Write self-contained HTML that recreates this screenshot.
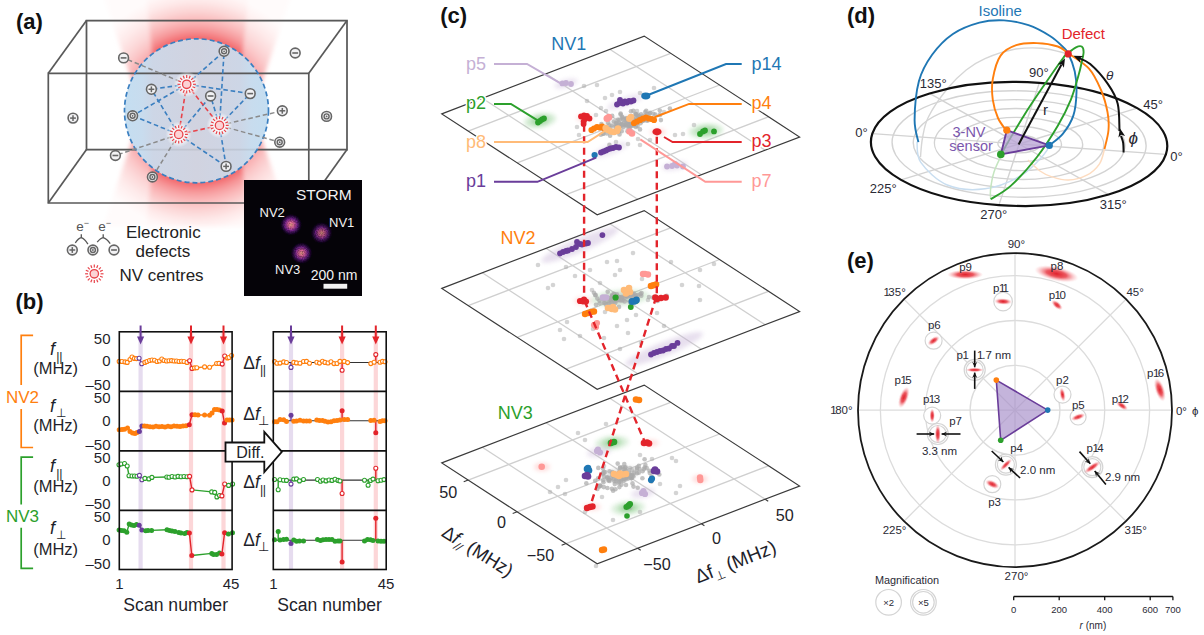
<!DOCTYPE html>
<html><head><meta charset="utf-8"><title>Figure</title>
<style>html,body{margin:0;padding:0;background:#fff;width:1204px;height:635px;overflow:hidden} svg{display:block}</style>
</head><body>
<svg width="1204" height="635" viewBox="0 0 1204 635" font-family="'Liberation Sans', Arial, sans-serif">
<defs>
<filter id="grain" x="-20%" y="-20%" width="140%" height="140%">
  <feTurbulence type="fractalNoise" baseFrequency="0.85" numOctaves="1" seed="3" result="n"/>
  <feColorMatrix in="n" type="matrix" values="0 0 0 1 0  0 0 0 1 0  0 0 0 1 0  0 0 0 1 0" result="na"/>
  <feComposite in="SourceGraphic" in2="na" operator="arithmetic" k1="1.0" k2="0.5" k3="0" k4="0"/>
</filter>
<filter id="blur6" x="-50%" y="-50%" width="200%" height="200%"><feGaussianBlur stdDeviation="6"/></filter>
<filter id="blur2" x="-50%" y="-50%" width="200%" height="200%"><feGaussianBlur stdDeviation="2"/></filter>
<radialGradient id="glowrad" gradientUnits="userSpaceOnUse" cx="196.5" cy="110.8" r="120">
  <stop offset="0.58" stop-color="#f05e63"/><stop offset="0.6" stop-color="#f2686c"/><stop offset="0.633" stop-color="#f47e81"/><stop offset="0.683" stop-color="#f79c9e"/>
  <stop offset="0.75" stop-color="#fab9ba"/><stop offset="0.833" stop-color="#fcd5d5"/><stop offset="0.917" stop-color="#feeaea"/><stop offset="1" stop-color="#fff8f8"/>
</radialGradient>
<linearGradient id="beamh" gradientUnits="userSpaceOnUse" x1="100" y1="0" x2="290" y2="0">
  <stop offset="0.079" stop-color="#000"/><stop offset="0.147" stop-color="#1a1a1a"/><stop offset="0.21" stop-color="#3a3a3a"/>
  <stop offset="0.242" stop-color="#d0d0d0"/><stop offset="0.263" stop-color="#fff"/><stop offset="0.753" stop-color="#fff"/>
  <stop offset="0.779" stop-color="#d0d0d0"/><stop offset="0.81" stop-color="#3a3a3a"/><stop offset="0.868" stop-color="#1a1a1a"/><stop offset="0.937" stop-color="#000"/>
</linearGradient>
<mask id="beammask" maskUnits="userSpaceOnUse" x="90" y="-20" width="210" height="260"><rect x="100" y="-10" width="190" height="240" fill="url(#beamh)"/></mask>
<radialGradient id="sphgrad" cx="0.5" cy="0.5" r="0.5">
  <stop offset="0" stop-color="#d2d5e2"/><stop offset="0.55" stop-color="#d0d6e4"/><stop offset="1" stop-color="#c7def0"/>
</radialGradient>
<linearGradient id="sphlin" gradientUnits="userSpaceOnUse" x1="124.5" y1="0" x2="268.5" y2="0">
  <stop offset="0" stop-color="#c4def1"/><stop offset="0.12" stop-color="#c8dcee"/><stop offset="0.2" stop-color="#cdd6e6"/>
  <stop offset="0.5" stop-color="#d1d3e0"/><stop offset="0.8" stop-color="#cdd6e6"/><stop offset="0.88" stop-color="#c8dcee"/><stop offset="1" stop-color="#c4def1"/>
</linearGradient>
<radialGradient id="nvglow" cx="0.5" cy="0.5" r="0.5">
  <stop offset="0" stop-color="#ffffff" stop-opacity="1"/><stop offset="0.6" stop-color="#ffffff" stop-opacity="0.8"/><stop offset="1" stop-color="#ffffff" stop-opacity="0"/>
</radialGradient>
<radialGradient id="stormblob" cx="0.5" cy="0.5" r="0.5">
  <stop offset="0" stop-color="#f8a890"/><stop offset="0.25" stop-color="#e0689a"/><stop offset="0.55" stop-color="#7a2590"/><stop offset="0.8" stop-color="#3a0f5a" stop-opacity="0.6"/><stop offset="1" stop-color="#1a0530" stop-opacity="0"/>
</radialGradient>

<filter id="blur06" x="-50%" y="-50%" width="200%" height="200%"><feGaussianBlur stdDeviation="0.7"/></filter>
<radialGradient id="redblob" cx="0.5" cy="0.5" r="0.5">
  <stop offset="0" stop-color="#e0202a"/><stop offset="0.45" stop-color="#e83a44" stop-opacity="0.85"/><stop offset="1" stop-color="#f7a0a5" stop-opacity="0"/>
</radialGradient>
</defs>
<rect width="1204" height="635" fill="#ffffff"/>
<g id="pa"><g filter="url(#blur2)">
<polygon points="146,-5 249,-5 236,110.8 158,110.8" stroke="none" stroke-width="1" fill="url(#glowrad)" opacity="1"/>
<polygon points="146,226.6 249,226.6 236,110.8 158,110.8" stroke="none" stroke-width="1" fill="url(#glowrad)" opacity="1"/>
<polygon points="103,-5 146,-5 158,110.8 142,110.8" stroke="none" stroke-width="1" fill="url(#glowrad)" opacity="0.55"/>
<polygon points="103,226.6 146,226.6 158,110.8 142,110.8" stroke="none" stroke-width="1" fill="url(#glowrad)" opacity="0.55"/>
<polygon points="292,-5 249,-5 236,110.8 252,110.8" stroke="none" stroke-width="1" fill="url(#glowrad)" opacity="0.55"/>
<polygon points="292,226.6 249,226.6 236,110.8 252,110.8" stroke="none" stroke-width="1" fill="url(#glowrad)" opacity="0.55"/>
</g>
<polygon points="86.5,20.6 347,20.6 347,149.6 86.5,149.6" stroke="#595959" stroke-width="1.7" fill="none" />
<circle cx="196.5" cy="110.8" r="72" fill="url(#sphlin)" stroke="none" stroke-width="1" />
<g opacity="0.12"><polygon points="86.5,20.6 347,20.6 347,149.6 86.5,149.6" stroke="#595959" stroke-width="1.7" fill="none" /></g>
<polygon points="48.3,73.3 308.8,73.3 308.8,203 48.3,203" stroke="#595959" stroke-width="1.7" fill="none" />
<line x1="48.3" y1="73.3" x2="86.5" y2="20.6" stroke="#595959" stroke-width="1.7" />
<line x1="308.8" y1="73.3" x2="347" y2="20.6" stroke="#595959" stroke-width="1.7" />
<line x1="48.3" y1="203" x2="86.5" y2="149.6" stroke="#595959" stroke-width="1.7" />
<line x1="308.8" y1="203" x2="347" y2="149.6" stroke="#595959" stroke-width="1.7" />
<circle cx="196.5" cy="110.8" r="72" fill="none" stroke="#3b7fc0" stroke-width="1.7" stroke-dasharray="5 3"/>
<line x1="186.7" y1="84.3" x2="151.4" y2="89.3" stroke="#3b7fc0" stroke-width="1.6" stroke-dasharray="4.6 2.8"/>
<line x1="186.7" y1="84.3" x2="132.6" y2="115.8" stroke="#3b7fc0" stroke-width="1.6" stroke-dasharray="4.6 2.8"/>
<line x1="186.7" y1="84.3" x2="224.1" y2="51.3" stroke="#3b7fc0" stroke-width="1.6" stroke-dasharray="4.6 2.8"/>
<line x1="186.7" y1="84.3" x2="250.2" y2="93.6" stroke="#3b7fc0" stroke-width="1.6" stroke-dasharray="4.6 2.8"/>
<line x1="219.5" y1="125.4" x2="250.2" y2="93.6" stroke="#3b7fc0" stroke-width="1.6" stroke-dasharray="4.6 2.8"/>
<line x1="219.5" y1="125.4" x2="224.1" y2="51.3" stroke="#3b7fc0" stroke-width="1.6" stroke-dasharray="4.6 2.8"/>
<line x1="178.7" y1="134.4" x2="132.6" y2="115.8" stroke="#3b7fc0" stroke-width="1.6" stroke-dasharray="4.6 2.8"/>
<line x1="178.7" y1="134.4" x2="151.4" y2="89.3" stroke="#3b7fc0" stroke-width="1.6" stroke-dasharray="4.6 2.8"/>
<line x1="178.7" y1="134.4" x2="226.1" y2="166.4" stroke="#3b7fc0" stroke-width="1.6" stroke-dasharray="4.6 2.8"/>
<line x1="219.5" y1="125.4" x2="226.1" y2="166.4" stroke="#3b7fc0" stroke-width="1.6" stroke-dasharray="4.6 2.8"/>
<line x1="178.7" y1="134.4" x2="210.6" y2="96" stroke="#3b7fc0" stroke-width="1.6" stroke-dasharray="4.6 2.8"/>
<line x1="219.5" y1="125.4" x2="210.6" y2="96" stroke="#3b7fc0" stroke-width="1.6" stroke-dasharray="4.6 2.8"/>
<line x1="186.7" y1="84.3" x2="123.6" y2="57.9" stroke="#8a8a8a" stroke-width="1.5" stroke-dasharray="4.6 2.8"/>
<line x1="219.5" y1="125.4" x2="282.3" y2="110.8" stroke="#8a8a8a" stroke-width="1.5" stroke-dasharray="4.6 2.8"/>
<line x1="219.5" y1="125.4" x2="279.7" y2="142.2" stroke="#8a8a8a" stroke-width="1.5" stroke-dasharray="4.6 2.8"/>
<line x1="178.7" y1="134.4" x2="115.4" y2="155.5" stroke="#8a8a8a" stroke-width="1.5" stroke-dasharray="4.6 2.8"/>
<line x1="178.7" y1="134.4" x2="152.4" y2="177" stroke="#8a8a8a" stroke-width="1.5" stroke-dasharray="4.6 2.8"/>
<line x1="186.7" y1="84.3" x2="178.7" y2="134.4" stroke="#e8434a" stroke-width="1.6" stroke-dasharray="4.6 2.8"/>
<line x1="186.7" y1="84.3" x2="219.5" y2="125.4" stroke="#e8434a" stroke-width="1.6" stroke-dasharray="4.6 2.8"/>
<line x1="178.7" y1="134.4" x2="219.5" y2="125.4" stroke="#e8434a" stroke-width="1.6" stroke-dasharray="4.6 2.8"/>
<circle cx="123.6" cy="57.9" r="4.9" fill="#f2f2f4" stroke="#666666" stroke-width="1.6" />
<line x1="120.7" y1="57.9" x2="126.5" y2="57.9" stroke="#666666" stroke-width="1.6" />
<circle cx="224.1" cy="51.3" r="4.9" fill="#f2f2f4" stroke="#666666" stroke-width="1.6" />
<circle cx="224.1" cy="51.3" r="2.5" fill="none" stroke="#666666" stroke-width="1.4" />
<circle cx="224.1" cy="51.3" r="0.9" fill="#666666" stroke="none" stroke-width="1" />
<circle cx="295.2" cy="53" r="4.9" fill="#f2f2f4" stroke="#666666" stroke-width="1.6" />
<line x1="292.3" y1="53" x2="298.1" y2="53" stroke="#666666" stroke-width="1.6" />
<circle cx="151.4" cy="89.3" r="4.9" fill="#f2f2f4" stroke="#666666" stroke-width="1.6" />
<line x1="148.5" y1="89.3" x2="154.3" y2="89.3" stroke="#666666" stroke-width="1.5" />
<line x1="151.4" y1="86.4" x2="151.4" y2="92.2" stroke="#666666" stroke-width="1.5" />
<circle cx="210.6" cy="96" r="4.9" fill="#f2f2f4" stroke="#666666" stroke-width="1.6" />
<line x1="207.7" y1="96" x2="213.5" y2="96" stroke="#666666" stroke-width="1.6" />
<circle cx="250.2" cy="93.6" r="4.9" fill="#f2f2f4" stroke="#666666" stroke-width="1.6" />
<line x1="247.3" y1="93.6" x2="253.1" y2="93.6" stroke="#666666" stroke-width="1.6" />
<circle cx="132.6" cy="115.8" r="4.9" fill="#f2f2f4" stroke="#666666" stroke-width="1.6" />
<circle cx="132.6" cy="115.8" r="2.5" fill="none" stroke="#666666" stroke-width="1.4" />
<circle cx="132.6" cy="115.8" r="0.9" fill="#666666" stroke="none" stroke-width="1" />
<circle cx="73" cy="118.1" r="4.9" fill="#f2f2f4" stroke="#666666" stroke-width="1.6" />
<line x1="70.1" y1="118.1" x2="75.9" y2="118.1" stroke="#666666" stroke-width="1.5" />
<line x1="73" y1="115.2" x2="73" y2="121" stroke="#666666" stroke-width="1.5" />
<circle cx="282.3" cy="110.8" r="4.9" fill="#f2f2f4" stroke="#666666" stroke-width="1.6" />
<line x1="279.4" y1="110.8" x2="285.2" y2="110.8" stroke="#666666" stroke-width="1.5" />
<line x1="282.3" y1="107.9" x2="282.3" y2="113.7" stroke="#666666" stroke-width="1.5" />
<circle cx="326.6" cy="116.4" r="4.9" fill="#f2f2f4" stroke="#666666" stroke-width="1.6" />
<circle cx="326.6" cy="116.4" r="2.5" fill="none" stroke="#666666" stroke-width="1.4" />
<circle cx="326.6" cy="116.4" r="0.9" fill="#666666" stroke="none" stroke-width="1" />
<circle cx="279.7" cy="142.2" r="4.9" fill="#f2f2f4" stroke="#666666" stroke-width="1.6" />
<circle cx="279.7" cy="142.2" r="2.5" fill="none" stroke="#666666" stroke-width="1.4" />
<circle cx="279.7" cy="142.2" r="0.9" fill="#666666" stroke="none" stroke-width="1" />
<circle cx="115.4" cy="155.5" r="4.9" fill="#f2f2f4" stroke="#666666" stroke-width="1.6" />
<line x1="112.5" y1="155.5" x2="118.3" y2="155.5" stroke="#666666" stroke-width="1.6" />
<circle cx="226.1" cy="166.4" r="4.9" fill="#f2f2f4" stroke="#666666" stroke-width="1.6" />
<line x1="223.2" y1="166.4" x2="229" y2="166.4" stroke="#666666" stroke-width="1.5" />
<line x1="226.1" y1="163.5" x2="226.1" y2="169.3" stroke="#666666" stroke-width="1.5" />
<circle cx="152.4" cy="177" r="4.9" fill="#f2f2f4" stroke="#666666" stroke-width="1.6" />
<circle cx="152.4" cy="177" r="2.5" fill="none" stroke="#666666" stroke-width="1.4" />
<circle cx="152.4" cy="177" r="0.9" fill="#666666" stroke="none" stroke-width="1" />
<circle cx="186.7" cy="84.3" r="13" fill="url(#nvglow)" stroke="none" stroke-width="1" />
<circle cx="186.7" cy="84.3" r="4.2" fill="#fcd3d5" stroke="#e8434a" stroke-width="1.3" />
<line x1="193" y1="84.3" x2="195.9" y2="84.3" stroke="#e8434a" stroke-width="1.2" />
<line x1="192.5" y1="86.7" x2="195.2" y2="87.8" stroke="#e8434a" stroke-width="1.2" />
<line x1="191.2" y1="88.8" x2="193.2" y2="90.8" stroke="#e8434a" stroke-width="1.2" />
<line x1="189.1" y1="90.1" x2="190.2" y2="92.8" stroke="#e8434a" stroke-width="1.2" />
<line x1="186.7" y1="90.6" x2="186.7" y2="93.5" stroke="#e8434a" stroke-width="1.2" />
<line x1="184.3" y1="90.1" x2="183.2" y2="92.8" stroke="#e8434a" stroke-width="1.2" />
<line x1="182.2" y1="88.8" x2="180.2" y2="90.8" stroke="#e8434a" stroke-width="1.2" />
<line x1="180.9" y1="86.7" x2="178.2" y2="87.8" stroke="#e8434a" stroke-width="1.2" />
<line x1="180.4" y1="84.3" x2="177.5" y2="84.3" stroke="#e8434a" stroke-width="1.2" />
<line x1="180.9" y1="81.9" x2="178.2" y2="80.8" stroke="#e8434a" stroke-width="1.2" />
<line x1="182.2" y1="79.8" x2="180.2" y2="77.8" stroke="#e8434a" stroke-width="1.2" />
<line x1="184.3" y1="78.5" x2="183.2" y2="75.8" stroke="#e8434a" stroke-width="1.2" />
<line x1="186.7" y1="78" x2="186.7" y2="75.1" stroke="#e8434a" stroke-width="1.2" />
<line x1="189.1" y1="78.5" x2="190.2" y2="75.8" stroke="#e8434a" stroke-width="1.2" />
<line x1="191.2" y1="79.8" x2="193.2" y2="77.8" stroke="#e8434a" stroke-width="1.2" />
<line x1="192.5" y1="81.9" x2="195.2" y2="80.8" stroke="#e8434a" stroke-width="1.2" />
<circle cx="178.7" cy="134.4" r="13" fill="url(#nvglow)" stroke="none" stroke-width="1" />
<circle cx="178.7" cy="134.4" r="4.2" fill="#fcd3d5" stroke="#e8434a" stroke-width="1.3" />
<line x1="185" y1="134.4" x2="187.9" y2="134.4" stroke="#e8434a" stroke-width="1.2" />
<line x1="184.5" y1="136.8" x2="187.2" y2="137.9" stroke="#e8434a" stroke-width="1.2" />
<line x1="183.2" y1="138.9" x2="185.2" y2="140.9" stroke="#e8434a" stroke-width="1.2" />
<line x1="181.1" y1="140.2" x2="182.2" y2="142.9" stroke="#e8434a" stroke-width="1.2" />
<line x1="178.7" y1="140.7" x2="178.7" y2="143.6" stroke="#e8434a" stroke-width="1.2" />
<line x1="176.3" y1="140.2" x2="175.2" y2="142.9" stroke="#e8434a" stroke-width="1.2" />
<line x1="174.2" y1="138.9" x2="172.2" y2="140.9" stroke="#e8434a" stroke-width="1.2" />
<line x1="172.9" y1="136.8" x2="170.2" y2="137.9" stroke="#e8434a" stroke-width="1.2" />
<line x1="172.4" y1="134.4" x2="169.5" y2="134.4" stroke="#e8434a" stroke-width="1.2" />
<line x1="172.9" y1="132" x2="170.2" y2="130.9" stroke="#e8434a" stroke-width="1.2" />
<line x1="174.2" y1="129.9" x2="172.2" y2="127.9" stroke="#e8434a" stroke-width="1.2" />
<line x1="176.3" y1="128.6" x2="175.2" y2="125.9" stroke="#e8434a" stroke-width="1.2" />
<line x1="178.7" y1="128.1" x2="178.7" y2="125.2" stroke="#e8434a" stroke-width="1.2" />
<line x1="181.1" y1="128.6" x2="182.2" y2="125.9" stroke="#e8434a" stroke-width="1.2" />
<line x1="183.2" y1="129.9" x2="185.2" y2="127.9" stroke="#e8434a" stroke-width="1.2" />
<line x1="184.5" y1="132" x2="187.2" y2="130.9" stroke="#e8434a" stroke-width="1.2" />
<circle cx="219.5" cy="125.4" r="13" fill="url(#nvglow)" stroke="none" stroke-width="1" />
<circle cx="219.5" cy="125.4" r="4.2" fill="#fcd3d5" stroke="#e8434a" stroke-width="1.3" />
<line x1="225.8" y1="125.4" x2="228.7" y2="125.4" stroke="#e8434a" stroke-width="1.2" />
<line x1="225.3" y1="127.8" x2="228" y2="128.9" stroke="#e8434a" stroke-width="1.2" />
<line x1="224" y1="129.9" x2="226" y2="131.9" stroke="#e8434a" stroke-width="1.2" />
<line x1="221.9" y1="131.2" x2="223" y2="133.9" stroke="#e8434a" stroke-width="1.2" />
<line x1="219.5" y1="131.7" x2="219.5" y2="134.6" stroke="#e8434a" stroke-width="1.2" />
<line x1="217.1" y1="131.2" x2="216" y2="133.9" stroke="#e8434a" stroke-width="1.2" />
<line x1="215" y1="129.9" x2="213" y2="131.9" stroke="#e8434a" stroke-width="1.2" />
<line x1="213.7" y1="127.8" x2="211" y2="128.9" stroke="#e8434a" stroke-width="1.2" />
<line x1="213.2" y1="125.4" x2="210.3" y2="125.4" stroke="#e8434a" stroke-width="1.2" />
<line x1="213.7" y1="123" x2="211" y2="121.9" stroke="#e8434a" stroke-width="1.2" />
<line x1="215" y1="120.9" x2="213" y2="118.9" stroke="#e8434a" stroke-width="1.2" />
<line x1="217.1" y1="119.6" x2="216" y2="116.9" stroke="#e8434a" stroke-width="1.2" />
<line x1="219.5" y1="119.1" x2="219.5" y2="116.2" stroke="#e8434a" stroke-width="1.2" />
<line x1="221.9" y1="119.6" x2="223" y2="116.9" stroke="#e8434a" stroke-width="1.2" />
<line x1="224" y1="120.9" x2="226" y2="118.9" stroke="#e8434a" stroke-width="1.2" />
<line x1="225.3" y1="123" x2="228" y2="121.9" stroke="#e8434a" stroke-width="1.2" />
<circle cx="72.3" cy="250" r="4.9" fill="#f2f2f4" stroke="#666666" stroke-width="1.6" />
<line x1="69.4" y1="250" x2="75.2" y2="250" stroke="#666666" stroke-width="1.5" />
<line x1="72.3" y1="247.1" x2="72.3" y2="252.9" stroke="#666666" stroke-width="1.5" />
<circle cx="92.9" cy="250" r="4.9" fill="#f2f2f4" stroke="#666666" stroke-width="1.6" />
<circle cx="92.9" cy="250" r="2.5" fill="none" stroke="#666666" stroke-width="1.4" />
<circle cx="92.9" cy="250" r="0.9" fill="#666666" stroke="none" stroke-width="1" />
<circle cx="114" cy="250" r="4.9" fill="#f2f2f4" stroke="#666666" stroke-width="1.6" />
<line x1="111.1" y1="250" x2="116.9" y2="250" stroke="#666666" stroke-width="1.6" />
<text x="76.3" y="231.2" font-size="13.5" fill="#555" text-anchor="start" font-weight="normal" >e<tspan dy="-5" font-size="9">−</tspan></text>
<text x="98.3" y="231.2" font-size="13.5" fill="#555" text-anchor="start" font-weight="normal" >e<tspan dy="-5" font-size="9">−</tspan></text>
<path d="M75.3,242.9 Q78.5,238 81.3,237.6 Q84.5,238.5 87.9,244.2 M81.3,237.6 L81.3,234.3" fill="none" stroke="#555" stroke-width="1.3"/>
<path d="M97.2,242.2 Q100.4,238 103.2,237.6 Q106.5,238.5 110.2,243.6 M103.2,237.6 L103.2,234.3" fill="none" stroke="#555" stroke-width="1.3"/>
<text x="126" y="237.8" font-size="17" fill="#222" text-anchor="start" font-weight="normal" >Electronic</text>
<text x="135.5" y="256.5" font-size="17" fill="#222" text-anchor="start" font-weight="normal" >defects</text>
<circle cx="94.3" cy="273.8" r="13" fill="url(#nvglow)" stroke="none" stroke-width="1" />
<circle cx="94.3" cy="273.8" r="4.2" fill="#fcd3d5" stroke="#e8434a" stroke-width="1.3" />
<line x1="100.6" y1="273.8" x2="103.5" y2="273.8" stroke="#e8434a" stroke-width="1.2" />
<line x1="100.1" y1="276.2" x2="102.8" y2="277.3" stroke="#e8434a" stroke-width="1.2" />
<line x1="98.8" y1="278.3" x2="100.8" y2="280.3" stroke="#e8434a" stroke-width="1.2" />
<line x1="96.7" y1="279.6" x2="97.8" y2="282.3" stroke="#e8434a" stroke-width="1.2" />
<line x1="94.3" y1="280.1" x2="94.3" y2="283" stroke="#e8434a" stroke-width="1.2" />
<line x1="91.9" y1="279.6" x2="90.8" y2="282.3" stroke="#e8434a" stroke-width="1.2" />
<line x1="89.8" y1="278.3" x2="87.8" y2="280.3" stroke="#e8434a" stroke-width="1.2" />
<line x1="88.5" y1="276.2" x2="85.8" y2="277.3" stroke="#e8434a" stroke-width="1.2" />
<line x1="88" y1="273.8" x2="85.1" y2="273.8" stroke="#e8434a" stroke-width="1.2" />
<line x1="88.5" y1="271.4" x2="85.8" y2="270.3" stroke="#e8434a" stroke-width="1.2" />
<line x1="89.8" y1="269.3" x2="87.8" y2="267.3" stroke="#e8434a" stroke-width="1.2" />
<line x1="91.9" y1="268" x2="90.8" y2="265.3" stroke="#e8434a" stroke-width="1.2" />
<line x1="94.3" y1="267.5" x2="94.3" y2="264.6" stroke="#e8434a" stroke-width="1.2" />
<line x1="96.7" y1="268" x2="97.8" y2="265.3" stroke="#e8434a" stroke-width="1.2" />
<line x1="98.8" y1="269.3" x2="100.8" y2="267.3" stroke="#e8434a" stroke-width="1.2" />
<line x1="100.1" y1="271.4" x2="102.8" y2="270.3" stroke="#e8434a" stroke-width="1.2" />
<text x="119.5" y="281" font-size="17" fill="#222" text-anchor="start" font-weight="normal" >NV centres</text>
<rect x="244" y="180" width="118" height="116" fill="#050308"/>
<g filter="url(#grain)">
<circle cx="291.1" cy="224.7" r="11" fill="url(#stormblob)" stroke="none" stroke-width="1" opacity="1"/>
<circle cx="321.6" cy="233" r="11" fill="url(#stormblob)" stroke="none" stroke-width="1" opacity="0.8"/>
<circle cx="301.5" cy="253.1" r="11" fill="url(#stormblob)" stroke="none" stroke-width="1" opacity="0.92"/>
</g>
<text x="296" y="199.7" font-size="15.5" fill="#f2f2f2" text-anchor="start" font-weight="normal" >STORM</text>
<text x="259.5" y="216.5" font-size="13" fill="#f2f2f2" text-anchor="start" font-weight="normal" >NV2</text>
<text x="329" y="226.6" font-size="13" fill="#f2f2f2" text-anchor="start" font-weight="normal" >NV1</text>
<text x="275" y="274" font-size="13" fill="#f2f2f2" text-anchor="start" font-weight="normal" >NV3</text>
<text x="310.7" y="279.5" font-size="14" fill="#f2f2f2" text-anchor="start" font-weight="normal" >200 nm</text>
<rect x="323.5" y="283.8" width="23.7" height="4.9" fill="#f2f2f2"/></g>
<g id="pb"><rect x="138.5" y="331.8" width="4.2" height="237.7" fill="#e6dcef"/>
<rect x="188.9" y="331.8" width="4.2" height="237.7" fill="#fcd6d8"/>
<rect x="221.4" y="331.8" width="4.2" height="237.7" fill="#fcd6d8"/>
<rect x="288.9" y="331.8" width="4.2" height="237.7" fill="#e6dcef"/>
<rect x="340" y="331.8" width="4.2" height="237.7" fill="#fcd6d8"/>
<rect x="373.7" y="331.8" width="4.2" height="237.7" fill="#fcd6d8"/>
<line x1="119.2" y1="361.4" x2="122" y2="361.5" stroke="#ff7f0e" stroke-width="1.4" stroke-linecap="round"/>
<line x1="122" y1="361.5" x2="125" y2="361.9" stroke="#ff7f0e" stroke-width="1.4" stroke-linecap="round"/>
<line x1="125" y1="361.9" x2="127.2" y2="362.4" stroke="#ff7f0e" stroke-width="1.4" stroke-linecap="round"/>
<line x1="127.2" y1="362.4" x2="130" y2="359.5" stroke="#ff7f0e" stroke-width="1.4" stroke-linecap="round"/>
<line x1="130" y1="359.5" x2="132" y2="357" stroke="#ff7f0e" stroke-width="1.4" stroke-linecap="round"/>
<line x1="132" y1="357" x2="134.4" y2="358.4" stroke="#ff7f0e" stroke-width="1.4" stroke-linecap="round"/>
<line x1="134.4" y1="358.4" x2="136.5" y2="358.6" stroke="#ff7f0e" stroke-width="1.4" stroke-linecap="round"/>
<line x1="136.5" y1="358.6" x2="139.1" y2="358.2" stroke="#ff7f0e" stroke-width="1.4" stroke-linecap="round"/>
<line x1="139.1" y1="358.2" x2="141.7" y2="363.7" stroke="#6a3d9a" stroke-width="1.4" stroke-linecap="round"/>
<line x1="141.7" y1="363.7" x2="144.9" y2="362.4" stroke="#ff7f0e" stroke-width="1.4" stroke-linecap="round"/>
<line x1="144.9" y1="362.4" x2="147" y2="361.5" stroke="#ff7f0e" stroke-width="1.4" stroke-linecap="round"/>
<line x1="147" y1="361.5" x2="149.5" y2="360.5" stroke="#ff7f0e" stroke-width="1.4" stroke-linecap="round"/>
<line x1="149.5" y1="360.5" x2="152" y2="360" stroke="#ff7f0e" stroke-width="1.4" stroke-linecap="round"/>
<line x1="152" y1="360" x2="154.5" y2="360.3" stroke="#ff7f0e" stroke-width="1.4" stroke-linecap="round"/>
<line x1="154.5" y1="360.3" x2="157" y2="361.5" stroke="#ff7f0e" stroke-width="1.4" stroke-linecap="round"/>
<line x1="157" y1="361.5" x2="159.5" y2="361" stroke="#ff7f0e" stroke-width="1.4" stroke-linecap="round"/>
<line x1="159.5" y1="361" x2="161.8" y2="359" stroke="#ff7f0e" stroke-width="1.4" stroke-linecap="round"/>
<line x1="161.8" y1="359" x2="164" y2="360.5" stroke="#ff7f0e" stroke-width="1.4" stroke-linecap="round"/>
<line x1="164" y1="360.5" x2="166.5" y2="361" stroke="#ff7f0e" stroke-width="1.4" stroke-linecap="round"/>
<line x1="166.5" y1="361" x2="169" y2="360.8" stroke="#ff7f0e" stroke-width="1.4" stroke-linecap="round"/>
<line x1="169" y1="360.8" x2="171.5" y2="360.6" stroke="#ff7f0e" stroke-width="1.4" stroke-linecap="round"/>
<line x1="171.5" y1="360.6" x2="174" y2="361" stroke="#ff7f0e" stroke-width="1.4" stroke-linecap="round"/>
<line x1="174" y1="361" x2="176.5" y2="361" stroke="#ff7f0e" stroke-width="1.4" stroke-linecap="round"/>
<line x1="176.5" y1="361" x2="179" y2="361.5" stroke="#ff7f0e" stroke-width="1.4" stroke-linecap="round"/>
<line x1="179" y1="361.5" x2="181.5" y2="361.3" stroke="#ff7f0e" stroke-width="1.4" stroke-linecap="round"/>
<line x1="181.5" y1="361.3" x2="184" y2="361.5" stroke="#ff7f0e" stroke-width="1.4" stroke-linecap="round"/>
<line x1="184" y1="361.5" x2="187" y2="362.4" stroke="#ff7f0e" stroke-width="1.4" stroke-linecap="round"/>
<line x1="187" y1="362.4" x2="189.6" y2="360.7" stroke="#ff7f0e" stroke-width="1.4" stroke-linecap="round"/>
<line x1="189.6" y1="360.7" x2="192" y2="368.4" stroke="#e3242b" stroke-width="1.4" stroke-linecap="round"/>
<line x1="192" y1="368.4" x2="194.5" y2="367.9" stroke="#ff7f0e" stroke-width="1.4" stroke-linecap="round"/>
<line x1="194.5" y1="367.9" x2="196.8" y2="367.7" stroke="#ff7f0e" stroke-width="1.4" stroke-linecap="round"/>
<line x1="196.8" y1="367.7" x2="204.6" y2="366.9" stroke="#ff7f0e" stroke-width="1.4" stroke-linecap="round"/>
<line x1="204.6" y1="366.9" x2="209.6" y2="367.3" stroke="#ff7f0e" stroke-width="1.4" stroke-linecap="round"/>
<line x1="209.6" y1="367.3" x2="216.6" y2="363.5" stroke="#ff7f0e" stroke-width="1.4" stroke-linecap="round"/>
<line x1="216.6" y1="363.5" x2="219" y2="363.4" stroke="#ff7f0e" stroke-width="1.4" stroke-linecap="round"/>
<line x1="219" y1="363.4" x2="222.2" y2="364.1" stroke="#ff7f0e" stroke-width="1.4" stroke-linecap="round"/>
<line x1="222.2" y1="364.1" x2="224.7" y2="356" stroke="#e3242b" stroke-width="1.4" stroke-linecap="round"/>
<line x1="224.7" y1="356" x2="227.5" y2="358" stroke="#ff7f0e" stroke-width="1.4" stroke-linecap="round"/>
<line x1="227.5" y1="358" x2="229" y2="357.5" stroke="#ff7f0e" stroke-width="1.4" stroke-linecap="round"/>
<line x1="229" y1="357.5" x2="231.6" y2="355.5" stroke="#ff7f0e" stroke-width="1.4" stroke-linecap="round"/>
<circle cx="119.2" cy="361.4" r="2" fill="white" stroke="#ff7f0e" stroke-width="1.1" />
<circle cx="122" cy="361.5" r="2" fill="white" stroke="#ff7f0e" stroke-width="1.1" />
<circle cx="125" cy="361.9" r="2" fill="white" stroke="#ff7f0e" stroke-width="1.1" />
<circle cx="127.2" cy="362.4" r="2" fill="white" stroke="#ff7f0e" stroke-width="1.1" />
<circle cx="130" cy="359.5" r="2" fill="white" stroke="#ff7f0e" stroke-width="1.1" />
<circle cx="132" cy="357" r="2" fill="white" stroke="#ff7f0e" stroke-width="1.1" />
<circle cx="134.4" cy="358.4" r="2" fill="white" stroke="#ff7f0e" stroke-width="1.1" />
<circle cx="136.5" cy="358.6" r="2" fill="white" stroke="#ff7f0e" stroke-width="1.1" />
<circle cx="139.1" cy="358.2" r="2" fill="white" stroke="#6a3d9a" stroke-width="1.1" />
<circle cx="141.7" cy="363.7" r="2" fill="white" stroke="#6a3d9a" stroke-width="1.1" />
<circle cx="144.9" cy="362.4" r="2" fill="white" stroke="#ff7f0e" stroke-width="1.1" />
<circle cx="147" cy="361.5" r="2" fill="white" stroke="#ff7f0e" stroke-width="1.1" />
<circle cx="149.5" cy="360.5" r="2" fill="white" stroke="#ff7f0e" stroke-width="1.1" />
<circle cx="152" cy="360" r="2" fill="white" stroke="#ff7f0e" stroke-width="1.1" />
<circle cx="154.5" cy="360.3" r="2" fill="white" stroke="#ff7f0e" stroke-width="1.1" />
<circle cx="157" cy="361.5" r="2" fill="white" stroke="#ff7f0e" stroke-width="1.1" />
<circle cx="159.5" cy="361" r="2" fill="white" stroke="#ff7f0e" stroke-width="1.1" />
<circle cx="161.8" cy="359" r="2" fill="white" stroke="#ff7f0e" stroke-width="1.1" />
<circle cx="164" cy="360.5" r="2" fill="white" stroke="#ff7f0e" stroke-width="1.1" />
<circle cx="166.5" cy="361" r="2" fill="white" stroke="#ff7f0e" stroke-width="1.1" />
<circle cx="169" cy="360.8" r="2" fill="white" stroke="#ff7f0e" stroke-width="1.1" />
<circle cx="171.5" cy="360.6" r="2" fill="white" stroke="#ff7f0e" stroke-width="1.1" />
<circle cx="174" cy="361" r="2" fill="white" stroke="#ff7f0e" stroke-width="1.1" />
<circle cx="176.5" cy="361" r="2" fill="white" stroke="#ff7f0e" stroke-width="1.1" />
<circle cx="179" cy="361.5" r="2" fill="white" stroke="#ff7f0e" stroke-width="1.1" />
<circle cx="181.5" cy="361.3" r="2" fill="white" stroke="#ff7f0e" stroke-width="1.1" />
<circle cx="184" cy="361.5" r="2" fill="white" stroke="#ff7f0e" stroke-width="1.1" />
<circle cx="187" cy="362.4" r="2" fill="white" stroke="#ff7f0e" stroke-width="1.1" />
<circle cx="189.6" cy="360.7" r="2" fill="white" stroke="#e3242b" stroke-width="1.1" />
<circle cx="192" cy="368.4" r="2" fill="white" stroke="#e3242b" stroke-width="1.1" />
<circle cx="194.5" cy="367.9" r="2" fill="white" stroke="#ff7f0e" stroke-width="1.1" />
<circle cx="196.8" cy="367.7" r="2" fill="white" stroke="#ff7f0e" stroke-width="1.1" />
<circle cx="204.6" cy="366.9" r="2" fill="white" stroke="#ff7f0e" stroke-width="1.1" />
<circle cx="209.6" cy="367.3" r="2" fill="white" stroke="#ff7f0e" stroke-width="1.1" />
<circle cx="216.6" cy="363.5" r="2" fill="white" stroke="#ff7f0e" stroke-width="1.1" />
<circle cx="219" cy="363.4" r="2" fill="white" stroke="#ff7f0e" stroke-width="1.1" />
<circle cx="222.2" cy="364.1" r="2" fill="white" stroke="#e3242b" stroke-width="1.1" />
<circle cx="224.7" cy="356" r="2" fill="white" stroke="#e3242b" stroke-width="1.1" />
<circle cx="227.5" cy="358" r="2" fill="white" stroke="#ff7f0e" stroke-width="1.1" />
<circle cx="229" cy="357.5" r="2" fill="white" stroke="#ff7f0e" stroke-width="1.1" />
<circle cx="231.6" cy="355.5" r="2" fill="white" stroke="#ff7f0e" stroke-width="1.1" />
<line x1="119.2" y1="429.7" x2="122" y2="429.5" stroke="#ff7f0e" stroke-width="1.4" stroke-linecap="round"/>
<line x1="122" y1="429.5" x2="124.5" y2="429.2" stroke="#ff7f0e" stroke-width="1.4" stroke-linecap="round"/>
<line x1="124.5" y1="429.2" x2="127.5" y2="428" stroke="#ff7f0e" stroke-width="1.4" stroke-linecap="round"/>
<line x1="127.5" y1="428" x2="130" y2="431.5" stroke="#ff7f0e" stroke-width="1.4" stroke-linecap="round"/>
<line x1="130" y1="431.5" x2="132.5" y2="433" stroke="#ff7f0e" stroke-width="1.4" stroke-linecap="round"/>
<line x1="132.5" y1="433" x2="135" y2="433.4" stroke="#ff7f0e" stroke-width="1.4" stroke-linecap="round"/>
<line x1="135" y1="433.4" x2="137" y2="432.5" stroke="#ff7f0e" stroke-width="1.4" stroke-linecap="round"/>
<line x1="137" y1="432.5" x2="139.4" y2="431.4" stroke="#ff7f0e" stroke-width="1.4" stroke-linecap="round"/>
<line x1="139.4" y1="431.4" x2="141.9" y2="425.9" stroke="#6a3d9a" stroke-width="1.4" stroke-linecap="round"/>
<line x1="141.9" y1="425.9" x2="144.5" y2="426" stroke="#ff7f0e" stroke-width="1.4" stroke-linecap="round"/>
<line x1="144.5" y1="426" x2="147" y2="426.2" stroke="#ff7f0e" stroke-width="1.4" stroke-linecap="round"/>
<line x1="147" y1="426.2" x2="150" y2="426.8" stroke="#ff7f0e" stroke-width="1.4" stroke-linecap="round"/>
<line x1="150" y1="426.8" x2="153" y2="427" stroke="#ff7f0e" stroke-width="1.4" stroke-linecap="round"/>
<line x1="153" y1="427" x2="156" y2="426.3" stroke="#ff7f0e" stroke-width="1.4" stroke-linecap="round"/>
<line x1="156" y1="426.3" x2="159" y2="426.8" stroke="#ff7f0e" stroke-width="1.4" stroke-linecap="round"/>
<line x1="159" y1="426.8" x2="162" y2="426.5" stroke="#ff7f0e" stroke-width="1.4" stroke-linecap="round"/>
<line x1="162" y1="426.5" x2="165" y2="427" stroke="#ff7f0e" stroke-width="1.4" stroke-linecap="round"/>
<line x1="165" y1="427" x2="168" y2="426.3" stroke="#ff7f0e" stroke-width="1.4" stroke-linecap="round"/>
<line x1="168" y1="426.3" x2="171" y2="426.8" stroke="#ff7f0e" stroke-width="1.4" stroke-linecap="round"/>
<line x1="171" y1="426.8" x2="174" y2="426" stroke="#ff7f0e" stroke-width="1.4" stroke-linecap="round"/>
<line x1="174" y1="426" x2="177" y2="426.3" stroke="#ff7f0e" stroke-width="1.4" stroke-linecap="round"/>
<line x1="177" y1="426.3" x2="180" y2="426.5" stroke="#ff7f0e" stroke-width="1.4" stroke-linecap="round"/>
<line x1="180" y1="426.5" x2="183" y2="426" stroke="#ff7f0e" stroke-width="1.4" stroke-linecap="round"/>
<line x1="183" y1="426" x2="186" y2="425.8" stroke="#ff7f0e" stroke-width="1.4" stroke-linecap="round"/>
<line x1="186" y1="425.8" x2="189.3" y2="424.7" stroke="#ff7f0e" stroke-width="1.4" stroke-linecap="round"/>
<line x1="189.3" y1="424.7" x2="192" y2="414.7" stroke="#e3242b" stroke-width="1.4" stroke-linecap="round"/>
<line x1="192" y1="414.7" x2="195" y2="414.8" stroke="#ff7f0e" stroke-width="1.4" stroke-linecap="round"/>
<line x1="195" y1="414.8" x2="198" y2="415" stroke="#ff7f0e" stroke-width="1.4" stroke-linecap="round"/>
<line x1="198" y1="415" x2="204.6" y2="415" stroke="#ff7f0e" stroke-width="1.4" stroke-linecap="round"/>
<line x1="204.6" y1="415" x2="209.6" y2="415.3" stroke="#ff7f0e" stroke-width="1.4" stroke-linecap="round"/>
<line x1="209.6" y1="415.3" x2="212" y2="413" stroke="#ff7f0e" stroke-width="1.4" stroke-linecap="round"/>
<line x1="212" y1="413" x2="214.5" y2="409.5" stroke="#ff7f0e" stroke-width="1.4" stroke-linecap="round"/>
<line x1="214.5" y1="409.5" x2="217" y2="409.5" stroke="#ff7f0e" stroke-width="1.4" stroke-linecap="round"/>
<line x1="217" y1="409.5" x2="219.5" y2="410" stroke="#ff7f0e" stroke-width="1.4" stroke-linecap="round"/>
<line x1="219.5" y1="410" x2="222.2" y2="411" stroke="#ff7f0e" stroke-width="1.4" stroke-linecap="round"/>
<line x1="222.2" y1="411" x2="224.5" y2="422.9" stroke="#e3242b" stroke-width="1.4" stroke-linecap="round"/>
<line x1="224.5" y1="422.9" x2="227" y2="420" stroke="#ff7f0e" stroke-width="1.4" stroke-linecap="round"/>
<line x1="227" y1="420" x2="229.5" y2="420" stroke="#ff7f0e" stroke-width="1.4" stroke-linecap="round"/>
<line x1="229.5" y1="420" x2="232" y2="420" stroke="#ff7f0e" stroke-width="1.4" stroke-linecap="round"/>
<circle cx="119.2" cy="429.7" r="2.5" fill="#ff7f0e" stroke="none" stroke-width="1" />
<circle cx="122" cy="429.5" r="2.5" fill="#ff7f0e" stroke="none" stroke-width="1" />
<circle cx="124.5" cy="429.2" r="2.5" fill="#ff7f0e" stroke="none" stroke-width="1" />
<circle cx="127.5" cy="428" r="2.5" fill="#ff7f0e" stroke="none" stroke-width="1" />
<circle cx="130" cy="431.5" r="2.5" fill="#ff7f0e" stroke="none" stroke-width="1" />
<circle cx="132.5" cy="433" r="2.5" fill="#ff7f0e" stroke="none" stroke-width="1" />
<circle cx="135" cy="433.4" r="2.5" fill="#ff7f0e" stroke="none" stroke-width="1" />
<circle cx="137" cy="432.5" r="2.5" fill="#ff7f0e" stroke="none" stroke-width="1" />
<circle cx="139.4" cy="431.4" r="2.5" fill="#6a3d9a" stroke="none" stroke-width="1" />
<circle cx="141.9" cy="425.9" r="2.5" fill="#6a3d9a" stroke="none" stroke-width="1" />
<circle cx="144.5" cy="426" r="2.5" fill="#ff7f0e" stroke="none" stroke-width="1" />
<circle cx="147" cy="426.2" r="2.5" fill="#ff7f0e" stroke="none" stroke-width="1" />
<circle cx="150" cy="426.8" r="2.5" fill="#ff7f0e" stroke="none" stroke-width="1" />
<circle cx="153" cy="427" r="2.5" fill="#ff7f0e" stroke="none" stroke-width="1" />
<circle cx="156" cy="426.3" r="2.5" fill="#ff7f0e" stroke="none" stroke-width="1" />
<circle cx="159" cy="426.8" r="2.5" fill="#ff7f0e" stroke="none" stroke-width="1" />
<circle cx="162" cy="426.5" r="2.5" fill="#ff7f0e" stroke="none" stroke-width="1" />
<circle cx="165" cy="427" r="2.5" fill="#ff7f0e" stroke="none" stroke-width="1" />
<circle cx="168" cy="426.3" r="2.5" fill="#ff7f0e" stroke="none" stroke-width="1" />
<circle cx="171" cy="426.8" r="2.5" fill="#ff7f0e" stroke="none" stroke-width="1" />
<circle cx="174" cy="426" r="2.5" fill="#ff7f0e" stroke="none" stroke-width="1" />
<circle cx="177" cy="426.3" r="2.5" fill="#ff7f0e" stroke="none" stroke-width="1" />
<circle cx="180" cy="426.5" r="2.5" fill="#ff7f0e" stroke="none" stroke-width="1" />
<circle cx="183" cy="426" r="2.5" fill="#ff7f0e" stroke="none" stroke-width="1" />
<circle cx="186" cy="425.8" r="2.5" fill="#ff7f0e" stroke="none" stroke-width="1" />
<circle cx="189.3" cy="424.7" r="2.5" fill="#e3242b" stroke="none" stroke-width="1" />
<circle cx="192" cy="414.7" r="2.5" fill="#e3242b" stroke="none" stroke-width="1" />
<circle cx="195" cy="414.8" r="2.5" fill="#ff7f0e" stroke="none" stroke-width="1" />
<circle cx="198" cy="415" r="2.5" fill="#ff7f0e" stroke="none" stroke-width="1" />
<circle cx="204.6" cy="415" r="2.5" fill="#ff7f0e" stroke="none" stroke-width="1" />
<circle cx="209.6" cy="415.3" r="2.5" fill="#ff7f0e" stroke="none" stroke-width="1" />
<circle cx="212" cy="413" r="2.5" fill="#ff7f0e" stroke="none" stroke-width="1" />
<circle cx="214.5" cy="409.5" r="2.5" fill="#ff7f0e" stroke="none" stroke-width="1" />
<circle cx="217" cy="409.5" r="2.5" fill="#ff7f0e" stroke="none" stroke-width="1" />
<circle cx="219.5" cy="410" r="2.5" fill="#ff7f0e" stroke="none" stroke-width="1" />
<circle cx="222.2" cy="411" r="2.5" fill="#e3242b" stroke="none" stroke-width="1" />
<circle cx="224.5" cy="422.9" r="2.5" fill="#e3242b" stroke="none" stroke-width="1" />
<circle cx="227" cy="420" r="2.5" fill="#ff7f0e" stroke="none" stroke-width="1" />
<circle cx="229.5" cy="420" r="2.5" fill="#ff7f0e" stroke="none" stroke-width="1" />
<circle cx="232" cy="420" r="2.5" fill="#ff7f0e" stroke="none" stroke-width="1" />
<line x1="119" y1="464.8" x2="121" y2="464" stroke="#2ca02c" stroke-width="1.4" stroke-linecap="round"/>
<line x1="121" y1="464" x2="124.5" y2="463.5" stroke="#2ca02c" stroke-width="1.4" stroke-linecap="round"/>
<line x1="124.5" y1="463.5" x2="127.2" y2="466" stroke="#2ca02c" stroke-width="1.4" stroke-linecap="round"/>
<line x1="127.2" y1="466" x2="129" y2="475.7" stroke="#2ca02c" stroke-width="1.4" stroke-linecap="round"/>
<line x1="129" y1="475.7" x2="132" y2="476" stroke="#2ca02c" stroke-width="1.4" stroke-linecap="round"/>
<line x1="132" y1="476" x2="134.5" y2="476" stroke="#2ca02c" stroke-width="1.4" stroke-linecap="round"/>
<line x1="134.5" y1="476" x2="137" y2="476.3" stroke="#2ca02c" stroke-width="1.4" stroke-linecap="round"/>
<line x1="137" y1="476.3" x2="139.4" y2="475.4" stroke="#2ca02c" stroke-width="1.4" stroke-linecap="round"/>
<line x1="139.4" y1="475.4" x2="141.9" y2="479.7" stroke="#6a3d9a" stroke-width="1.4" stroke-linecap="round"/>
<line x1="141.9" y1="479.7" x2="144.9" y2="478.4" stroke="#2ca02c" stroke-width="1.4" stroke-linecap="round"/>
<line x1="144.9" y1="478.4" x2="148.9" y2="478.9" stroke="#2ca02c" stroke-width="1.4" stroke-linecap="round"/>
<line x1="148.9" y1="478.9" x2="151.9" y2="477.4" stroke="#2ca02c" stroke-width="1.4" stroke-linecap="round"/>
<line x1="151.9" y1="477.4" x2="166.8" y2="477" stroke="#2ca02c" stroke-width="1.4" stroke-linecap="round"/>
<line x1="166.8" y1="477" x2="169" y2="477.2" stroke="#2ca02c" stroke-width="1.4" stroke-linecap="round"/>
<line x1="169" y1="477.2" x2="172" y2="476.5" stroke="#2ca02c" stroke-width="1.4" stroke-linecap="round"/>
<line x1="172" y1="476.5" x2="175" y2="477" stroke="#2ca02c" stroke-width="1.4" stroke-linecap="round"/>
<line x1="175" y1="477" x2="178" y2="476.4" stroke="#2ca02c" stroke-width="1.4" stroke-linecap="round"/>
<line x1="178" y1="476.4" x2="181" y2="476.8" stroke="#2ca02c" stroke-width="1.4" stroke-linecap="round"/>
<line x1="181" y1="476.8" x2="184" y2="476.5" stroke="#2ca02c" stroke-width="1.4" stroke-linecap="round"/>
<line x1="184" y1="476.5" x2="187" y2="476.8" stroke="#2ca02c" stroke-width="1.4" stroke-linecap="round"/>
<line x1="187" y1="476.8" x2="189.6" y2="476.4" stroke="#2ca02c" stroke-width="1.4" stroke-linecap="round"/>
<line x1="189.6" y1="476.4" x2="192" y2="489.9" stroke="#e3242b" stroke-width="1.4" stroke-linecap="round"/>
<line x1="192" y1="489.9" x2="211.7" y2="491.9" stroke="#2ca02c" stroke-width="1.4" stroke-linecap="round"/>
<line x1="211.7" y1="491.9" x2="214.7" y2="492.4" stroke="#2ca02c" stroke-width="1.4" stroke-linecap="round"/>
<line x1="214.7" y1="492.4" x2="216.9" y2="496.9" stroke="#2ca02c" stroke-width="1.4" stroke-linecap="round"/>
<line x1="216.9" y1="496.9" x2="219.5" y2="495.5" stroke="#2ca02c" stroke-width="1.4" stroke-linecap="round"/>
<line x1="219.5" y1="495.5" x2="221.9" y2="495.9" stroke="#2ca02c" stroke-width="1.4" stroke-linecap="round"/>
<line x1="221.9" y1="495.9" x2="224.7" y2="484" stroke="#e3242b" stroke-width="1.4" stroke-linecap="round"/>
<line x1="224.7" y1="484" x2="228.6" y2="485.4" stroke="#2ca02c" stroke-width="1.4" stroke-linecap="round"/>
<line x1="228.6" y1="485.4" x2="232.6" y2="484" stroke="#2ca02c" stroke-width="1.4" stroke-linecap="round"/>
<circle cx="119" cy="464.8" r="2" fill="white" stroke="#2ca02c" stroke-width="1.1" />
<circle cx="121" cy="464" r="2" fill="white" stroke="#2ca02c" stroke-width="1.1" />
<circle cx="124.5" cy="463.5" r="2" fill="white" stroke="#2ca02c" stroke-width="1.1" />
<circle cx="127.2" cy="466" r="2" fill="white" stroke="#2ca02c" stroke-width="1.1" />
<circle cx="129" cy="475.7" r="2" fill="white" stroke="#2ca02c" stroke-width="1.1" />
<circle cx="132" cy="476" r="2" fill="white" stroke="#2ca02c" stroke-width="1.1" />
<circle cx="134.5" cy="476" r="2" fill="white" stroke="#2ca02c" stroke-width="1.1" />
<circle cx="137" cy="476.3" r="2" fill="white" stroke="#2ca02c" stroke-width="1.1" />
<circle cx="139.4" cy="475.4" r="2" fill="white" stroke="#6a3d9a" stroke-width="1.1" />
<circle cx="141.9" cy="479.7" r="2" fill="white" stroke="#6a3d9a" stroke-width="1.1" />
<circle cx="144.9" cy="478.4" r="2" fill="white" stroke="#2ca02c" stroke-width="1.1" />
<circle cx="148.9" cy="478.9" r="2" fill="white" stroke="#2ca02c" stroke-width="1.1" />
<circle cx="151.9" cy="477.4" r="2" fill="white" stroke="#2ca02c" stroke-width="1.1" />
<circle cx="166.8" cy="477" r="2" fill="white" stroke="#2ca02c" stroke-width="1.1" />
<circle cx="169" cy="477.2" r="2" fill="white" stroke="#2ca02c" stroke-width="1.1" />
<circle cx="172" cy="476.5" r="2" fill="white" stroke="#2ca02c" stroke-width="1.1" />
<circle cx="175" cy="477" r="2" fill="white" stroke="#2ca02c" stroke-width="1.1" />
<circle cx="178" cy="476.4" r="2" fill="white" stroke="#2ca02c" stroke-width="1.1" />
<circle cx="181" cy="476.8" r="2" fill="white" stroke="#2ca02c" stroke-width="1.1" />
<circle cx="184" cy="476.5" r="2" fill="white" stroke="#2ca02c" stroke-width="1.1" />
<circle cx="187" cy="476.8" r="2" fill="white" stroke="#2ca02c" stroke-width="1.1" />
<circle cx="189.6" cy="476.4" r="2" fill="white" stroke="#e3242b" stroke-width="1.1" />
<circle cx="192" cy="489.9" r="2" fill="white" stroke="#e3242b" stroke-width="1.1" />
<circle cx="211.7" cy="491.9" r="2" fill="white" stroke="#2ca02c" stroke-width="1.1" />
<circle cx="214.7" cy="492.4" r="2" fill="white" stroke="#2ca02c" stroke-width="1.1" />
<circle cx="216.9" cy="496.9" r="2" fill="white" stroke="#2ca02c" stroke-width="1.1" />
<circle cx="219.5" cy="495.5" r="2" fill="white" stroke="#2ca02c" stroke-width="1.1" />
<circle cx="221.9" cy="495.9" r="2" fill="white" stroke="#e3242b" stroke-width="1.1" />
<circle cx="224.7" cy="484" r="2" fill="white" stroke="#e3242b" stroke-width="1.1" />
<circle cx="228.6" cy="485.4" r="2" fill="white" stroke="#2ca02c" stroke-width="1.1" />
<circle cx="232.6" cy="484" r="2" fill="white" stroke="#2ca02c" stroke-width="1.1" />
<line x1="119.1" y1="530" x2="121.5" y2="530.5" stroke="#2ca02c" stroke-width="1.4" stroke-linecap="round"/>
<line x1="121.5" y1="530.5" x2="124" y2="530.8" stroke="#2ca02c" stroke-width="1.4" stroke-linecap="round"/>
<line x1="124" y1="530.8" x2="126.8" y2="532.2" stroke="#2ca02c" stroke-width="1.4" stroke-linecap="round"/>
<line x1="126.8" y1="532.2" x2="129.2" y2="523.9" stroke="#2ca02c" stroke-width="1.4" stroke-linecap="round"/>
<line x1="129.2" y1="523.9" x2="131.5" y2="525" stroke="#2ca02c" stroke-width="1.4" stroke-linecap="round"/>
<line x1="131.5" y1="525" x2="134" y2="525.5" stroke="#2ca02c" stroke-width="1.4" stroke-linecap="round"/>
<line x1="134" y1="525.5" x2="136.5" y2="524.5" stroke="#2ca02c" stroke-width="1.4" stroke-linecap="round"/>
<line x1="136.5" y1="524.5" x2="139.2" y2="525.3" stroke="#2ca02c" stroke-width="1.4" stroke-linecap="round"/>
<line x1="139.2" y1="525.3" x2="141.9" y2="530" stroke="#6a3d9a" stroke-width="1.4" stroke-linecap="round"/>
<line x1="141.9" y1="530" x2="145.7" y2="530.8" stroke="#2ca02c" stroke-width="1.4" stroke-linecap="round"/>
<line x1="145.7" y1="530.8" x2="148" y2="530.5" stroke="#2ca02c" stroke-width="1.4" stroke-linecap="round"/>
<line x1="148" y1="530.5" x2="151.6" y2="530.4" stroke="#2ca02c" stroke-width="1.4" stroke-linecap="round"/>
<line x1="151.6" y1="530.4" x2="167" y2="529.8" stroke="#2ca02c" stroke-width="1.4" stroke-linecap="round"/>
<line x1="167" y1="529.8" x2="169.5" y2="530.5" stroke="#2ca02c" stroke-width="1.4" stroke-linecap="round"/>
<line x1="169.5" y1="530.5" x2="172" y2="530.9" stroke="#2ca02c" stroke-width="1.4" stroke-linecap="round"/>
<line x1="172" y1="530.9" x2="175" y2="531.5" stroke="#2ca02c" stroke-width="1.4" stroke-linecap="round"/>
<line x1="175" y1="531.5" x2="178.8" y2="532.4" stroke="#2ca02c" stroke-width="1.4" stroke-linecap="round"/>
<line x1="178.8" y1="532.4" x2="181" y2="533" stroke="#2ca02c" stroke-width="1.4" stroke-linecap="round"/>
<line x1="181" y1="533" x2="184.7" y2="533.4" stroke="#2ca02c" stroke-width="1.4" stroke-linecap="round"/>
<line x1="184.7" y1="533.4" x2="187" y2="532.5" stroke="#2ca02c" stroke-width="1.4" stroke-linecap="round"/>
<line x1="187" y1="532.5" x2="189.4" y2="533.1" stroke="#2ca02c" stroke-width="1.4" stroke-linecap="round"/>
<line x1="189.4" y1="533.1" x2="191.8" y2="555.5" stroke="#e3242b" stroke-width="1.4" stroke-linecap="round"/>
<line x1="191.8" y1="555.5" x2="211.8" y2="553.4" stroke="#2ca02c" stroke-width="1.4" stroke-linecap="round"/>
<line x1="211.8" y1="553.4" x2="213.5" y2="554.5" stroke="#2ca02c" stroke-width="1.4" stroke-linecap="round"/>
<line x1="213.5" y1="554.5" x2="216.5" y2="554.6" stroke="#2ca02c" stroke-width="1.4" stroke-linecap="round"/>
<line x1="216.5" y1="554.6" x2="219.5" y2="553" stroke="#2ca02c" stroke-width="1.4" stroke-linecap="round"/>
<line x1="219.5" y1="553" x2="221.9" y2="554" stroke="#2ca02c" stroke-width="1.4" stroke-linecap="round"/>
<line x1="221.9" y1="554" x2="224.6" y2="532.8" stroke="#e3242b" stroke-width="1.4" stroke-linecap="round"/>
<line x1="224.6" y1="532.8" x2="228.4" y2="534" stroke="#2ca02c" stroke-width="1.4" stroke-linecap="round"/>
<line x1="228.4" y1="534" x2="232.5" y2="532.8" stroke="#2ca02c" stroke-width="1.4" stroke-linecap="round"/>
<circle cx="119.1" cy="530" r="2.5" fill="#2ca02c" stroke="none" stroke-width="1" />
<circle cx="121.5" cy="530.5" r="2.5" fill="#2ca02c" stroke="none" stroke-width="1" />
<circle cx="124" cy="530.8" r="2.5" fill="#2ca02c" stroke="none" stroke-width="1" />
<circle cx="126.8" cy="532.2" r="2.5" fill="#2ca02c" stroke="none" stroke-width="1" />
<circle cx="129.2" cy="523.9" r="2.5" fill="#2ca02c" stroke="none" stroke-width="1" />
<circle cx="131.5" cy="525" r="2.5" fill="#2ca02c" stroke="none" stroke-width="1" />
<circle cx="134" cy="525.5" r="2.5" fill="#2ca02c" stroke="none" stroke-width="1" />
<circle cx="136.5" cy="524.5" r="2.5" fill="#2ca02c" stroke="none" stroke-width="1" />
<circle cx="139.2" cy="525.3" r="2.5" fill="#6a3d9a" stroke="none" stroke-width="1" />
<circle cx="141.9" cy="530" r="2.5" fill="#6a3d9a" stroke="none" stroke-width="1" />
<circle cx="145.7" cy="530.8" r="2.5" fill="#2ca02c" stroke="none" stroke-width="1" />
<circle cx="148" cy="530.5" r="2.5" fill="#2ca02c" stroke="none" stroke-width="1" />
<circle cx="151.6" cy="530.4" r="2.5" fill="#2ca02c" stroke="none" stroke-width="1" />
<circle cx="167" cy="529.8" r="2.5" fill="#2ca02c" stroke="none" stroke-width="1" />
<circle cx="169.5" cy="530.5" r="2.5" fill="#2ca02c" stroke="none" stroke-width="1" />
<circle cx="172" cy="530.9" r="2.5" fill="#2ca02c" stroke="none" stroke-width="1" />
<circle cx="175" cy="531.5" r="2.5" fill="#2ca02c" stroke="none" stroke-width="1" />
<circle cx="178.8" cy="532.4" r="2.5" fill="#2ca02c" stroke="none" stroke-width="1" />
<circle cx="181" cy="533" r="2.5" fill="#2ca02c" stroke="none" stroke-width="1" />
<circle cx="184.7" cy="533.4" r="2.5" fill="#2ca02c" stroke="none" stroke-width="1" />
<circle cx="187" cy="532.5" r="2.5" fill="#2ca02c" stroke="none" stroke-width="1" />
<circle cx="189.4" cy="533.1" r="2.5" fill="#e3242b" stroke="none" stroke-width="1" />
<circle cx="191.8" cy="555.5" r="2.5" fill="#e3242b" stroke="none" stroke-width="1" />
<circle cx="211.8" cy="553.4" r="2.5" fill="#2ca02c" stroke="none" stroke-width="1" />
<circle cx="213.5" cy="554.5" r="2.5" fill="#2ca02c" stroke="none" stroke-width="1" />
<circle cx="216.5" cy="554.6" r="2.5" fill="#2ca02c" stroke="none" stroke-width="1" />
<circle cx="219.5" cy="553" r="2.5" fill="#2ca02c" stroke="none" stroke-width="1" />
<circle cx="221.9" cy="554" r="2.5" fill="#e3242b" stroke="none" stroke-width="1" />
<circle cx="224.6" cy="532.8" r="2.5" fill="#e3242b" stroke="none" stroke-width="1" />
<circle cx="228.4" cy="534" r="2.5" fill="#2ca02c" stroke="none" stroke-width="1" />
<circle cx="232.5" cy="532.8" r="2.5" fill="#2ca02c" stroke="none" stroke-width="1" />
<line x1="273.3" y1="362.5" x2="386.2" y2="362.5" stroke="#333" stroke-width="1.1" />
<line x1="273.3" y1="420.7" x2="386.2" y2="420.7" stroke="#333" stroke-width="1.1" />
<line x1="273.3" y1="480.1" x2="386.2" y2="480.1" stroke="#333" stroke-width="1.1" />
<line x1="273.3" y1="540.3" x2="386.2" y2="540.3" stroke="#333" stroke-width="1.1" />
<line x1="291" y1="362.5" x2="291" y2="367.4" stroke="#6a3d9a" stroke-width="1.4" />
<line x1="342.1" y1="362.5" x2="342.1" y2="370.2" stroke="#e3242b" stroke-width="1.4" />
<line x1="375.8" y1="362.5" x2="375.8" y2="354.6" stroke="#e3242b" stroke-width="1.4" />
<circle cx="274.5" cy="361.6" r="2" fill="white" stroke="#ff7f0e" stroke-width="1.1" />
<circle cx="277" cy="363.3" r="2" fill="white" stroke="#ff7f0e" stroke-width="1.1" />
<circle cx="280" cy="363.1" r="2" fill="white" stroke="#ff7f0e" stroke-width="1.1" />
<circle cx="283.7" cy="361.9" r="2" fill="white" stroke="#ff7f0e" stroke-width="1.1" />
<circle cx="286.5" cy="362.5" r="2" fill="white" stroke="#ff7f0e" stroke-width="1.1" />
<circle cx="291" cy="367.4" r="2" fill="white" stroke="#6a3d9a" stroke-width="1.1" />
<circle cx="293.8" cy="362.4" r="2" fill="white" stroke="#ff7f0e" stroke-width="1.1" />
<circle cx="296.5" cy="362.9" r="2" fill="white" stroke="#ff7f0e" stroke-width="1.1" />
<circle cx="300" cy="363.2" r="2" fill="white" stroke="#ff7f0e" stroke-width="1.1" />
<circle cx="303.5" cy="361.5" r="2" fill="white" stroke="#ff7f0e" stroke-width="1.1" />
<circle cx="306.5" cy="361.4" r="2" fill="white" stroke="#ff7f0e" stroke-width="1.1" />
<circle cx="309.5" cy="363.3" r="2" fill="white" stroke="#ff7f0e" stroke-width="1.1" />
<circle cx="316.8" cy="362.3" r="2" fill="white" stroke="#ff7f0e" stroke-width="1.1" />
<circle cx="319.5" cy="363.1" r="2" fill="white" stroke="#ff7f0e" stroke-width="1.1" />
<circle cx="322.5" cy="361.3" r="2" fill="white" stroke="#ff7f0e" stroke-width="1.1" />
<circle cx="325" cy="362.4" r="2" fill="white" stroke="#ff7f0e" stroke-width="1.1" />
<circle cx="328" cy="363" r="2" fill="white" stroke="#ff7f0e" stroke-width="1.1" />
<circle cx="331" cy="361.8" r="2" fill="white" stroke="#ff7f0e" stroke-width="1.1" />
<circle cx="334" cy="363.6" r="2" fill="white" stroke="#ff7f0e" stroke-width="1.1" />
<circle cx="337" cy="363.5" r="2" fill="white" stroke="#ff7f0e" stroke-width="1.1" />
<circle cx="339.9" cy="361.4" r="2" fill="white" stroke="#ff7f0e" stroke-width="1.1" />
<circle cx="342.1" cy="370.2" r="2" fill="white" stroke="#e3242b" stroke-width="1.1" />
<circle cx="344.3" cy="361.4" r="2" fill="white" stroke="#ff7f0e" stroke-width="1.1" />
<circle cx="347.6" cy="362.6" r="2" fill="white" stroke="#ff7f0e" stroke-width="1.1" />
<circle cx="370.8" cy="363.6" r="2" fill="white" stroke="#ff7f0e" stroke-width="1.1" />
<circle cx="374.1" cy="362.2" r="2" fill="white" stroke="#ff7f0e" stroke-width="1.1" />
<circle cx="375.8" cy="354.6" r="2" fill="white" stroke="#e3242b" stroke-width="1.1" />
<circle cx="380" cy="362.3" r="2" fill="white" stroke="#ff7f0e" stroke-width="1.1" />
<circle cx="382.5" cy="361.4" r="2" fill="white" stroke="#ff7f0e" stroke-width="1.1" />
<circle cx="385" cy="361.8" r="2" fill="white" stroke="#ff7f0e" stroke-width="1.1" />
<line x1="291" y1="420.7" x2="291" y2="415.2" stroke="#6a3d9a" stroke-width="1.4" />
<line x1="342.1" y1="420.7" x2="342.1" y2="410.8" stroke="#e3242b" stroke-width="1.4" />
<line x1="375.8" y1="420.7" x2="375.8" y2="432.8" stroke="#e3242b" stroke-width="1.4" />
<circle cx="274.5" cy="421.8" r="2.5" fill="#ff7f0e" stroke="none" stroke-width="1" />
<circle cx="277" cy="421.8" r="2.5" fill="#ff7f0e" stroke="none" stroke-width="1" />
<circle cx="280" cy="419.6" r="2.5" fill="#ff7f0e" stroke="none" stroke-width="1" />
<circle cx="283.7" cy="419.7" r="2.5" fill="#ff7f0e" stroke="none" stroke-width="1" />
<circle cx="286.5" cy="421.5" r="2.5" fill="#ff7f0e" stroke="none" stroke-width="1" />
<circle cx="291" cy="415.2" r="2.5" fill="#6a3d9a" stroke="none" stroke-width="1" />
<circle cx="293.8" cy="421.3" r="2.5" fill="#ff7f0e" stroke="none" stroke-width="1" />
<circle cx="296.5" cy="421.1" r="2.5" fill="#ff7f0e" stroke="none" stroke-width="1" />
<circle cx="300" cy="420.2" r="2.5" fill="#ff7f0e" stroke="none" stroke-width="1" />
<circle cx="303.5" cy="421" r="2.5" fill="#ff7f0e" stroke="none" stroke-width="1" />
<circle cx="306.5" cy="421" r="2.5" fill="#ff7f0e" stroke="none" stroke-width="1" />
<circle cx="309.5" cy="420.9" r="2.5" fill="#ff7f0e" stroke="none" stroke-width="1" />
<circle cx="316.8" cy="419.9" r="2.5" fill="#ff7f0e" stroke="none" stroke-width="1" />
<circle cx="319.5" cy="420.5" r="2.5" fill="#ff7f0e" stroke="none" stroke-width="1" />
<circle cx="322.5" cy="420.4" r="2.5" fill="#ff7f0e" stroke="none" stroke-width="1" />
<circle cx="325" cy="421.2" r="2.5" fill="#ff7f0e" stroke="none" stroke-width="1" />
<circle cx="328" cy="421.9" r="2.5" fill="#ff7f0e" stroke="none" stroke-width="1" />
<circle cx="331" cy="421.8" r="2.5" fill="#ff7f0e" stroke="none" stroke-width="1" />
<circle cx="334" cy="420.8" r="2.5" fill="#ff7f0e" stroke="none" stroke-width="1" />
<circle cx="337" cy="420.6" r="2.5" fill="#ff7f0e" stroke="none" stroke-width="1" />
<circle cx="339.9" cy="420.1" r="2.5" fill="#ff7f0e" stroke="none" stroke-width="1" />
<circle cx="342.1" cy="410.8" r="2.5" fill="#e3242b" stroke="none" stroke-width="1" />
<circle cx="344.3" cy="419.6" r="2.5" fill="#ff7f0e" stroke="none" stroke-width="1" />
<circle cx="347.6" cy="419.6" r="2.5" fill="#ff7f0e" stroke="none" stroke-width="1" />
<circle cx="370.8" cy="420.6" r="2.5" fill="#ff7f0e" stroke="none" stroke-width="1" />
<circle cx="374.1" cy="420.3" r="2.5" fill="#ff7f0e" stroke="none" stroke-width="1" />
<circle cx="375.8" cy="432.8" r="2.5" fill="#e3242b" stroke="none" stroke-width="1" />
<circle cx="380" cy="421.6" r="2.5" fill="#ff7f0e" stroke="none" stroke-width="1" />
<circle cx="382.5" cy="420.8" r="2.5" fill="#ff7f0e" stroke="none" stroke-width="1" />
<circle cx="385" cy="420.8" r="2.5" fill="#ff7f0e" stroke="none" stroke-width="1" />
<line x1="278.2" y1="480.1" x2="278.2" y2="489.8" stroke="#2ca02c" stroke-width="1.4" />
<line x1="291" y1="480.1" x2="291" y2="484.1" stroke="#6a3d9a" stroke-width="1.4" />
<line x1="342.1" y1="480.1" x2="342.1" y2="493.5" stroke="#e3242b" stroke-width="1.4" />
<line x1="368.1" y1="480.1" x2="368.1" y2="485.2" stroke="#2ca02c" stroke-width="1.4" />
<line x1="375.8" y1="480.1" x2="375.8" y2="468.2" stroke="#e3242b" stroke-width="1.4" />
<circle cx="274.5" cy="479.5" r="2" fill="white" stroke="#2ca02c" stroke-width="1.1" />
<circle cx="278.2" cy="489.8" r="2" fill="white" stroke="#2ca02c" stroke-width="1.1" />
<circle cx="280" cy="479.8" r="2" fill="white" stroke="#2ca02c" stroke-width="1.1" />
<circle cx="283.5" cy="480.3" r="2" fill="white" stroke="#2ca02c" stroke-width="1.1" />
<circle cx="286.5" cy="480.4" r="2" fill="white" stroke="#2ca02c" stroke-width="1.1" />
<circle cx="291" cy="484.1" r="2" fill="white" stroke="#6a3d9a" stroke-width="1.1" />
<circle cx="293.8" cy="479.1" r="2" fill="white" stroke="#2ca02c" stroke-width="1.1" />
<circle cx="296.5" cy="478.9" r="2" fill="white" stroke="#2ca02c" stroke-width="1.1" />
<circle cx="299.5" cy="480.9" r="2" fill="white" stroke="#2ca02c" stroke-width="1.1" />
<circle cx="303.5" cy="479.5" r="2" fill="white" stroke="#2ca02c" stroke-width="1.1" />
<circle cx="317.5" cy="479.5" r="2" fill="white" stroke="#2ca02c" stroke-width="1.1" />
<circle cx="320.5" cy="481.3" r="2" fill="white" stroke="#2ca02c" stroke-width="1.1" />
<circle cx="323" cy="480" r="2" fill="white" stroke="#2ca02c" stroke-width="1.1" />
<circle cx="326" cy="480.9" r="2" fill="white" stroke="#2ca02c" stroke-width="1.1" />
<circle cx="329" cy="480" r="2" fill="white" stroke="#2ca02c" stroke-width="1.1" />
<circle cx="332" cy="480.4" r="2" fill="white" stroke="#2ca02c" stroke-width="1.1" />
<circle cx="335" cy="479.3" r="2" fill="white" stroke="#2ca02c" stroke-width="1.1" />
<circle cx="338" cy="480.4" r="2" fill="white" stroke="#2ca02c" stroke-width="1.1" />
<circle cx="340" cy="481" r="2" fill="white" stroke="#2ca02c" stroke-width="1.1" />
<circle cx="342.1" cy="493.5" r="2" fill="white" stroke="#e3242b" stroke-width="1.1" />
<circle cx="364.5" cy="480.2" r="2" fill="white" stroke="#2ca02c" stroke-width="1.1" />
<circle cx="368.1" cy="485.2" r="2" fill="white" stroke="#2ca02c" stroke-width="1.1" />
<circle cx="370.5" cy="480.5" r="2" fill="white" stroke="#2ca02c" stroke-width="1.1" />
<circle cx="373" cy="479.1" r="2" fill="white" stroke="#2ca02c" stroke-width="1.1" />
<circle cx="375.8" cy="468.2" r="2" fill="white" stroke="#e3242b" stroke-width="1.1" />
<circle cx="378" cy="480.7" r="2" fill="white" stroke="#2ca02c" stroke-width="1.1" />
<circle cx="381" cy="480.3" r="2" fill="white" stroke="#2ca02c" stroke-width="1.1" />
<circle cx="384" cy="479.6" r="2" fill="white" stroke="#2ca02c" stroke-width="1.1" />
<line x1="278.2" y1="540.3" x2="278.2" y2="531.4" stroke="#2ca02c" stroke-width="1.4" />
<line x1="291" y1="540.3" x2="291" y2="543.6" stroke="#6a3d9a" stroke-width="1.4" />
<line x1="342.1" y1="540.3" x2="342.1" y2="561.9" stroke="#e3242b" stroke-width="1.4" />
<line x1="375.8" y1="540.3" x2="375.8" y2="518.2" stroke="#e3242b" stroke-width="1.4" />
<circle cx="274.5" cy="539.7" r="2.5" fill="#2ca02c" stroke="none" stroke-width="1" />
<circle cx="278.2" cy="531.4" r="2.5" fill="#2ca02c" stroke="none" stroke-width="1" />
<circle cx="280" cy="540.1" r="2.5" fill="#2ca02c" stroke="none" stroke-width="1" />
<circle cx="283.5" cy="539.5" r="2.5" fill="#2ca02c" stroke="none" stroke-width="1" />
<circle cx="286.5" cy="539.3" r="2.5" fill="#2ca02c" stroke="none" stroke-width="1" />
<circle cx="291" cy="543.6" r="2.5" fill="#6a3d9a" stroke="none" stroke-width="1" />
<circle cx="293.8" cy="540.1" r="2.5" fill="#2ca02c" stroke="none" stroke-width="1" />
<circle cx="296.5" cy="541.3" r="2.5" fill="#2ca02c" stroke="none" stroke-width="1" />
<circle cx="299.5" cy="541" r="2.5" fill="#2ca02c" stroke="none" stroke-width="1" />
<circle cx="303.5" cy="540.9" r="2.5" fill="#2ca02c" stroke="none" stroke-width="1" />
<circle cx="317.5" cy="539.6" r="2.5" fill="#2ca02c" stroke="none" stroke-width="1" />
<circle cx="320.5" cy="540.4" r="2.5" fill="#2ca02c" stroke="none" stroke-width="1" />
<circle cx="323" cy="539.8" r="2.5" fill="#2ca02c" stroke="none" stroke-width="1" />
<circle cx="326" cy="539.5" r="2.5" fill="#2ca02c" stroke="none" stroke-width="1" />
<circle cx="329" cy="539.4" r="2.5" fill="#2ca02c" stroke="none" stroke-width="1" />
<circle cx="332" cy="539.6" r="2.5" fill="#2ca02c" stroke="none" stroke-width="1" />
<circle cx="335" cy="541.3" r="2.5" fill="#2ca02c" stroke="none" stroke-width="1" />
<circle cx="338" cy="541.1" r="2.5" fill="#2ca02c" stroke="none" stroke-width="1" />
<circle cx="340" cy="541" r="2.5" fill="#2ca02c" stroke="none" stroke-width="1" />
<circle cx="342.1" cy="561.9" r="2.5" fill="#e3242b" stroke="none" stroke-width="1" />
<circle cx="364.5" cy="541" r="2.5" fill="#2ca02c" stroke="none" stroke-width="1" />
<circle cx="367.5" cy="539.6" r="2.5" fill="#2ca02c" stroke="none" stroke-width="1" />
<circle cx="370.5" cy="539.8" r="2.5" fill="#2ca02c" stroke="none" stroke-width="1" />
<circle cx="373" cy="540.6" r="2.5" fill="#2ca02c" stroke="none" stroke-width="1" />
<circle cx="375.8" cy="518.2" r="2.5" fill="#e3242b" stroke="none" stroke-width="1" />
<circle cx="378" cy="540.9" r="2.5" fill="#2ca02c" stroke="none" stroke-width="1" />
<circle cx="381" cy="541.2" r="2.5" fill="#2ca02c" stroke="none" stroke-width="1" />
<circle cx="384" cy="541.2" r="2.5" fill="#2ca02c" stroke="none" stroke-width="1" />
<rect x="119.3" y="331.8" width="112.8" height="237.7" fill="none" stroke="#111" stroke-width="1.6"/>
<line x1="119.3" y1="391.4" x2="232.1" y2="391.4" stroke="#111" stroke-width="1.6" />
<line x1="119.3" y1="450.9" x2="232.1" y2="450.9" stroke="#111" stroke-width="1.6" />
<line x1="119.3" y1="510.4" x2="232.1" y2="510.4" stroke="#111" stroke-width="1.6" />
<rect x="273.3" y="331.8" width="112.9" height="237.7" fill="none" stroke="#111" stroke-width="1.6"/>
<line x1="273.3" y1="391.4" x2="386.2" y2="391.4" stroke="#111" stroke-width="1.6" />
<line x1="273.3" y1="450.9" x2="386.2" y2="450.9" stroke="#111" stroke-width="1.6" />
<line x1="273.3" y1="510.4" x2="386.2" y2="510.4" stroke="#111" stroke-width="1.6" />
<line x1="140.6" y1="325.5" x2="140.6" y2="338" stroke="#6a3d9a" stroke-width="2" />
<polygon points="137,336.5 144.2,336.5 140.6,344.5" stroke="none" stroke-width="1" fill="#6a3d9a" />
<line x1="191" y1="325.5" x2="191" y2="338" stroke="#e3242b" stroke-width="2" />
<polygon points="187.4,336.5 194.6,336.5 191,344.5" stroke="none" stroke-width="1" fill="#e3242b" />
<line x1="223.5" y1="325.5" x2="223.5" y2="338" stroke="#e3242b" stroke-width="2" />
<polygon points="219.9,336.5 227.1,336.5 223.5,344.5" stroke="none" stroke-width="1" fill="#e3242b" />
<line x1="291" y1="325.5" x2="291" y2="338" stroke="#6a3d9a" stroke-width="2" />
<polygon points="287.4,336.5 294.6,336.5 291,344.5" stroke="none" stroke-width="1" fill="#6a3d9a" />
<line x1="342.1" y1="325.5" x2="342.1" y2="338" stroke="#e3242b" stroke-width="2" />
<polygon points="338.5,336.5 345.7,336.5 342.1,344.5" stroke="none" stroke-width="1" fill="#e3242b" />
<line x1="375.8" y1="325.5" x2="375.8" y2="338" stroke="#e3242b" stroke-width="2" />
<polygon points="372.2,336.5 379.4,336.5 375.8,344.5" stroke="none" stroke-width="1" fill="#e3242b" />
<text x="110.5" y="343.6" font-size="15" fill="#1f1f2b" text-anchor="end" font-weight="normal" >50</text>
<text x="110.5" y="366.4" font-size="15" fill="#1f1f2b" text-anchor="end" font-weight="normal" >0</text>
<text x="110.5" y="390.3" font-size="15" fill="#1f1f2b" text-anchor="end" font-weight="normal" >–50</text>
<text x="110.5" y="403.2" font-size="15" fill="#1f1f2b" text-anchor="end" font-weight="normal" >50</text>
<text x="110.5" y="426" font-size="15" fill="#1f1f2b" text-anchor="end" font-weight="normal" >0</text>
<text x="110.5" y="449.9" font-size="15" fill="#1f1f2b" text-anchor="end" font-weight="normal" >–50</text>
<text x="110.5" y="462.7" font-size="15" fill="#1f1f2b" text-anchor="end" font-weight="normal" >50</text>
<text x="110.5" y="485.5" font-size="15" fill="#1f1f2b" text-anchor="end" font-weight="normal" >0</text>
<text x="110.5" y="509.4" font-size="15" fill="#1f1f2b" text-anchor="end" font-weight="normal" >–50</text>
<text x="110.5" y="522.2" font-size="15" fill="#1f1f2b" text-anchor="end" font-weight="normal" >50</text>
<text x="110.5" y="545" font-size="15" fill="#1f1f2b" text-anchor="end" font-weight="normal" >0</text>
<text x="110.5" y="568.9" font-size="15" fill="#1f1f2b" text-anchor="end" font-weight="normal" >–50</text>
<text x="50" y="355.3" font-size="18" fill="#1f1f2b" font-style="italic">f</text>
<text x="56.2" y="361.1" font-size="12.5" fill="#1f1f2b" letter-spacing="-0.25">||</text>
<text x="33.2" y="374" font-size="16.5" fill="#1f1f2b" text-anchor="start" font-weight="normal" >(MHz)</text>
<text x="50" y="411.5" font-size="18" fill="#1f1f2b" font-style="italic">f</text>
<text x="55.8" y="416.8" font-size="12" fill="#1f1f2b">⊥</text>
<text x="33.2" y="431.4" font-size="16.5" fill="#1f1f2b" text-anchor="start" font-weight="normal" >(MHz)</text>
<text x="50" y="472" font-size="18" fill="#1f1f2b" font-style="italic">f</text>
<text x="56.2" y="477.8" font-size="12.5" fill="#1f1f2b" letter-spacing="-0.25">||</text>
<text x="33.2" y="492.3" font-size="16.5" fill="#1f1f2b" text-anchor="start" font-weight="normal" >(MHz)</text>
<text x="50" y="533.8" font-size="18" fill="#1f1f2b" font-style="italic">f</text>
<text x="55.8" y="539.1" font-size="12" fill="#1f1f2b">⊥</text>
<text x="33.2" y="554.7" font-size="16.5" fill="#1f1f2b" text-anchor="start" font-weight="normal" >(MHz)</text>
<polyline points="33.1,335.4 21.2,335.4 21.2,385" stroke="#ff7f0e" stroke-width="1.7" fill="none" />
<polyline points="21.2,409 21.2,447.5 33.1,447.5" stroke="#ff7f0e" stroke-width="1.7" fill="none" />
<text x="6" y="403.3" font-size="17" fill="#ff7f0e" text-anchor="start" font-weight="normal" >NV2</text>
<polyline points="33.1,457.2 21.2,457.2 21.2,504.6" stroke="#2ca02c" stroke-width="1.7" fill="none" />
<polyline points="21.2,527.8 21.2,568.4 33.1,568.4" stroke="#2ca02c" stroke-width="1.7" fill="none" />
<text x="6" y="522.2" font-size="17" fill="#2ca02c" text-anchor="start" font-weight="normal" >NV3</text>
<text x="243.3" y="368.5" font-size="17.5" fill="#1f1f2b">Δ<tspan font-style="italic">f</tspan><tspan font-size="12.5" dy="5.5" letter-spacing="-0.25">||</tspan></text>
<text x="243.3" y="420" font-size="17.5" fill="#1f1f2b">Δ<tspan font-style="italic">f</tspan><tspan font-size="12.5" dy="5" dx="-1.5">⊥</tspan></text>
<text x="243.3" y="488.3" font-size="17.5" fill="#1f1f2b">Δ<tspan font-style="italic">f</tspan><tspan font-size="12.5" dy="5.5" letter-spacing="-0.25">||</tspan></text>
<text x="243.3" y="546" font-size="17.5" fill="#1f1f2b">Δ<tspan font-style="italic">f</tspan><tspan font-size="12.5" dy="5" dx="-1.5">⊥</tspan></text>
<polygon points="225.5,442.5 264.3,442.5 264.3,431.8 281.9,451.8 264.3,472 264.3,461.7 225.5,461.7" stroke="#111" stroke-width="1.8" fill="white" />
<text x="236.3" y="458" font-size="16" fill="#1f1f2b" text-anchor="start" font-weight="normal" >Diff.</text>
<text x="119.3" y="589.3" font-size="15" fill="#1f1f2b" text-anchor="middle" font-weight="normal" >1</text>
<text x="231" y="589.3" font-size="15" fill="#1f1f2b" text-anchor="middle" font-weight="normal" >45</text>
<text x="273.3" y="589.3" font-size="15" fill="#1f1f2b" text-anchor="middle" font-weight="normal" >1</text>
<text x="386" y="589.3" font-size="15" fill="#1f1f2b" text-anchor="middle" font-weight="normal" >45</text>
<text x="175.7" y="611" font-size="17.6" fill="#1f1f2b" text-anchor="middle" font-weight="normal" >Scan number</text>
<text x="329.5" y="611" font-size="17.6" fill="#1f1f2b" text-anchor="middle" font-weight="normal" >Scan number</text></g>
<g id="pc"><polygon points="441.8,462.9 644.2,385.1 799.6,486 597.2,563.8" stroke="none" stroke-width="1" fill="white" />
<line x1="637.7" y1="548.2" x2="482.3" y2="447.3" stroke="#cfcfcf" stroke-width="1.3" />
<line x1="566.1" y1="543.6" x2="768.5" y2="465.8" stroke="#cfcfcf" stroke-width="1.3" />
<line x1="701.4" y1="523.7" x2="546" y2="422.8" stroke="#cfcfcf" stroke-width="1.3" />
<line x1="517.2" y1="511.8" x2="719.6" y2="434" stroke="#cfcfcf" stroke-width="1.3" />
<line x1="765.2" y1="499.2" x2="609.8" y2="398.3" stroke="#cfcfcf" stroke-width="1.3" />
<line x1="468.2" y1="480.1" x2="670.6" y2="402.3" stroke="#cfcfcf" stroke-width="1.3" />
<polygon points="441.8,462.9 644.2,385.1 799.6,486 597.2,563.8" stroke="#3a3a3a" stroke-width="1.2" fill="none" />
<ellipse cx="612" cy="442.8" rx="17" ry="7" transform="rotate(-5 612 442.8)" fill="#2ca02c" opacity="0.15" filter="url(#blur2)"/>
<ellipse cx="612" cy="442.8" rx="11" ry="4.5" transform="rotate(-5 612 442.8)" fill="#2ca02c" opacity="0.2" filter="url(#blur2)"/>
<ellipse cx="612" cy="442.8" rx="6" ry="2.8" transform="rotate(-5 612 442.8)" fill="#2ca02c" opacity="0.25" filter="url(#blur2)"/>
<ellipse cx="628" cy="508" rx="17" ry="7" transform="rotate(-5 628 508)" fill="#2ca02c" opacity="0.15" filter="url(#blur2)"/>
<ellipse cx="628" cy="508" rx="11" ry="4.5" transform="rotate(-5 628 508)" fill="#2ca02c" opacity="0.2" filter="url(#blur2)"/>
<ellipse cx="628" cy="508" rx="6" ry="2.8" transform="rotate(-5 628 508)" fill="#2ca02c" opacity="0.25" filter="url(#blur2)"/>
<ellipse cx="599" cy="452" rx="12" ry="5" transform="rotate(-10 599 452)" fill="#c5b0d5" opacity="0.35" filter="url(#blur2)"/>
<ellipse cx="643" cy="493" rx="12" ry="5" transform="rotate(-10 643 493)" fill="#c5b0d5" opacity="0.35" filter="url(#blur2)"/>
<ellipse cx="542" cy="467" rx="8" ry="4" transform="rotate(0 542 467)" fill="#ff9896" opacity="0.35" filter="url(#blur2)"/>
<ellipse cx="700" cy="479" rx="8" ry="4" transform="rotate(0 700 479)" fill="#ff9896" opacity="0.35" filter="url(#blur2)"/>
<ellipse cx="650" cy="443" rx="9" ry="3.5" transform="rotate(0 650 443)" fill="#ff9896" opacity="0.3" filter="url(#blur2)"/>
<ellipse cx="592" cy="507" rx="9" ry="3.5" transform="rotate(0 592 507)" fill="#ff9896" opacity="0.3" filter="url(#blur2)"/>
<ellipse cx="621" cy="474" rx="18" ry="6" transform="rotate(-10 621 474)" fill="#8a8a8a" opacity="0.3" filter="url(#blur2)"/>
<circle cx="578" cy="433" r="2.3" fill="#aaaaaa" stroke="none" stroke-width="1" opacity="0.5"/>
<circle cx="585" cy="440" r="2.3" fill="#aaaaaa" stroke="none" stroke-width="1" opacity="0.5"/>
<circle cx="606" cy="424" r="2.3" fill="#aaaaaa" stroke="none" stroke-width="1" opacity="0.5"/>
<circle cx="630" cy="468" r="2.3" fill="#aaaaaa" stroke="none" stroke-width="1" opacity="0.5"/>
<circle cx="640" cy="455" r="2.3" fill="#aaaaaa" stroke="none" stroke-width="1" opacity="0.5"/>
<circle cx="652" cy="459" r="2.3" fill="#aaaaaa" stroke="none" stroke-width="1" opacity="0.5"/>
<circle cx="672" cy="458" r="2.3" fill="#aaaaaa" stroke="none" stroke-width="1" opacity="0.5"/>
<circle cx="676" cy="461" r="2.3" fill="#aaaaaa" stroke="none" stroke-width="1" opacity="0.5"/>
<circle cx="566" cy="480" r="2.3" fill="#aaaaaa" stroke="none" stroke-width="1" opacity="0.5"/>
<circle cx="558" cy="487" r="2.3" fill="#aaaaaa" stroke="none" stroke-width="1" opacity="0.5"/>
<circle cx="550" cy="492" r="2.3" fill="#aaaaaa" stroke="none" stroke-width="1" opacity="0.5"/>
<circle cx="565" cy="494" r="2.3" fill="#aaaaaa" stroke="none" stroke-width="1" opacity="0.5"/>
<circle cx="630" cy="508" r="2.3" fill="#aaaaaa" stroke="none" stroke-width="1" opacity="0.5"/>
<circle cx="660" cy="484" r="2.3" fill="#aaaaaa" stroke="none" stroke-width="1" opacity="0.5"/>
<circle cx="680" cy="486" r="2.3" fill="#aaaaaa" stroke="none" stroke-width="1" opacity="0.5"/>
<circle cx="676" cy="493" r="2.3" fill="#aaaaaa" stroke="none" stroke-width="1" opacity="0.5"/>
<circle cx="613" cy="520" r="2.3" fill="#aaaaaa" stroke="none" stroke-width="1" opacity="0.5"/>
<circle cx="602" cy="497" r="2.3" fill="#aaaaaa" stroke="none" stroke-width="1" opacity="0.5"/>
<circle cx="585" cy="512" r="2.3" fill="#aaaaaa" stroke="none" stroke-width="1" opacity="0.5"/>
<circle cx="640" cy="512" r="2.3" fill="#aaaaaa" stroke="none" stroke-width="1" opacity="0.5"/>
<circle cx="596" cy="566" r="2.3" fill="#aaaaaa" stroke="none" stroke-width="1" opacity="0.5"/>
<circle cx="632" cy="470" r="2.3" fill="#aaaaaa" stroke="none" stroke-width="1" opacity="0.5"/>
<circle cx="604" cy="466" r="2.3" fill="#aaaaaa" stroke="none" stroke-width="1" opacity="0.5"/>
<circle cx="603.7" cy="475.9" r="2.3" fill="#aaaaaa" stroke="none" stroke-width="1" opacity="0.7"/>
<circle cx="625.5" cy="470.4" r="2.3" fill="#aaaaaa" stroke="none" stroke-width="1" opacity="0.7"/>
<circle cx="603" cy="468.6" r="2.3" fill="#aaaaaa" stroke="none" stroke-width="1" opacity="0.7"/>
<circle cx="628.9" cy="472.2" r="2.3" fill="#aaaaaa" stroke="none" stroke-width="1" opacity="0.7"/>
<circle cx="609.5" cy="471.2" r="2.3" fill="#aaaaaa" stroke="none" stroke-width="1" opacity="0.7"/>
<circle cx="586.3" cy="483.2" r="2.3" fill="#aaaaaa" stroke="none" stroke-width="1" opacity="0.7"/>
<circle cx="607.1" cy="477.9" r="2.3" fill="#aaaaaa" stroke="none" stroke-width="1" opacity="0.7"/>
<circle cx="639.6" cy="469" r="2.3" fill="#aaaaaa" stroke="none" stroke-width="1" opacity="0.7"/>
<circle cx="619.4" cy="482" r="2.3" fill="#aaaaaa" stroke="none" stroke-width="1" opacity="0.7"/>
<circle cx="617.5" cy="477" r="2.3" fill="#aaaaaa" stroke="none" stroke-width="1" opacity="0.7"/>
<circle cx="603.2" cy="473.2" r="2.3" fill="#aaaaaa" stroke="none" stroke-width="1" opacity="0.7"/>
<circle cx="599.5" cy="486.6" r="2.3" fill="#aaaaaa" stroke="none" stroke-width="1" opacity="0.7"/>
<circle cx="636.9" cy="469.1" r="2.3" fill="#aaaaaa" stroke="none" stroke-width="1" opacity="0.7"/>
<circle cx="618.5" cy="473.7" r="2.3" fill="#aaaaaa" stroke="none" stroke-width="1" opacity="0.7"/>
<circle cx="659.3" cy="474.5" r="2.3" fill="#aaaaaa" stroke="none" stroke-width="1" opacity="0.7"/>
<circle cx="620.9" cy="480.7" r="2.3" fill="#aaaaaa" stroke="none" stroke-width="1" opacity="0.7"/>
<circle cx="638.8" cy="465.7" r="2.3" fill="#aaaaaa" stroke="none" stroke-width="1" opacity="0.7"/>
<circle cx="631.5" cy="478.1" r="2.3" fill="#aaaaaa" stroke="none" stroke-width="1" opacity="0.7"/>
<circle cx="623.6" cy="481" r="2.3" fill="#aaaaaa" stroke="none" stroke-width="1" opacity="0.7"/>
<circle cx="638.8" cy="472.8" r="2.3" fill="#aaaaaa" stroke="none" stroke-width="1" opacity="0.7"/>
<circle cx="618.7" cy="483" r="2.3" fill="#aaaaaa" stroke="none" stroke-width="1" opacity="0.7"/>
<circle cx="625.2" cy="478.3" r="2.3" fill="#aaaaaa" stroke="none" stroke-width="1" opacity="0.7"/>
<circle cx="649.8" cy="472.9" r="2.3" fill="#aaaaaa" stroke="none" stroke-width="1" opacity="0.7"/>
<circle cx="620" cy="467.9" r="2.3" fill="#aaaaaa" stroke="none" stroke-width="1" opacity="0.7"/>
<circle cx="628.1" cy="477.4" r="2.3" fill="#aaaaaa" stroke="none" stroke-width="1" opacity="0.7"/>
<circle cx="631.5" cy="477.9" r="2.3" fill="#aaaaaa" stroke="none" stroke-width="1" opacity="0.7"/>
<circle cx="632.7" cy="475.6" r="2.3" fill="#aaaaaa" stroke="none" stroke-width="1" opacity="0.7"/>
<circle cx="625.5" cy="479.4" r="2.3" fill="#aaaaaa" stroke="none" stroke-width="1" opacity="0.7"/>
<circle cx="612.2" cy="472" r="2.3" fill="#aaaaaa" stroke="none" stroke-width="1" opacity="0.7"/>
<circle cx="609.5" cy="479.7" r="2.3" fill="#aaaaaa" stroke="none" stroke-width="1" opacity="0.7"/>
<circle cx="598.1" cy="478.2" r="2.3" fill="#aaaaaa" stroke="none" stroke-width="1" opacity="0.7"/>
<circle cx="620.6" cy="478.7" r="2.3" fill="#aaaaaa" stroke="none" stroke-width="1" opacity="0.7"/>
<circle cx="608.9" cy="479.6" r="2.3" fill="#aaaaaa" stroke="none" stroke-width="1" opacity="0.7"/>
<circle cx="622.6" cy="472.7" r="2.3" fill="#aaaaaa" stroke="none" stroke-width="1" opacity="0.7"/>
<circle cx="623.5" cy="474.9" r="2.3" fill="#aaaaaa" stroke="none" stroke-width="1" opacity="0.7"/>
<circle cx="607.3" cy="477.2" r="2.3" fill="#aaaaaa" stroke="none" stroke-width="1" opacity="0.7"/>
<circle cx="613.1" cy="490.7" r="2.3" fill="#aaaaaa" stroke="none" stroke-width="1" opacity="0.7"/>
<circle cx="618.8" cy="472.9" r="2.3" fill="#aaaaaa" stroke="none" stroke-width="1" opacity="0.7"/>
<circle cx="603.2" cy="480.3" r="2.3" fill="#aaaaaa" stroke="none" stroke-width="1" opacity="0.7"/>
<circle cx="627.9" cy="475.4" r="2.3" fill="#aaaaaa" stroke="none" stroke-width="1" opacity="0.7"/>
<circle cx="602.9" cy="473.6" r="2.3" fill="#aaaaaa" stroke="none" stroke-width="1" opacity="0.7"/>
<circle cx="608.4" cy="480.5" r="2.3" fill="#aaaaaa" stroke="none" stroke-width="1" opacity="0.7"/>
<circle cx="611.3" cy="478" r="2.3" fill="#aaaaaa" stroke="none" stroke-width="1" opacity="0.7"/>
<circle cx="644.6" cy="459.3" r="2.3" fill="#aaaaaa" stroke="none" stroke-width="1" opacity="0.7"/>
<circle cx="619.3" cy="476.7" r="2.3" fill="#aaaaaa" stroke="none" stroke-width="1" opacity="0.7"/>
<circle cx="603.8" cy="487.1" r="2.3" fill="#aaaaaa" stroke="none" stroke-width="1" opacity="0.7"/>
<circle cx="619.6" cy="479.3" r="2.3" fill="#aaaaaa" stroke="none" stroke-width="1" opacity="0.7"/>
<circle cx="632.5" cy="483.4" r="2.3" fill="#aaaaaa" stroke="none" stroke-width="1" opacity="0.7"/>
<circle cx="613.1" cy="474.1" r="2.3" fill="#aaaaaa" stroke="none" stroke-width="1" opacity="0.7"/>
<circle cx="603.9" cy="472" r="2.3" fill="#aaaaaa" stroke="none" stroke-width="1" opacity="0.7"/>
<circle cx="646.7" cy="468.1" r="2.3" fill="#aaaaaa" stroke="none" stroke-width="1" opacity="0.7"/>
<circle cx="600.2" cy="485.5" r="2.3" fill="#aaaaaa" stroke="none" stroke-width="1" opacity="0.7"/>
<circle cx="645.4" cy="465" r="2.3" fill="#aaaaaa" stroke="none" stroke-width="1" opacity="0.7"/>
<circle cx="620.3" cy="467.5" r="2.3" fill="#aaaaaa" stroke="none" stroke-width="1" opacity="0.7"/>
<circle cx="595.2" cy="480.8" r="2.3" fill="#aaaaaa" stroke="none" stroke-width="1" opacity="0.7"/>
<circle cx="605" cy="472.1" r="2.3" fill="#aaaaaa" stroke="none" stroke-width="1" opacity="0.7"/>
<circle cx="623.4" cy="478.6" r="2.3" fill="#aaaaaa" stroke="none" stroke-width="1" opacity="0.7"/>
<circle cx="621.5" cy="484.8" r="2.3" fill="#aaaaaa" stroke="none" stroke-width="1" opacity="0.7"/>
<circle cx="613.4" cy="475.9" r="2.3" fill="#aaaaaa" stroke="none" stroke-width="1" opacity="0.7"/>
<circle cx="637.7" cy="487.7" r="2.3" fill="#aaaaaa" stroke="none" stroke-width="1" opacity="0.7"/>
<circle cx="651.5" cy="476.3" r="2.3" fill="#aaaaaa" stroke="none" stroke-width="1" opacity="0.7"/>
<circle cx="622.7" cy="467.3" r="2.3" fill="#aaaaaa" stroke="none" stroke-width="1" opacity="0.7"/>
<circle cx="642.6" cy="471.3" r="2.3" fill="#aaaaaa" stroke="none" stroke-width="1" opacity="0.7"/>
<circle cx="654.5" cy="469.8" r="2.3" fill="#aaaaaa" stroke="none" stroke-width="1" opacity="0.7"/>
<circle cx="597.4" cy="488.9" r="2.3" fill="#aaaaaa" stroke="none" stroke-width="1" opacity="0.7"/>
<circle cx="624.2" cy="472.2" r="2.3" fill="#aaaaaa" stroke="none" stroke-width="1" opacity="0.7"/>
<circle cx="624.8" cy="475.7" r="2.3" fill="#aaaaaa" stroke="none" stroke-width="1" opacity="0.7"/>
<circle cx="624.3" cy="464" r="2.3" fill="#aaaaaa" stroke="none" stroke-width="1" opacity="0.7"/>
<circle cx="623.6" cy="478.9" r="2.3" fill="#aaaaaa" stroke="none" stroke-width="1" opacity="0.7"/>
<circle cx="607.4" cy="488" r="2.3" fill="#aaaaaa" stroke="none" stroke-width="1" opacity="0.7"/>
<circle cx="617.7" cy="463.6" r="2.3" fill="#aaaaaa" stroke="none" stroke-width="1" opacity="0.7"/>
<circle cx="644" cy="469.1" r="2.3" fill="#aaaaaa" stroke="none" stroke-width="1" opacity="0.7"/>
<circle cx="623.1" cy="474.7" r="2.3" fill="#aaaaaa" stroke="none" stroke-width="1" opacity="0.7"/>
<circle cx="649.4" cy="470.7" r="2.3" fill="#aaaaaa" stroke="none" stroke-width="1" opacity="0.7"/>
<circle cx="612.2" cy="474.1" r="2.3" fill="#aaaaaa" stroke="none" stroke-width="1" opacity="0.7"/>
<circle cx="631.4" cy="478.3" r="2.3" fill="#aaaaaa" stroke="none" stroke-width="1" opacity="0.7"/>
<circle cx="614.8" cy="484.1" r="2.3" fill="#aaaaaa" stroke="none" stroke-width="1" opacity="0.7"/>
<circle cx="613.5" cy="479.2" r="2.3" fill="#aaaaaa" stroke="none" stroke-width="1" opacity="0.7"/>
<circle cx="630.5" cy="476.4" r="2.3" fill="#aaaaaa" stroke="none" stroke-width="1" opacity="0.7"/>
<circle cx="626.8" cy="477.2" r="2.3" fill="#aaaaaa" stroke="none" stroke-width="1" opacity="0.7"/>
<circle cx="616.2" cy="479" r="2.3" fill="#aaaaaa" stroke="none" stroke-width="1" opacity="0.7"/>
<circle cx="625.7" cy="467.3" r="2.3" fill="#aaaaaa" stroke="none" stroke-width="1" opacity="0.7"/>
<circle cx="603.5" cy="482.3" r="2.3" fill="#aaaaaa" stroke="none" stroke-width="1" opacity="0.7"/>
<circle cx="622.6" cy="477.3" r="2.3" fill="#aaaaaa" stroke="none" stroke-width="1" opacity="0.7"/>
<circle cx="633.5" cy="476.4" r="2.3" fill="#aaaaaa" stroke="none" stroke-width="1" opacity="0.7"/>
<circle cx="616.1" cy="481.1" r="2.3" fill="#aaaaaa" stroke="none" stroke-width="1" opacity="0.7"/>
<circle cx="615.4" cy="489.2" r="2.3" fill="#aaaaaa" stroke="none" stroke-width="1" opacity="0.7"/>
<circle cx="637" cy="473.2" r="2.3" fill="#aaaaaa" stroke="none" stroke-width="1" opacity="0.7"/>
<circle cx="614.5" cy="481.2" r="2.3" fill="#aaaaaa" stroke="none" stroke-width="1" opacity="0.7"/>
<circle cx="619.5" cy="471.9" r="2.3" fill="#aaaaaa" stroke="none" stroke-width="1" opacity="0.7"/>
<circle cx="630" cy="475.3" r="2.3" fill="#aaaaaa" stroke="none" stroke-width="1" opacity="0.7"/>
<circle cx="634.3" cy="472.5" r="2.3" fill="#aaaaaa" stroke="none" stroke-width="1" opacity="0.7"/>
<circle cx="651.4" cy="481.6" r="2.3" fill="#aaaaaa" stroke="none" stroke-width="1" opacity="0.7"/>
<circle cx="598.3" cy="467.9" r="2.3" fill="#aaaaaa" stroke="none" stroke-width="1" opacity="0.7"/>
<circle cx="611.9" cy="488.7" r="2.3" fill="#aaaaaa" stroke="none" stroke-width="1" opacity="0.7"/>
<circle cx="632" cy="475.1" r="2.3" fill="#aaaaaa" stroke="none" stroke-width="1" opacity="0.7"/>
<circle cx="625" cy="467.7" r="2.3" fill="#aaaaaa" stroke="none" stroke-width="1" opacity="0.7"/>
<circle cx="624" cy="469.2" r="2.3" fill="#aaaaaa" stroke="none" stroke-width="1" opacity="0.7"/>
<circle cx="625.5" cy="473.4" r="2.3" fill="#aaaaaa" stroke="none" stroke-width="1" opacity="0.7"/>
<circle cx="615.1" cy="474.5" r="2.3" fill="#aaaaaa" stroke="none" stroke-width="1" opacity="0.7"/>
<circle cx="633.5" cy="486.6" r="2.3" fill="#aaaaaa" stroke="none" stroke-width="1" opacity="0.7"/>
<circle cx="600.4" cy="485.8" r="2.3" fill="#aaaaaa" stroke="none" stroke-width="1" opacity="0.7"/>
<circle cx="619.4" cy="487.1" r="2.3" fill="#aaaaaa" stroke="none" stroke-width="1" opacity="0.7"/>
<circle cx="637" cy="467.7" r="2.3" fill="#aaaaaa" stroke="none" stroke-width="1" opacity="0.7"/>
<circle cx="626" cy="485" r="2.3" fill="#aaaaaa" stroke="none" stroke-width="1" opacity="0.7"/>
<circle cx="644.7" cy="467.5" r="2.3" fill="#aaaaaa" stroke="none" stroke-width="1" opacity="0.7"/>
<circle cx="609.5" cy="481" r="2.3" fill="#aaaaaa" stroke="none" stroke-width="1" opacity="0.7"/>
<circle cx="642.4" cy="478.3" r="2.3" fill="#aaaaaa" stroke="none" stroke-width="1" opacity="0.7"/>
<circle cx="628" cy="478.6" r="2.3" fill="#aaaaaa" stroke="none" stroke-width="1" opacity="0.7"/>
<circle cx="630.2" cy="475.1" r="2.3" fill="#aaaaaa" stroke="none" stroke-width="1" opacity="0.7"/>
<circle cx="636" cy="399.5" r="3.3" fill="#ff7f0e" stroke="none" stroke-width="1" />
<circle cx="639" cy="400" r="3.3" fill="#ff7f0e" stroke="none" stroke-width="1" />
<circle cx="611" cy="443" r="3.3" fill="#2ca02c" stroke="none" stroke-width="1" />
<circle cx="614" cy="442" r="3.3" fill="#2ca02c" stroke="none" stroke-width="1" />
<circle cx="644" cy="443" r="3.3" fill="#e3242b" stroke="none" stroke-width="1" />
<circle cx="647" cy="442.5" r="3.3" fill="#e3242b" stroke="none" stroke-width="1" />
<circle cx="649" cy="443.5" r="3.3" fill="#e3242b" stroke="none" stroke-width="1" />
<circle cx="597" cy="451" r="3.1" fill="#c5b0d5" stroke="none" stroke-width="1" />
<circle cx="600" cy="452.5" r="3.1" fill="#c5b0d5" stroke="none" stroke-width="1" />
<circle cx="598" cy="449.5" r="3.1" fill="#c5b0d5" stroke="none" stroke-width="1" />
<circle cx="541.7" cy="466.8" r="3.3" fill="#ff9896" stroke="none" stroke-width="1" />
<circle cx="587" cy="469" r="3.3" fill="#1f77b4" stroke="none" stroke-width="1" />
<circle cx="589" cy="470.5" r="3.3" fill="#1f77b4" stroke="none" stroke-width="1" />
<circle cx="588" cy="468" r="3.3" fill="#1f77b4" stroke="none" stroke-width="1" />
<circle cx="585" cy="476" r="3.3" fill="#6a3d9a" stroke="none" stroke-width="1" />
<circle cx="588" cy="476.5" r="3.3" fill="#6a3d9a" stroke="none" stroke-width="1" />
<circle cx="587" cy="475" r="3.3" fill="#6a3d9a" stroke="none" stroke-width="1" />
<circle cx="614" cy="474" r="3.3" fill="#ffbb78" stroke="none" stroke-width="1" />
<circle cx="617" cy="475" r="3.3" fill="#ffbb78" stroke="none" stroke-width="1" />
<circle cx="620" cy="473.5" r="3.3" fill="#ffbb78" stroke="none" stroke-width="1" />
<circle cx="623" cy="474.5" r="3.3" fill="#ffbb78" stroke="none" stroke-width="1" />
<circle cx="626" cy="474" r="3.3" fill="#ffbb78" stroke="none" stroke-width="1" />
<circle cx="619" cy="476" r="3.3" fill="#ffbb78" stroke="none" stroke-width="1" />
<circle cx="654" cy="471" r="3.3" fill="#6a3d9a" stroke="none" stroke-width="1" />
<circle cx="657" cy="471.5" r="3.3" fill="#6a3d9a" stroke="none" stroke-width="1" />
<circle cx="655" cy="469.5" r="3.3" fill="#6a3d9a" stroke="none" stroke-width="1" />
<circle cx="652" cy="478.7" r="3.1" fill="#1f77b4" stroke="none" stroke-width="1" />
<circle cx="651" cy="480" r="3.1" fill="#1f77b4" stroke="none" stroke-width="1" />
<circle cx="700" cy="477.5" r="3.2" fill="#ff9896" stroke="none" stroke-width="1" />
<circle cx="700.3" cy="480" r="3.2" fill="#ff9896" stroke="none" stroke-width="1" />
<circle cx="642" cy="493" r="3.1" fill="#c5b0d5" stroke="none" stroke-width="1" />
<circle cx="645" cy="494" r="3.1" fill="#c5b0d5" stroke="none" stroke-width="1" />
<circle cx="643.5" cy="491" r="3.1" fill="#c5b0d5" stroke="none" stroke-width="1" />
<circle cx="587" cy="508" r="3.2" fill="#e3242b" stroke="none" stroke-width="1" />
<circle cx="590" cy="507" r="3.2" fill="#e3242b" stroke="none" stroke-width="1" />
<circle cx="592.5" cy="506.5" r="3.2" fill="#e3242b" stroke="none" stroke-width="1" />
<circle cx="628.5" cy="505.7" r="3.1" fill="#2ca02c" stroke="none" stroke-width="1" />
<circle cx="630" cy="504" r="3.1" fill="#2ca02c" stroke="none" stroke-width="1" />
<circle cx="626.5" cy="507" r="3.1" fill="#2ca02c" stroke="none" stroke-width="1" />
<circle cx="627" cy="516" r="2.8" fill="#2ca02c" stroke="none" stroke-width="1" />
<circle cx="602" cy="550" r="3.2" fill="#ff7f0e" stroke="none" stroke-width="1" />
<circle cx="604" cy="549.5" r="3.2" fill="#ff7f0e" stroke="none" stroke-width="1" />
<polygon points="441.8,288.4 644.2,210.6 799.6,311.5 597.2,389.3" stroke="none" stroke-width="1" fill="white" />
<line x1="637.7" y1="373.7" x2="482.3" y2="272.8" stroke="#cfcfcf" stroke-width="1.3" />
<line x1="566.1" y1="369.1" x2="768.5" y2="291.3" stroke="#cfcfcf" stroke-width="1.3" />
<line x1="701.4" y1="349.2" x2="546" y2="248.3" stroke="#cfcfcf" stroke-width="1.3" />
<line x1="517.2" y1="337.3" x2="719.6" y2="259.5" stroke="#cfcfcf" stroke-width="1.3" />
<line x1="765.2" y1="324.7" x2="609.8" y2="223.8" stroke="#cfcfcf" stroke-width="1.3" />
<line x1="468.2" y1="305.6" x2="670.6" y2="227.8" stroke="#cfcfcf" stroke-width="1.3" />
<polygon points="441.8,288.4 644.2,210.6 799.6,311.5 597.2,389.3" stroke="#3a3a3a" stroke-width="1.2" fill="none" />
<ellipse cx="580" cy="245" rx="42" ry="7" transform="rotate(-23 580 245)" fill="#c5b0d5" opacity="0.4" filter="url(#blur2)"/>
<ellipse cx="664" cy="349" rx="42" ry="7" transform="rotate(-22 664 349)" fill="#c5b0d5" opacity="0.4" filter="url(#blur2)"/>
<ellipse cx="620" cy="298" rx="30" ry="8" transform="rotate(-5 620 298)" fill="#2ca02c" opacity="0.15" filter="url(#blur2)"/>
<ellipse cx="620" cy="298" rx="20" ry="5" transform="rotate(-5 620 298)" fill="#8a8a8a" opacity="0.3" filter="url(#blur2)"/>
<ellipse cx="583" cy="301" rx="9" ry="4" transform="rotate(0 583 301)" fill="#ff9896" opacity="0.3" filter="url(#blur2)"/>
<circle cx="633" cy="253" r="2.3" fill="#aaaaaa" stroke="none" stroke-width="1" opacity="0.5"/>
<circle cx="607" cy="262" r="2.3" fill="#aaaaaa" stroke="none" stroke-width="1" opacity="0.5"/>
<circle cx="617" cy="261" r="2.3" fill="#aaaaaa" stroke="none" stroke-width="1" opacity="0.5"/>
<circle cx="575" cy="276" r="2.3" fill="#aaaaaa" stroke="none" stroke-width="1" opacity="0.5"/>
<circle cx="553" cy="285" r="2.3" fill="#aaaaaa" stroke="none" stroke-width="1" opacity="0.5"/>
<circle cx="566" cy="267" r="2.3" fill="#aaaaaa" stroke="none" stroke-width="1" opacity="0.5"/>
<circle cx="620" cy="270" r="2.3" fill="#aaaaaa" stroke="none" stroke-width="1" opacity="0.5"/>
<circle cx="592" cy="290" r="2.3" fill="#aaaaaa" stroke="none" stroke-width="1" opacity="0.5"/>
<circle cx="600" cy="283" r="2.3" fill="#aaaaaa" stroke="none" stroke-width="1" opacity="0.5"/>
<circle cx="642" cy="279" r="2.3" fill="#aaaaaa" stroke="none" stroke-width="1" opacity="0.5"/>
<circle cx="682" cy="285" r="2.3" fill="#aaaaaa" stroke="none" stroke-width="1" opacity="0.5"/>
<circle cx="671" cy="262" r="2.3" fill="#aaaaaa" stroke="none" stroke-width="1" opacity="0.5"/>
<circle cx="700" cy="270" r="2.3" fill="#aaaaaa" stroke="none" stroke-width="1" opacity="0.5"/>
<circle cx="714" cy="264" r="2.3" fill="#aaaaaa" stroke="none" stroke-width="1" opacity="0.5"/>
<circle cx="699" cy="286" r="2.3" fill="#aaaaaa" stroke="none" stroke-width="1" opacity="0.5"/>
<circle cx="627" cy="320" r="2.3" fill="#aaaaaa" stroke="none" stroke-width="1" opacity="0.5"/>
<circle cx="604" cy="338" r="2.3" fill="#aaaaaa" stroke="none" stroke-width="1" opacity="0.5"/>
<circle cx="617" cy="326" r="2.3" fill="#aaaaaa" stroke="none" stroke-width="1" opacity="0.5"/>
<circle cx="593" cy="329" r="2.3" fill="#aaaaaa" stroke="none" stroke-width="1" opacity="0.5"/>
<circle cx="605" cy="312" r="2.3" fill="#aaaaaa" stroke="none" stroke-width="1" opacity="0.5"/>
<circle cx="657" cy="313" r="2.3" fill="#aaaaaa" stroke="none" stroke-width="1" opacity="0.5"/>
<circle cx="664" cy="326" r="2.3" fill="#aaaaaa" stroke="none" stroke-width="1" opacity="0.5"/>
<circle cx="641" cy="343" r="2.3" fill="#aaaaaa" stroke="none" stroke-width="1" opacity="0.5"/>
<circle cx="620" cy="349" r="2.3" fill="#aaaaaa" stroke="none" stroke-width="1" opacity="0.5"/>
<circle cx="564" cy="339" r="2.3" fill="#aaaaaa" stroke="none" stroke-width="1" opacity="0.5"/>
<circle cx="548" cy="288" r="2.3" fill="#aaaaaa" stroke="none" stroke-width="1" opacity="0.5"/>
<circle cx="538" cy="265" r="2.3" fill="#aaaaaa" stroke="none" stroke-width="1" opacity="0.5"/>
<circle cx="567" cy="322" r="2.3" fill="#aaaaaa" stroke="none" stroke-width="1" opacity="0.5"/>
<circle cx="580" cy="336" r="2.3" fill="#aaaaaa" stroke="none" stroke-width="1" opacity="0.5"/>
<circle cx="560" cy="330" r="2.3" fill="#aaaaaa" stroke="none" stroke-width="1" opacity="0.5"/>
<circle cx="628" cy="333" r="2.3" fill="#aaaaaa" stroke="none" stroke-width="1" opacity="0.5"/>
<circle cx="700" cy="300" r="2.3" fill="#aaaaaa" stroke="none" stroke-width="1" opacity="0.5"/>
<circle cx="615" cy="275" r="2.3" fill="#aaaaaa" stroke="none" stroke-width="1" opacity="0.5"/>
<circle cx="590" cy="270" r="2.3" fill="#aaaaaa" stroke="none" stroke-width="1" opacity="0.5"/>
<circle cx="648" cy="300" r="2.3" fill="#aaaaaa" stroke="none" stroke-width="1" opacity="0.5"/>
<circle cx="636" cy="315" r="2.3" fill="#aaaaaa" stroke="none" stroke-width="1" opacity="0.5"/>
<circle cx="626.8" cy="296.9" r="2.3" fill="#aaaaaa" stroke="none" stroke-width="1" opacity="0.7"/>
<circle cx="666.7" cy="295.8" r="2.3" fill="#aaaaaa" stroke="none" stroke-width="1" opacity="0.7"/>
<circle cx="622.8" cy="299.4" r="2.3" fill="#aaaaaa" stroke="none" stroke-width="1" opacity="0.7"/>
<circle cx="612.8" cy="296" r="2.3" fill="#aaaaaa" stroke="none" stroke-width="1" opacity="0.7"/>
<circle cx="627.1" cy="295.7" r="2.3" fill="#aaaaaa" stroke="none" stroke-width="1" opacity="0.7"/>
<circle cx="630.9" cy="296.3" r="2.3" fill="#aaaaaa" stroke="none" stroke-width="1" opacity="0.7"/>
<circle cx="595.4" cy="295.3" r="2.3" fill="#aaaaaa" stroke="none" stroke-width="1" opacity="0.7"/>
<circle cx="607.7" cy="291.8" r="2.3" fill="#aaaaaa" stroke="none" stroke-width="1" opacity="0.7"/>
<circle cx="618.8" cy="297" r="2.3" fill="#aaaaaa" stroke="none" stroke-width="1" opacity="0.7"/>
<circle cx="632.4" cy="293.7" r="2.3" fill="#aaaaaa" stroke="none" stroke-width="1" opacity="0.7"/>
<circle cx="617.1" cy="300.4" r="2.3" fill="#aaaaaa" stroke="none" stroke-width="1" opacity="0.7"/>
<circle cx="629.7" cy="293.4" r="2.3" fill="#aaaaaa" stroke="none" stroke-width="1" opacity="0.7"/>
<circle cx="640.5" cy="293.9" r="2.3" fill="#aaaaaa" stroke="none" stroke-width="1" opacity="0.7"/>
<circle cx="636.1" cy="295.5" r="2.3" fill="#aaaaaa" stroke="none" stroke-width="1" opacity="0.7"/>
<circle cx="613.9" cy="293.9" r="2.3" fill="#aaaaaa" stroke="none" stroke-width="1" opacity="0.7"/>
<circle cx="619" cy="306.9" r="2.3" fill="#aaaaaa" stroke="none" stroke-width="1" opacity="0.7"/>
<circle cx="611.9" cy="304.4" r="2.3" fill="#aaaaaa" stroke="none" stroke-width="1" opacity="0.7"/>
<circle cx="637.9" cy="295" r="2.3" fill="#aaaaaa" stroke="none" stroke-width="1" opacity="0.7"/>
<circle cx="635.6" cy="301.7" r="2.3" fill="#aaaaaa" stroke="none" stroke-width="1" opacity="0.7"/>
<circle cx="615.7" cy="296.4" r="2.3" fill="#aaaaaa" stroke="none" stroke-width="1" opacity="0.7"/>
<circle cx="635.3" cy="298" r="2.3" fill="#aaaaaa" stroke="none" stroke-width="1" opacity="0.7"/>
<circle cx="649" cy="297.1" r="2.3" fill="#aaaaaa" stroke="none" stroke-width="1" opacity="0.7"/>
<circle cx="604.4" cy="299.2" r="2.3" fill="#aaaaaa" stroke="none" stroke-width="1" opacity="0.7"/>
<circle cx="604.2" cy="302.2" r="2.3" fill="#aaaaaa" stroke="none" stroke-width="1" opacity="0.7"/>
<circle cx="629.5" cy="295.7" r="2.3" fill="#aaaaaa" stroke="none" stroke-width="1" opacity="0.7"/>
<circle cx="608.3" cy="302.3" r="2.3" fill="#aaaaaa" stroke="none" stroke-width="1" opacity="0.7"/>
<circle cx="615.3" cy="302.9" r="2.3" fill="#aaaaaa" stroke="none" stroke-width="1" opacity="0.7"/>
<circle cx="606.6" cy="298.2" r="2.3" fill="#aaaaaa" stroke="none" stroke-width="1" opacity="0.7"/>
<circle cx="612.3" cy="294.9" r="2.3" fill="#aaaaaa" stroke="none" stroke-width="1" opacity="0.7"/>
<circle cx="657.6" cy="300.9" r="2.3" fill="#aaaaaa" stroke="none" stroke-width="1" opacity="0.7"/>
<circle cx="611.8" cy="301.7" r="2.3" fill="#aaaaaa" stroke="none" stroke-width="1" opacity="0.7"/>
<circle cx="596" cy="304.7" r="2.3" fill="#aaaaaa" stroke="none" stroke-width="1" opacity="0.7"/>
<circle cx="634.7" cy="295.5" r="2.3" fill="#aaaaaa" stroke="none" stroke-width="1" opacity="0.7"/>
<circle cx="615.3" cy="299.3" r="2.3" fill="#aaaaaa" stroke="none" stroke-width="1" opacity="0.7"/>
<circle cx="626.2" cy="296.1" r="2.3" fill="#aaaaaa" stroke="none" stroke-width="1" opacity="0.7"/>
<circle cx="608.4" cy="298.1" r="2.3" fill="#aaaaaa" stroke="none" stroke-width="1" opacity="0.7"/>
<circle cx="614.5" cy="301.4" r="2.3" fill="#aaaaaa" stroke="none" stroke-width="1" opacity="0.7"/>
<circle cx="621.4" cy="298.8" r="2.3" fill="#aaaaaa" stroke="none" stroke-width="1" opacity="0.7"/>
<circle cx="597.4" cy="298.6" r="2.3" fill="#aaaaaa" stroke="none" stroke-width="1" opacity="0.7"/>
<circle cx="614.6" cy="296.6" r="2.3" fill="#aaaaaa" stroke="none" stroke-width="1" opacity="0.7"/>
<circle cx="618.4" cy="297.1" r="2.3" fill="#aaaaaa" stroke="none" stroke-width="1" opacity="0.7"/>
<circle cx="599.7" cy="303.3" r="2.3" fill="#aaaaaa" stroke="none" stroke-width="1" opacity="0.7"/>
<circle cx="632.5" cy="295" r="2.3" fill="#aaaaaa" stroke="none" stroke-width="1" opacity="0.7"/>
<circle cx="628.4" cy="293.9" r="2.3" fill="#aaaaaa" stroke="none" stroke-width="1" opacity="0.7"/>
<circle cx="603" cy="298.8" r="2.3" fill="#aaaaaa" stroke="none" stroke-width="1" opacity="0.7"/>
<circle cx="641.3" cy="295.8" r="2.3" fill="#aaaaaa" stroke="none" stroke-width="1" opacity="0.7"/>
<circle cx="599.5" cy="300.7" r="2.3" fill="#aaaaaa" stroke="none" stroke-width="1" opacity="0.7"/>
<circle cx="612.3" cy="296.1" r="2.3" fill="#aaaaaa" stroke="none" stroke-width="1" opacity="0.7"/>
<circle cx="624.6" cy="291.2" r="2.3" fill="#aaaaaa" stroke="none" stroke-width="1" opacity="0.7"/>
<circle cx="595.5" cy="294.9" r="2.3" fill="#aaaaaa" stroke="none" stroke-width="1" opacity="0.7"/>
<circle cx="635.2" cy="297.1" r="2.3" fill="#aaaaaa" stroke="none" stroke-width="1" opacity="0.7"/>
<circle cx="612" cy="296.3" r="2.3" fill="#aaaaaa" stroke="none" stroke-width="1" opacity="0.7"/>
<circle cx="629.8" cy="301.9" r="2.3" fill="#aaaaaa" stroke="none" stroke-width="1" opacity="0.7"/>
<circle cx="610.7" cy="299.9" r="2.3" fill="#aaaaaa" stroke="none" stroke-width="1" opacity="0.7"/>
<circle cx="652.9" cy="297.5" r="2.3" fill="#aaaaaa" stroke="none" stroke-width="1" opacity="0.7"/>
<circle cx="616.2" cy="299.7" r="2.3" fill="#aaaaaa" stroke="none" stroke-width="1" opacity="0.7"/>
<circle cx="622.3" cy="300.4" r="2.3" fill="#aaaaaa" stroke="none" stroke-width="1" opacity="0.7"/>
<circle cx="625.3" cy="295.9" r="2.3" fill="#aaaaaa" stroke="none" stroke-width="1" opacity="0.7"/>
<circle cx="619.2" cy="299.6" r="2.3" fill="#aaaaaa" stroke="none" stroke-width="1" opacity="0.7"/>
<circle cx="611.4" cy="299.2" r="2.3" fill="#aaaaaa" stroke="none" stroke-width="1" opacity="0.7"/>
<circle cx="608.6" cy="303.7" r="2.3" fill="#aaaaaa" stroke="none" stroke-width="1" opacity="0.7"/>
<circle cx="641.6" cy="293.1" r="2.3" fill="#aaaaaa" stroke="none" stroke-width="1" opacity="0.7"/>
<circle cx="632.3" cy="297.7" r="2.3" fill="#aaaaaa" stroke="none" stroke-width="1" opacity="0.7"/>
<circle cx="621.9" cy="297.1" r="2.3" fill="#aaaaaa" stroke="none" stroke-width="1" opacity="0.7"/>
<circle cx="624.7" cy="301.5" r="2.3" fill="#aaaaaa" stroke="none" stroke-width="1" opacity="0.7"/>
<circle cx="604.4" cy="303.3" r="2.3" fill="#aaaaaa" stroke="none" stroke-width="1" opacity="0.7"/>
<circle cx="616.8" cy="294.4" r="2.3" fill="#aaaaaa" stroke="none" stroke-width="1" opacity="0.7"/>
<circle cx="620.3" cy="300.5" r="2.3" fill="#aaaaaa" stroke="none" stroke-width="1" opacity="0.7"/>
<circle cx="619.6" cy="299.3" r="2.3" fill="#aaaaaa" stroke="none" stroke-width="1" opacity="0.7"/>
<circle cx="616" cy="296.6" r="2.3" fill="#aaaaaa" stroke="none" stroke-width="1" opacity="0.7"/>
<circle cx="634.1" cy="293.5" r="2.3" fill="#aaaaaa" stroke="none" stroke-width="1" opacity="0.7"/>
<circle cx="634.4" cy="298.2" r="2.3" fill="#aaaaaa" stroke="none" stroke-width="1" opacity="0.7"/>
<circle cx="616.9" cy="297.6" r="2.3" fill="#aaaaaa" stroke="none" stroke-width="1" opacity="0.7"/>
<circle cx="616.8" cy="298.3" r="2.3" fill="#aaaaaa" stroke="none" stroke-width="1" opacity="0.7"/>
<circle cx="620.1" cy="297.7" r="2.3" fill="#aaaaaa" stroke="none" stroke-width="1" opacity="0.7"/>
<circle cx="593.9" cy="292.7" r="2.3" fill="#aaaaaa" stroke="none" stroke-width="1" opacity="0.7"/>
<circle cx="625.2" cy="295.4" r="2.3" fill="#aaaaaa" stroke="none" stroke-width="1" opacity="0.7"/>
<circle cx="613" cy="298.2" r="2.3" fill="#aaaaaa" stroke="none" stroke-width="1" opacity="0.7"/>
<circle cx="606.3" cy="305.1" r="2.3" fill="#aaaaaa" stroke="none" stroke-width="1" opacity="0.7"/>
<circle cx="620.7" cy="297.5" r="2.3" fill="#aaaaaa" stroke="none" stroke-width="1" opacity="0.7"/>
<circle cx="560" cy="253.5" r="2.9" fill="#6a3d9a" stroke="none" stroke-width="1" />
<circle cx="563" cy="252" r="2.9" fill="#6a3d9a" stroke="none" stroke-width="1" />
<circle cx="566" cy="251" r="2.9" fill="#6a3d9a" stroke="none" stroke-width="1" />
<circle cx="568" cy="250.5" r="2.9" fill="#6a3d9a" stroke="none" stroke-width="1" />
<circle cx="572" cy="249" r="2.9" fill="#6a3d9a" stroke="none" stroke-width="1" />
<circle cx="576" cy="247" r="2.9" fill="#6a3d9a" stroke="none" stroke-width="1" />
<circle cx="577" cy="242" r="2.9" fill="#6a3d9a" stroke="none" stroke-width="1" />
<circle cx="580" cy="244" r="2.9" fill="#6a3d9a" stroke="none" stroke-width="1" />
<circle cx="582" cy="244.5" r="2.9" fill="#6a3d9a" stroke="none" stroke-width="1" />
<circle cx="586" cy="243.5" r="2.9" fill="#6a3d9a" stroke="none" stroke-width="1" />
<circle cx="588" cy="243" r="2.9" fill="#6a3d9a" stroke="none" stroke-width="1" />
<circle cx="602.4" cy="235.1" r="2.9" fill="#6a3d9a" stroke="none" stroke-width="1" />
<circle cx="651" cy="354.5" r="2.9" fill="#6a3d9a" stroke="none" stroke-width="1" />
<circle cx="654" cy="353" r="2.9" fill="#6a3d9a" stroke="none" stroke-width="1" />
<circle cx="657" cy="352" r="2.9" fill="#6a3d9a" stroke="none" stroke-width="1" />
<circle cx="660" cy="351" r="2.9" fill="#6a3d9a" stroke="none" stroke-width="1" />
<circle cx="663" cy="350.5" r="2.9" fill="#6a3d9a" stroke="none" stroke-width="1" />
<circle cx="666" cy="349" r="2.9" fill="#6a3d9a" stroke="none" stroke-width="1" />
<circle cx="669" cy="348.5" r="2.9" fill="#6a3d9a" stroke="none" stroke-width="1" />
<circle cx="672" cy="346" r="2.9" fill="#6a3d9a" stroke="none" stroke-width="1" />
<circle cx="674" cy="346" r="2.9" fill="#6a3d9a" stroke="none" stroke-width="1" />
<circle cx="677.5" cy="342.9" r="2.9" fill="#6a3d9a" stroke="none" stroke-width="1" />
<circle cx="580" cy="301" r="3.1" fill="#e3242b" stroke="none" stroke-width="1" />
<circle cx="583" cy="301.3" r="3.1" fill="#e3242b" stroke="none" stroke-width="1" />
<circle cx="586" cy="301.5" r="3.1" fill="#e3242b" stroke="none" stroke-width="1" />
<circle cx="584" cy="299.5" r="3.1" fill="#e3242b" stroke="none" stroke-width="1" />
<circle cx="585" cy="314" r="3.2" fill="#ff7f0e" stroke="none" stroke-width="1" />
<circle cx="588" cy="313" r="3.2" fill="#ff7f0e" stroke="none" stroke-width="1" />
<circle cx="591" cy="312" r="3.2" fill="#ff7f0e" stroke="none" stroke-width="1" />
<circle cx="594" cy="311.5" r="3.2" fill="#ff7f0e" stroke="none" stroke-width="1" />
<circle cx="594" cy="325" r="3.1" fill="#ff9896" stroke="none" stroke-width="1" />
<circle cx="597" cy="323" r="3.1" fill="#ff9896" stroke="none" stroke-width="1" />
<circle cx="596" cy="327" r="3.1" fill="#ff9896" stroke="none" stroke-width="1" />
<circle cx="603" cy="297.5" r="3.3" fill="#c5b0d5" stroke="none" stroke-width="1" />
<circle cx="606" cy="297.5" r="3.3" fill="#c5b0d5" stroke="none" stroke-width="1" />
<circle cx="615.6" cy="297.5" r="3.1" fill="#2ca02c" stroke="none" stroke-width="1" />
<circle cx="624" cy="290" r="3.3" fill="#ffbb78" stroke="none" stroke-width="1" />
<circle cx="627" cy="290.9" r="3.3" fill="#ffbb78" stroke="none" stroke-width="1" />
<circle cx="630" cy="292" r="3.3" fill="#ffbb78" stroke="none" stroke-width="1" />
<circle cx="626" cy="293.5" r="3.3" fill="#ffbb78" stroke="none" stroke-width="1" />
<circle cx="629" cy="288" r="3.3" fill="#ffbb78" stroke="none" stroke-width="1" />
<circle cx="608" cy="308" r="3.3" fill="#ffbb78" stroke="none" stroke-width="1" />
<circle cx="611.8" cy="308.9" r="3.3" fill="#ffbb78" stroke="none" stroke-width="1" />
<circle cx="615" cy="309.5" r="3.3" fill="#ffbb78" stroke="none" stroke-width="1" />
<circle cx="613" cy="307" r="3.3" fill="#ffbb78" stroke="none" stroke-width="1" />
<circle cx="630.8" cy="307" r="2.9" fill="#2ca02c" stroke="none" stroke-width="1" />
<circle cx="636" cy="301" r="2.9" fill="#2ca02c" stroke="none" stroke-width="1" />
<circle cx="632" cy="301.5" r="3.4" fill="#1f77b4" stroke="none" stroke-width="1" />
<circle cx="634.5" cy="301.3" r="3.4" fill="#1f77b4" stroke="none" stroke-width="1" />
<circle cx="636.5" cy="300" r="3.4" fill="#1f77b4" stroke="none" stroke-width="1" />
<circle cx="643" cy="274" r="3.2" fill="#ff9896" stroke="none" stroke-width="1" />
<circle cx="645" cy="273.9" r="3.2" fill="#ff9896" stroke="none" stroke-width="1" />
<circle cx="648" cy="274.5" r="3.2" fill="#ff9896" stroke="none" stroke-width="1" />
<circle cx="651" cy="286" r="3.3" fill="#ff7f0e" stroke="none" stroke-width="1" />
<circle cx="653.4" cy="285.2" r="3.3" fill="#ff7f0e" stroke="none" stroke-width="1" />
<circle cx="656" cy="284.5" r="3.3" fill="#ff7f0e" stroke="none" stroke-width="1" />
<circle cx="655.3" cy="297.5" r="3.2" fill="#e3242b" stroke="none" stroke-width="1" />
<circle cx="657" cy="299" r="3.2" fill="#e3242b" stroke="none" stroke-width="1" />
<circle cx="661" cy="298" r="3.2" fill="#e3242b" stroke="none" stroke-width="1" />
<circle cx="665.7" cy="297.5" r="3.2" fill="#e3242b" stroke="none" stroke-width="1" />
<polygon points="441.8,113.9 644.2,36.1 799.6,137 597.2,214.8" stroke="none" stroke-width="1" fill="white" />
<line x1="637.7" y1="199.2" x2="482.3" y2="98.3" stroke="#cfcfcf" stroke-width="1.3" />
<line x1="566.1" y1="194.6" x2="768.5" y2="116.8" stroke="#cfcfcf" stroke-width="1.3" />
<line x1="701.4" y1="174.7" x2="546" y2="73.8" stroke="#cfcfcf" stroke-width="1.3" />
<line x1="517.2" y1="162.8" x2="719.6" y2="85" stroke="#cfcfcf" stroke-width="1.3" />
<line x1="765.2" y1="150.2" x2="609.8" y2="49.3" stroke="#cfcfcf" stroke-width="1.3" />
<line x1="468.2" y1="131.1" x2="670.6" y2="53.3" stroke="#cfcfcf" stroke-width="1.3" />
<polygon points="441.8,113.9 644.2,36.1 799.6,137 597.2,214.8" stroke="#3a3a3a" stroke-width="1.2" fill="none" />
<ellipse cx="566" cy="83.5" rx="12" ry="4" transform="rotate(-15 566 83.5)" fill="#c5b0d5" opacity="0.35" filter="url(#blur2)"/>
<ellipse cx="625" cy="102" rx="19" ry="5" transform="rotate(-20 625 102)" fill="#c5b0d5" opacity="0.3" filter="url(#blur2)"/>
<ellipse cx="610" cy="150" rx="19" ry="5" transform="rotate(-20 610 150)" fill="#c5b0d5" opacity="0.3" filter="url(#blur2)"/>
<ellipse cx="675" cy="166" rx="13" ry="4" transform="rotate(-10 675 166)" fill="#c5b0d5" opacity="0.35" filter="url(#blur2)"/>
<ellipse cx="706" cy="131" rx="17" ry="7" transform="rotate(-5 706 131)" fill="#2ca02c" opacity="0.2" filter="url(#blur2)"/>
<ellipse cx="706" cy="131" rx="10" ry="4.5" transform="rotate(-5 706 131)" fill="#2ca02c" opacity="0.25" filter="url(#blur2)"/>
<ellipse cx="540" cy="120.5" rx="16" ry="7" transform="rotate(-10 540 120.5)" fill="#2ca02c" opacity="0.2" filter="url(#blur2)"/>
<ellipse cx="540" cy="120.5" rx="9" ry="4.5" transform="rotate(-10 540 120.5)" fill="#2ca02c" opacity="0.25" filter="url(#blur2)"/>
<ellipse cx="585" cy="118" rx="9" ry="4" transform="rotate(0 585 118)" fill="#ff9896" opacity="0.25" filter="url(#blur2)"/>
<ellipse cx="658" cy="132" rx="8" ry="3.5" transform="rotate(0 658 132)" fill="#ff9896" opacity="0.3" filter="url(#blur2)"/>
<ellipse cx="621" cy="124" rx="20" ry="7" transform="rotate(-15 621 124)" fill="#9a9a9a" opacity="0.25" filter="url(#blur2)"/>
<circle cx="584" cy="86" r="2.3" fill="#aaaaaa" stroke="none" stroke-width="1" opacity="0.5"/>
<circle cx="597" cy="85" r="2.3" fill="#aaaaaa" stroke="none" stroke-width="1" opacity="0.5"/>
<circle cx="605" cy="98" r="2.3" fill="#aaaaaa" stroke="none" stroke-width="1" opacity="0.5"/>
<circle cx="601" cy="108" r="2.3" fill="#aaaaaa" stroke="none" stroke-width="1" opacity="0.5"/>
<circle cx="612" cy="95" r="2.3" fill="#aaaaaa" stroke="none" stroke-width="1" opacity="0.5"/>
<circle cx="620" cy="92" r="2.3" fill="#aaaaaa" stroke="none" stroke-width="1" opacity="0.5"/>
<circle cx="640" cy="93" r="2.3" fill="#aaaaaa" stroke="none" stroke-width="1" opacity="0.5"/>
<circle cx="654" cy="88" r="2.3" fill="#aaaaaa" stroke="none" stroke-width="1" opacity="0.5"/>
<circle cx="675" cy="135" r="2.3" fill="#aaaaaa" stroke="none" stroke-width="1" opacity="0.5"/>
<circle cx="683" cy="134" r="2.3" fill="#aaaaaa" stroke="none" stroke-width="1" opacity="0.5"/>
<circle cx="694" cy="125" r="2.3" fill="#aaaaaa" stroke="none" stroke-width="1" opacity="0.5"/>
<circle cx="596" cy="115" r="2.3" fill="#aaaaaa" stroke="none" stroke-width="1" opacity="0.5"/>
<circle cx="606" cy="111" r="2.3" fill="#aaaaaa" stroke="none" stroke-width="1" opacity="0.5"/>
<circle cx="637" cy="111" r="2.3" fill="#aaaaaa" stroke="none" stroke-width="1" opacity="0.5"/>
<circle cx="638" cy="139" r="2.3" fill="#aaaaaa" stroke="none" stroke-width="1" opacity="0.5"/>
<circle cx="650" cy="140" r="2.3" fill="#aaaaaa" stroke="none" stroke-width="1" opacity="0.5"/>
<circle cx="577" cy="127" r="2.3" fill="#aaaaaa" stroke="none" stroke-width="1" opacity="0.5"/>
<circle cx="579" cy="135" r="2.3" fill="#aaaaaa" stroke="none" stroke-width="1" opacity="0.5"/>
<circle cx="616" cy="142" r="2.3" fill="#aaaaaa" stroke="none" stroke-width="1" opacity="0.5"/>
<circle cx="628" cy="144" r="2.3" fill="#aaaaaa" stroke="none" stroke-width="1" opacity="0.5"/>
<circle cx="640" cy="145" r="2.3" fill="#aaaaaa" stroke="none" stroke-width="1" opacity="0.5"/>
<circle cx="587" cy="101" r="2.3" fill="#aaaaaa" stroke="none" stroke-width="1" opacity="0.5"/>
<circle cx="664" cy="112" r="2.3" fill="#aaaaaa" stroke="none" stroke-width="1" opacity="0.5"/>
<circle cx="610.2" cy="129.9" r="2.3" fill="#aaaaaa" stroke="none" stroke-width="1" opacity="0.7"/>
<circle cx="638.5" cy="116.5" r="2.3" fill="#aaaaaa" stroke="none" stroke-width="1" opacity="0.7"/>
<circle cx="608.2" cy="128.5" r="2.3" fill="#aaaaaa" stroke="none" stroke-width="1" opacity="0.7"/>
<circle cx="633.9" cy="125.6" r="2.3" fill="#aaaaaa" stroke="none" stroke-width="1" opacity="0.7"/>
<circle cx="608" cy="122.7" r="2.3" fill="#aaaaaa" stroke="none" stroke-width="1" opacity="0.7"/>
<circle cx="636.1" cy="122" r="2.3" fill="#aaaaaa" stroke="none" stroke-width="1" opacity="0.7"/>
<circle cx="647.8" cy="120.6" r="2.3" fill="#aaaaaa" stroke="none" stroke-width="1" opacity="0.7"/>
<circle cx="624.3" cy="122.3" r="2.3" fill="#aaaaaa" stroke="none" stroke-width="1" opacity="0.7"/>
<circle cx="659.8" cy="110.6" r="2.3" fill="#aaaaaa" stroke="none" stroke-width="1" opacity="0.7"/>
<circle cx="614" cy="121.5" r="2.3" fill="#aaaaaa" stroke="none" stroke-width="1" opacity="0.7"/>
<circle cx="627.5" cy="123.2" r="2.3" fill="#aaaaaa" stroke="none" stroke-width="1" opacity="0.7"/>
<circle cx="621.3" cy="124.2" r="2.3" fill="#aaaaaa" stroke="none" stroke-width="1" opacity="0.7"/>
<circle cx="630.6" cy="124.8" r="2.3" fill="#aaaaaa" stroke="none" stroke-width="1" opacity="0.7"/>
<circle cx="640.9" cy="119.2" r="2.3" fill="#aaaaaa" stroke="none" stroke-width="1" opacity="0.7"/>
<circle cx="603.1" cy="133.7" r="2.3" fill="#aaaaaa" stroke="none" stroke-width="1" opacity="0.7"/>
<circle cx="606.9" cy="128.4" r="2.3" fill="#aaaaaa" stroke="none" stroke-width="1" opacity="0.7"/>
<circle cx="606.4" cy="129.4" r="2.3" fill="#aaaaaa" stroke="none" stroke-width="1" opacity="0.7"/>
<circle cx="615.9" cy="127.3" r="2.3" fill="#aaaaaa" stroke="none" stroke-width="1" opacity="0.7"/>
<circle cx="669.9" cy="108.5" r="2.3" fill="#aaaaaa" stroke="none" stroke-width="1" opacity="0.7"/>
<circle cx="635.4" cy="113.7" r="2.3" fill="#aaaaaa" stroke="none" stroke-width="1" opacity="0.7"/>
<circle cx="623.1" cy="127.1" r="2.3" fill="#aaaaaa" stroke="none" stroke-width="1" opacity="0.7"/>
<circle cx="625.3" cy="125" r="2.3" fill="#aaaaaa" stroke="none" stroke-width="1" opacity="0.7"/>
<circle cx="626" cy="118.2" r="2.3" fill="#aaaaaa" stroke="none" stroke-width="1" opacity="0.7"/>
<circle cx="632.4" cy="117.1" r="2.3" fill="#aaaaaa" stroke="none" stroke-width="1" opacity="0.7"/>
<circle cx="650.2" cy="112.7" r="2.3" fill="#aaaaaa" stroke="none" stroke-width="1" opacity="0.7"/>
<circle cx="635.1" cy="120" r="2.3" fill="#aaaaaa" stroke="none" stroke-width="1" opacity="0.7"/>
<circle cx="637.8" cy="116.3" r="2.3" fill="#aaaaaa" stroke="none" stroke-width="1" opacity="0.7"/>
<circle cx="639.1" cy="118.1" r="2.3" fill="#aaaaaa" stroke="none" stroke-width="1" opacity="0.7"/>
<circle cx="643.7" cy="120.2" r="2.3" fill="#aaaaaa" stroke="none" stroke-width="1" opacity="0.7"/>
<circle cx="626.8" cy="119" r="2.3" fill="#aaaaaa" stroke="none" stroke-width="1" opacity="0.7"/>
<circle cx="636.9" cy="121.7" r="2.3" fill="#aaaaaa" stroke="none" stroke-width="1" opacity="0.7"/>
<circle cx="647.3" cy="114.3" r="2.3" fill="#aaaaaa" stroke="none" stroke-width="1" opacity="0.7"/>
<circle cx="634.1" cy="122.8" r="2.3" fill="#aaaaaa" stroke="none" stroke-width="1" opacity="0.7"/>
<circle cx="630.1" cy="122.7" r="2.3" fill="#aaaaaa" stroke="none" stroke-width="1" opacity="0.7"/>
<circle cx="627.6" cy="119.7" r="2.3" fill="#aaaaaa" stroke="none" stroke-width="1" opacity="0.7"/>
<circle cx="611.9" cy="125.7" r="2.3" fill="#aaaaaa" stroke="none" stroke-width="1" opacity="0.7"/>
<circle cx="636" cy="126.9" r="2.3" fill="#aaaaaa" stroke="none" stroke-width="1" opacity="0.7"/>
<circle cx="640.5" cy="123.3" r="2.3" fill="#aaaaaa" stroke="none" stroke-width="1" opacity="0.7"/>
<circle cx="637.3" cy="122.6" r="2.3" fill="#aaaaaa" stroke="none" stroke-width="1" opacity="0.7"/>
<circle cx="629.5" cy="125.5" r="2.3" fill="#aaaaaa" stroke="none" stroke-width="1" opacity="0.7"/>
<circle cx="649.2" cy="113.9" r="2.3" fill="#aaaaaa" stroke="none" stroke-width="1" opacity="0.7"/>
<circle cx="619.5" cy="134.4" r="2.3" fill="#aaaaaa" stroke="none" stroke-width="1" opacity="0.7"/>
<circle cx="630.6" cy="126.1" r="2.3" fill="#aaaaaa" stroke="none" stroke-width="1" opacity="0.7"/>
<circle cx="636.1" cy="114.4" r="2.3" fill="#aaaaaa" stroke="none" stroke-width="1" opacity="0.7"/>
<circle cx="660.9" cy="120.1" r="2.3" fill="#aaaaaa" stroke="none" stroke-width="1" opacity="0.7"/>
<circle cx="629.4" cy="125.5" r="2.3" fill="#aaaaaa" stroke="none" stroke-width="1" opacity="0.7"/>
<circle cx="626.5" cy="118.7" r="2.3" fill="#aaaaaa" stroke="none" stroke-width="1" opacity="0.7"/>
<circle cx="625" cy="125.1" r="2.3" fill="#aaaaaa" stroke="none" stroke-width="1" opacity="0.7"/>
<circle cx="641.8" cy="121.2" r="2.3" fill="#aaaaaa" stroke="none" stroke-width="1" opacity="0.7"/>
<circle cx="628.7" cy="128.5" r="2.3" fill="#aaaaaa" stroke="none" stroke-width="1" opacity="0.7"/>
<circle cx="617" cy="129.7" r="2.3" fill="#aaaaaa" stroke="none" stroke-width="1" opacity="0.7"/>
<circle cx="640.4" cy="116.9" r="2.3" fill="#aaaaaa" stroke="none" stroke-width="1" opacity="0.7"/>
<circle cx="600.9" cy="126.9" r="2.3" fill="#aaaaaa" stroke="none" stroke-width="1" opacity="0.7"/>
<circle cx="629.9" cy="124.2" r="2.3" fill="#aaaaaa" stroke="none" stroke-width="1" opacity="0.7"/>
<circle cx="645.2" cy="112" r="2.3" fill="#aaaaaa" stroke="none" stroke-width="1" opacity="0.7"/>
<circle cx="626.9" cy="125.8" r="2.3" fill="#aaaaaa" stroke="none" stroke-width="1" opacity="0.7"/>
<circle cx="620.6" cy="113.5" r="2.3" fill="#aaaaaa" stroke="none" stroke-width="1" opacity="0.7"/>
<circle cx="640" cy="129.4" r="2.3" fill="#aaaaaa" stroke="none" stroke-width="1" opacity="0.7"/>
<circle cx="638.1" cy="114.7" r="2.3" fill="#aaaaaa" stroke="none" stroke-width="1" opacity="0.7"/>
<circle cx="620.8" cy="125.7" r="2.3" fill="#aaaaaa" stroke="none" stroke-width="1" opacity="0.7"/>
<circle cx="660" cy="114.9" r="2.3" fill="#aaaaaa" stroke="none" stroke-width="1" opacity="0.7"/>
<circle cx="629.7" cy="129.2" r="2.3" fill="#aaaaaa" stroke="none" stroke-width="1" opacity="0.7"/>
<circle cx="627.5" cy="131.3" r="2.3" fill="#aaaaaa" stroke="none" stroke-width="1" opacity="0.7"/>
<circle cx="616.2" cy="123.9" r="2.3" fill="#aaaaaa" stroke="none" stroke-width="1" opacity="0.7"/>
<circle cx="637.6" cy="126" r="2.3" fill="#aaaaaa" stroke="none" stroke-width="1" opacity="0.7"/>
<circle cx="635.1" cy="121.5" r="2.3" fill="#aaaaaa" stroke="none" stroke-width="1" opacity="0.7"/>
<circle cx="600.8" cy="127.8" r="2.3" fill="#aaaaaa" stroke="none" stroke-width="1" opacity="0.7"/>
<circle cx="617.1" cy="123.4" r="2.3" fill="#aaaaaa" stroke="none" stroke-width="1" opacity="0.7"/>
<circle cx="633.3" cy="119" r="2.3" fill="#aaaaaa" stroke="none" stroke-width="1" opacity="0.7"/>
<circle cx="636.6" cy="119.9" r="2.3" fill="#aaaaaa" stroke="none" stroke-width="1" opacity="0.7"/>
<circle cx="621.7" cy="124.9" r="2.3" fill="#aaaaaa" stroke="none" stroke-width="1" opacity="0.7"/>
<circle cx="632.9" cy="124.8" r="2.3" fill="#aaaaaa" stroke="none" stroke-width="1" opacity="0.7"/>
<circle cx="619.3" cy="124.1" r="2.3" fill="#aaaaaa" stroke="none" stroke-width="1" opacity="0.7"/>
<circle cx="610.1" cy="135.8" r="2.3" fill="#aaaaaa" stroke="none" stroke-width="1" opacity="0.7"/>
<circle cx="645.1" cy="116" r="2.3" fill="#aaaaaa" stroke="none" stroke-width="1" opacity="0.7"/>
<circle cx="617.9" cy="119.8" r="2.3" fill="#aaaaaa" stroke="none" stroke-width="1" opacity="0.7"/>
<circle cx="628.5" cy="123.1" r="2.3" fill="#aaaaaa" stroke="none" stroke-width="1" opacity="0.7"/>
<circle cx="655.4" cy="114.6" r="2.3" fill="#aaaaaa" stroke="none" stroke-width="1" opacity="0.7"/>
<circle cx="612.2" cy="115.9" r="2.3" fill="#aaaaaa" stroke="none" stroke-width="1" opacity="0.7"/>
<circle cx="645" cy="117.7" r="2.3" fill="#aaaaaa" stroke="none" stroke-width="1" opacity="0.7"/>
<circle cx="604.8" cy="130.7" r="2.3" fill="#aaaaaa" stroke="none" stroke-width="1" opacity="0.7"/>
<circle cx="609.4" cy="144.9" r="2.3" fill="#aaaaaa" stroke="none" stroke-width="1" opacity="0.7"/>
<circle cx="641.7" cy="120.6" r="2.3" fill="#aaaaaa" stroke="none" stroke-width="1" opacity="0.7"/>
<circle cx="620.7" cy="114.6" r="2.3" fill="#aaaaaa" stroke="none" stroke-width="1" opacity="0.7"/>
<circle cx="622.2" cy="116.9" r="2.3" fill="#aaaaaa" stroke="none" stroke-width="1" opacity="0.7"/>
<circle cx="631" cy="111.3" r="2.3" fill="#aaaaaa" stroke="none" stroke-width="1" opacity="0.7"/>
<circle cx="615.6" cy="132.1" r="2.3" fill="#aaaaaa" stroke="none" stroke-width="1" opacity="0.7"/>
<circle cx="646.2" cy="110.8" r="2.3" fill="#aaaaaa" stroke="none" stroke-width="1" opacity="0.7"/>
<circle cx="606.8" cy="133.4" r="2.3" fill="#aaaaaa" stroke="none" stroke-width="1" opacity="0.7"/>
<circle cx="636" cy="115.1" r="2.3" fill="#aaaaaa" stroke="none" stroke-width="1" opacity="0.7"/>
<circle cx="615.8" cy="123" r="2.3" fill="#aaaaaa" stroke="none" stroke-width="1" opacity="0.7"/>
<circle cx="609.2" cy="125.2" r="2.3" fill="#aaaaaa" stroke="none" stroke-width="1" opacity="0.7"/>
<circle cx="643.6" cy="120.5" r="2.3" fill="#aaaaaa" stroke="none" stroke-width="1" opacity="0.7"/>
<circle cx="653.3" cy="113.7" r="2.3" fill="#aaaaaa" stroke="none" stroke-width="1" opacity="0.7"/>
<circle cx="622.8" cy="119.4" r="2.3" fill="#aaaaaa" stroke="none" stroke-width="1" opacity="0.7"/>
<circle cx="622.5" cy="117.9" r="2.3" fill="#aaaaaa" stroke="none" stroke-width="1" opacity="0.7"/>
<circle cx="603.3" cy="133.7" r="2.3" fill="#aaaaaa" stroke="none" stroke-width="1" opacity="0.7"/>
<circle cx="646.3" cy="120.4" r="2.3" fill="#aaaaaa" stroke="none" stroke-width="1" opacity="0.7"/>
<circle cx="644.1" cy="118.3" r="2.3" fill="#aaaaaa" stroke="none" stroke-width="1" opacity="0.7"/>
<circle cx="616.6" cy="126.5" r="2.3" fill="#aaaaaa" stroke="none" stroke-width="1" opacity="0.7"/>
<circle cx="619.5" cy="119.9" r="2.3" fill="#aaaaaa" stroke="none" stroke-width="1" opacity="0.7"/>
<circle cx="601.4" cy="124" r="2.3" fill="#aaaaaa" stroke="none" stroke-width="1" opacity="0.7"/>
<circle cx="626.1" cy="123.7" r="2.3" fill="#aaaaaa" stroke="none" stroke-width="1" opacity="0.7"/>
<circle cx="621.7" cy="131.2" r="2.3" fill="#aaaaaa" stroke="none" stroke-width="1" opacity="0.7"/>
<circle cx="629.2" cy="124.7" r="2.3" fill="#aaaaaa" stroke="none" stroke-width="1" opacity="0.7"/>
<circle cx="641.1" cy="114.2" r="2.3" fill="#aaaaaa" stroke="none" stroke-width="1" opacity="0.7"/>
<circle cx="600.8" cy="134.7" r="2.3" fill="#aaaaaa" stroke="none" stroke-width="1" opacity="0.7"/>
<circle cx="618.7" cy="131.6" r="2.3" fill="#aaaaaa" stroke="none" stroke-width="1" opacity="0.7"/>
<circle cx="631.9" cy="125.8" r="2.3" fill="#aaaaaa" stroke="none" stroke-width="1" opacity="0.7"/>
<circle cx="633.3" cy="110.8" r="2.3" fill="#aaaaaa" stroke="none" stroke-width="1" opacity="0.7"/>
<circle cx="562.4" cy="83.4" r="2.9" fill="#c5b0d5" stroke="none" stroke-width="1" />
<circle cx="566" cy="83" r="2.9" fill="#c5b0d5" stroke="none" stroke-width="1" />
<circle cx="571" cy="84" r="2.9" fill="#c5b0d5" stroke="none" stroke-width="1" />
<circle cx="617" cy="104.5" r="2.9" fill="#6a3d9a" stroke="none" stroke-width="1" />
<circle cx="619.5" cy="103" r="2.9" fill="#6a3d9a" stroke="none" stroke-width="1" />
<circle cx="621" cy="102" r="2.9" fill="#6a3d9a" stroke="none" stroke-width="1" />
<circle cx="623" cy="103.5" r="2.9" fill="#6a3d9a" stroke="none" stroke-width="1" />
<circle cx="625" cy="101.5" r="2.9" fill="#6a3d9a" stroke="none" stroke-width="1" />
<circle cx="627" cy="102.5" r="2.9" fill="#6a3d9a" stroke="none" stroke-width="1" />
<circle cx="629" cy="101" r="2.9" fill="#6a3d9a" stroke="none" stroke-width="1" />
<circle cx="631" cy="101.5" r="2.9" fill="#6a3d9a" stroke="none" stroke-width="1" />
<circle cx="633.5" cy="100.5" r="2.9" fill="#6a3d9a" stroke="none" stroke-width="1" />
<circle cx="620" cy="100" r="2.9" fill="#6a3d9a" stroke="none" stroke-width="1" />
<circle cx="538" cy="122.5" r="2.9" fill="#2ca02c" stroke="none" stroke-width="1" />
<circle cx="540" cy="121" r="2.9" fill="#2ca02c" stroke="none" stroke-width="1" />
<circle cx="542" cy="119.5" r="2.9" fill="#2ca02c" stroke="none" stroke-width="1" />
<circle cx="544" cy="118.5" r="2.9" fill="#2ca02c" stroke="none" stroke-width="1" />
<circle cx="581" cy="116.5" r="2.9" fill="#e3242b" stroke="none" stroke-width="1" />
<circle cx="584" cy="115.5" r="2.9" fill="#e3242b" stroke="none" stroke-width="1" />
<circle cx="587" cy="116" r="2.9" fill="#e3242b" stroke="none" stroke-width="1" />
<circle cx="589.5" cy="118.5" r="2.9" fill="#e3242b" stroke="none" stroke-width="1" />
<circle cx="585" cy="119" r="2.9" fill="#e3242b" stroke="none" stroke-width="1" />
<circle cx="583.6" cy="121.5" r="2.9" fill="#e3242b" stroke="none" stroke-width="1" />
<circle cx="583.6" cy="124" r="2.9" fill="#e3242b" stroke="none" stroke-width="1" />
<circle cx="608.8" cy="117.2" r="3.5" fill="#ff9896" stroke="none" stroke-width="1" />
<circle cx="607" cy="118.5" r="3.5" fill="#ff9896" stroke="none" stroke-width="1" />
<circle cx="591.5" cy="130" r="3.1" fill="#ff7f0e" stroke="none" stroke-width="1" />
<circle cx="594" cy="128.5" r="3.1" fill="#ff7f0e" stroke="none" stroke-width="1" />
<circle cx="597" cy="127" r="3.1" fill="#ff7f0e" stroke="none" stroke-width="1" />
<circle cx="600" cy="127.5" r="3.1" fill="#ff7f0e" stroke="none" stroke-width="1" />
<circle cx="602" cy="126.5" r="3.1" fill="#ff7f0e" stroke="none" stroke-width="1" />
<circle cx="604" cy="128" r="3.1" fill="#ff7f0e" stroke="none" stroke-width="1" />
<circle cx="634" cy="123" r="3.1" fill="#ff7f0e" stroke="none" stroke-width="1" />
<circle cx="637" cy="121.5" r="3.1" fill="#ff7f0e" stroke="none" stroke-width="1" />
<circle cx="640" cy="120" r="3.1" fill="#ff7f0e" stroke="none" stroke-width="1" />
<circle cx="643" cy="118.5" r="3.1" fill="#ff7f0e" stroke="none" stroke-width="1" />
<circle cx="646" cy="117.5" r="3.1" fill="#ff7f0e" stroke="none" stroke-width="1" />
<circle cx="649" cy="118.5" r="3.1" fill="#ff7f0e" stroke="none" stroke-width="1" />
<circle cx="652" cy="119" r="3.1" fill="#ff7f0e" stroke="none" stroke-width="1" />
<circle cx="654" cy="120" r="3.1" fill="#ff7f0e" stroke="none" stroke-width="1" />
<circle cx="605.7" cy="128" r="3.3" fill="#ffbb78" stroke="none" stroke-width="1" />
<circle cx="608" cy="130" r="3.3" fill="#ffbb78" stroke="none" stroke-width="1" />
<circle cx="611" cy="131.5" r="3.3" fill="#ffbb78" stroke="none" stroke-width="1" />
<circle cx="614" cy="132" r="3.3" fill="#ffbb78" stroke="none" stroke-width="1" />
<circle cx="617" cy="131" r="3.3" fill="#ffbb78" stroke="none" stroke-width="1" />
<circle cx="618" cy="128.5" r="3.3" fill="#ffbb78" stroke="none" stroke-width="1" />
<circle cx="629.3" cy="118.8" r="3.3" fill="#ffbb78" stroke="none" stroke-width="1" />
<circle cx="631" cy="117" r="3.3" fill="#ffbb78" stroke="none" stroke-width="1" />
<circle cx="629.5" cy="131.5" r="3.3" fill="#ff9896" stroke="none" stroke-width="1" />
<circle cx="632" cy="133.5" r="3.3" fill="#ff9896" stroke="none" stroke-width="1" />
<ellipse cx="657" cy="131.8" rx="4.6" ry="3.6" fill="#e3242b"/>
<circle cx="700" cy="134" r="2.9" fill="#2ca02c" stroke="none" stroke-width="1" />
<circle cx="703" cy="131.5" r="2.9" fill="#2ca02c" stroke="none" stroke-width="1" />
<circle cx="705" cy="130.5" r="2.9" fill="#2ca02c" stroke="none" stroke-width="1" />
<circle cx="714" cy="131.4" r="2.9" fill="#2ca02c" stroke="none" stroke-width="1" />
<circle cx="601" cy="152.5" r="2.9" fill="#6a3d9a" stroke="none" stroke-width="1" />
<circle cx="603.5" cy="151.5" r="2.9" fill="#6a3d9a" stroke="none" stroke-width="1" />
<circle cx="606" cy="150.5" r="2.9" fill="#6a3d9a" stroke="none" stroke-width="1" />
<circle cx="608" cy="149.3" r="2.9" fill="#6a3d9a" stroke="none" stroke-width="1" />
<circle cx="610.5" cy="148.5" r="2.9" fill="#6a3d9a" stroke="none" stroke-width="1" />
<circle cx="613" cy="148" r="2.9" fill="#6a3d9a" stroke="none" stroke-width="1" />
<circle cx="616" cy="147" r="2.9" fill="#6a3d9a" stroke="none" stroke-width="1" />
<circle cx="619" cy="147.5" r="2.9" fill="#6a3d9a" stroke="none" stroke-width="1" />
<circle cx="594.6" cy="155" r="3.1" fill="#1f77b4" stroke="none" stroke-width="1" />
<circle cx="667" cy="166.5" r="2.9" fill="#c5b0d5" stroke="none" stroke-width="1" />
<circle cx="672" cy="166" r="2.9" fill="#c5b0d5" stroke="none" stroke-width="1" />
<circle cx="677" cy="165.5" r="2.9" fill="#c5b0d5" stroke="none" stroke-width="1" />
<circle cx="683" cy="166.5" r="2.9" fill="#c5b0d5" stroke="none" stroke-width="1" />
<circle cx="675" cy="164" r="2.9" fill="#c5b0d5" stroke="none" stroke-width="1" />
<ellipse cx="645.8" cy="96" rx="4.6" ry="3.4" fill="#1f77b4"/>
<line x1="566.1" y1="543.6" x2="561.6" y2="545.3" stroke="#3a3a3a" stroke-width="1.1" />
<line x1="637.7" y1="548.2" x2="640.7" y2="550.2" stroke="#3a3a3a" stroke-width="1.1" />
<line x1="517.2" y1="511.8" x2="512.7" y2="513.5" stroke="#3a3a3a" stroke-width="1.1" />
<line x1="701.4" y1="523.7" x2="704.4" y2="525.7" stroke="#3a3a3a" stroke-width="1.1" />
<line x1="468.2" y1="480.1" x2="463.7" y2="481.8" stroke="#3a3a3a" stroke-width="1.1" />
<line x1="765.2" y1="499.2" x2="768.2" y2="501.2" stroke="#3a3a3a" stroke-width="1.1" />
<text x="448.2" y="498.3" font-size="16.2" fill="#1f1f2b" text-anchor="middle" font-weight="normal" >50</text>
<text x="501.5" y="527.8" font-size="16.2" fill="#1f1f2b" text-anchor="middle" font-weight="normal" >0</text>
<text x="540.5" y="560.8" font-size="16.2" fill="#1f1f2b" text-anchor="middle" font-weight="normal" >−50</text>
<text x="657" y="570" font-size="16.2" fill="#1f1f2b" text-anchor="middle" font-weight="normal" >−50</text>
<text x="716.4" y="543.8" font-size="16.2" fill="#1f1f2b" text-anchor="middle" font-weight="normal" >0</text>
<text x="784.8" y="521.1" font-size="16.2" fill="#1f1f2b" text-anchor="middle" font-weight="normal" >50</text>
<text transform="translate(440.5,535.5) rotate(31.8)" font-size="18.5" fill="#1f1f2b">Δ<tspan font-style="italic">f</tspan><tspan font-size="12" dy="4.5" font-style="italic">//</tspan><tspan dy="-4.5"> (MHz)</tspan></text>
<text transform="translate(698,583.5) rotate(-21.5)" font-size="19.2" fill="#1f1f2b">Δf<tspan font-size="12" dy="4.5">⊥</tspan><tspan dy="-4.5"> (MHz)</tspan></text>
<line x1="584.1" y1="124.7" x2="584.1" y2="300.8" stroke="#e3242b" stroke-width="2.4" stroke-dasharray="7 4.5"/>
<line x1="584.5" y1="300.8" x2="644.9" y2="442.3" stroke="#e3242b" stroke-width="2.4" stroke-dasharray="7 4.5"/>
<line x1="656.8" y1="136.8" x2="656.8" y2="297" stroke="#e3242b" stroke-width="2.4" stroke-dasharray="7 4.5"/>
<line x1="656.2" y1="297" x2="590.2" y2="506.4" stroke="#e3242b" stroke-width="2.4" stroke-dasharray="7 4.5"/>
<polyline points="494,64 527,64 561,83.6" stroke="#c5b0d5" stroke-width="2" fill="none" />
<polyline points="494,103.9 510.9,103.9 539.2,121.4" stroke="#2ca02c" stroke-width="2" fill="none" />
<polyline points="494,142 587.6,142 606.6,129.9" stroke="#ffbb78" stroke-width="2" fill="none" />
<polyline points="494,181.8 537.4,181.8 596.2,157.6" stroke="#6a3d9a" stroke-width="2" fill="none" />
<polyline points="741.7,64 726,64 647.4,95.2" stroke="#1f77b4" stroke-width="2" fill="none" />
<polyline points="741.7,103.9 689.1,103.9 654.5,117.2" stroke="#ff7f0e" stroke-width="2" fill="none" />
<polyline points="741.7,142 672.6,142 664,137" stroke="#e3242b" stroke-width="2" fill="none" />
<polyline points="741.7,181.8 705.3,181.8 640.3,139.3" stroke="#ff9896" stroke-width="2" fill="none" />
<text x="466.1" y="70" font-size="18" fill="#c5b0d5" text-anchor="start" font-weight="normal" stroke="white" stroke-width="3" paint-order="stroke">p5</text>
<text x="466.1" y="109.3" font-size="18" fill="#2ca02c" text-anchor="start" font-weight="normal" stroke="white" stroke-width="3" paint-order="stroke">p2</text>
<text x="466.1" y="148" font-size="18" fill="#ffbb78" text-anchor="start" font-weight="normal" stroke="white" stroke-width="3" paint-order="stroke">p8</text>
<text x="466.1" y="187.2" font-size="18" fill="#6a3d9a" text-anchor="start" font-weight="normal" stroke="white" stroke-width="3" paint-order="stroke">p1</text>
<text x="751.5" y="70" font-size="18" fill="#1f77b4" text-anchor="start" font-weight="normal" stroke="white" stroke-width="3" paint-order="stroke">p14</text>
<text x="751.5" y="109" font-size="18" fill="#ff7f0e" text-anchor="start" font-weight="normal" stroke="white" stroke-width="3" paint-order="stroke">p4</text>
<text x="751.5" y="146.8" font-size="18" fill="#e3242b" text-anchor="start" font-weight="normal" stroke="white" stroke-width="3" paint-order="stroke">p3</text>
<text x="751.5" y="186.6" font-size="18" fill="#ff9896" text-anchor="start" font-weight="normal" stroke="white" stroke-width="3" paint-order="stroke">p7</text>
<text x="551.2" y="50" font-size="18" fill="#1f77b4" text-anchor="start" font-weight="normal" >NV1</text>
<text x="500.5" y="244.3" font-size="18" fill="#ff7f0e" text-anchor="start" font-weight="normal" >NV2</text>
<text x="497.8" y="418.9" font-size="18" fill="#2ca02c" text-anchor="start" font-weight="normal" >NV3</text></g>
<g id="pd"><g transform="matrix(146.8,10.4,20.2,-61.1,1019.1,144)">
<circle cx="0" cy="0" r="0.1429" fill="none" stroke="#d3d3d3" stroke-width="1.4" vector-effect="non-scaling-stroke"/>
<circle cx="0" cy="0" r="0.2857" fill="none" stroke="#d3d3d3" stroke-width="1.4" vector-effect="non-scaling-stroke"/>
<circle cx="0" cy="0" r="0.4286" fill="none" stroke="#d3d3d3" stroke-width="1.4" vector-effect="non-scaling-stroke"/>
<circle cx="0" cy="0" r="0.5714" fill="none" stroke="#d3d3d3" stroke-width="1.4" vector-effect="non-scaling-stroke"/>
<circle cx="0" cy="0" r="0.7143" fill="none" stroke="#d3d3d3" stroke-width="1.4" vector-effect="non-scaling-stroke"/>
<circle cx="0" cy="0" r="0.8571" fill="none" stroke="#d3d3d3" stroke-width="1.4" vector-effect="non-scaling-stroke"/>
<line x1="0" y1="0" x2="1.0000" y2="0.0000" stroke="#d3d3d3" stroke-width="1.4" vector-effect="non-scaling-stroke"/>
<line x1="0" y1="0" x2="0.7071" y2="0.7071" stroke="#d3d3d3" stroke-width="1.4" vector-effect="non-scaling-stroke"/>
<line x1="0" y1="0" x2="0.0000" y2="1.0000" stroke="#d3d3d3" stroke-width="1.4" vector-effect="non-scaling-stroke"/>
<line x1="0" y1="0" x2="-0.7071" y2="0.7071" stroke="#d3d3d3" stroke-width="1.4" vector-effect="non-scaling-stroke"/>
<line x1="0" y1="0" x2="-1.0000" y2="0.0000" stroke="#d3d3d3" stroke-width="1.4" vector-effect="non-scaling-stroke"/>
<line x1="0" y1="0" x2="-0.7071" y2="-0.7071" stroke="#d3d3d3" stroke-width="1.4" vector-effect="non-scaling-stroke"/>
<line x1="0" y1="0" x2="-0.0000" y2="-1.0000" stroke="#d3d3d3" stroke-width="1.4" vector-effect="non-scaling-stroke"/>
<line x1="0" y1="0" x2="0.7071" y2="-0.7071" stroke="#d3d3d3" stroke-width="1.4" vector-effect="non-scaling-stroke"/>
</g>
<path d="M1049.3,145.4 C1048.4,147 1048.4,149.8 1043.7,154.8 C1039,159.8 1030.8,169.9 1021,175.6 C1011.2,181.3 997.3,187.2 985,188.8 C972.7,190.4 958,189.4 947.3,185 C936.6,180.6 925.8,169.6 920.8,162.4 C915.8,155.2 917.6,145.1 917,141.6" fill="none" stroke="#c9def0" stroke-width="1.5" />
<path d="M1104.5,149 C1103.7,151.5 1102.5,159.4 1099.5,163.8 C1096.5,168.2 1092,172.5 1086.8,175.2 C1081.6,177.9 1074.2,179.9 1068.3,180.1 C1062.4,180.3 1056,178.1 1051.3,176.6 C1046.6,175.1 1043.9,173.8 1040,171 C1036.1,168.2 1030,161.8 1028,160" fill="none" stroke="#fddcc0" stroke-width="1.5" />
<path d="M990.7,199.2 C990.7,197.7 990,194.5 990.5,190 C991,185.5 992.2,177.7 994,172 C995.8,166.3 999.8,158.7 1001,156" fill="none" stroke="#c5e5c0" stroke-width="1.5" />
<path d="M920.5,157 C920.8,153.8 921.2,144.7 922.5,138 C923.8,131.3 924.3,125.2 928.4,117 C932.5,108.8 941,96.6 947.3,88.8 C953.6,81 959.9,75 966.2,70 C972.5,65 977.1,62 985,58.6 C992.9,55.2 1003.9,51.2 1013.4,49.5 C1022.9,47.8 1032.7,47.5 1041.8,48.2 C1050.9,48.9 1063.8,53 1068.2,53.9" fill="none" stroke="#d6d6d6" stroke-width="1.4" />
<g transform="matrix(146.8,10.4,20.2,-61.1,1019.1,144)"><circle cx="0" cy="0" r="1" fill="none" stroke="#111" stroke-width="2.2" vector-effect="non-scaling-stroke"/></g>
<path d="M918.4,142.2 C917.8,138.5 914.5,130.2 914.6,120 C914.7,109.8 916,92.2 918.9,81.3 C921.8,70.4 926.4,62.7 932.1,54.8 C937.8,46.9 945,39.4 952.9,34 C960.8,28.7 970.9,25 979.4,22.7 C987.9,20.4 995.8,20 1004,20.4 C1012.2,20.8 1020.8,22.6 1028.5,25.2 C1036.2,27.8 1044.2,32.4 1050,36 C1055.8,39.6 1060,44.1 1063,47 C1066,49.9 1066.2,49.5 1068.2,53.5 C1070.2,57.5 1073.3,64.8 1074.7,71.2 C1076.1,77.6 1076.7,84.6 1076.5,92 C1076.3,99.4 1075.7,108.5 1073.4,115.4 C1071.2,122.3 1067.1,128.5 1063,133.6 C1058.9,138.7 1051.1,143.8 1048.7,145.9" fill="none" stroke="#1f77b4" stroke-width="1.9" />
<path d="M1006.3,130.5 C1004.9,128.4 1000.2,123.1 998,118 C995.8,112.9 993.7,106.3 992.8,99.8 C991.9,93.3 991.5,86.4 992.8,79 C994.1,71.6 996.7,61.2 1000.6,55.6 C1004.5,50 1010.1,47.3 1016.2,45.2 C1022.3,43.1 1030.1,42.9 1037,43.1 C1043.9,43.3 1052.6,44.8 1057.8,46.5 C1063,48.2 1063,49.6 1068.2,53.3 C1073.4,57 1083.5,62.5 1089,68.6 C1094.5,74.7 1097.9,82.8 1101,90 C1104.1,97.2 1106.2,105.3 1107.5,112 C1108.8,118.7 1109,123.8 1108.5,130 C1108,136.2 1105.2,145.8 1104.5,149" fill="none" stroke="#ff7f0e" stroke-width="1.9" />
<path d="M1001.1,153.9 C1004.9,147.5 1016.7,127 1024,115.4 C1031.3,103.8 1038.3,93.7 1044.8,84.2 C1051.3,74.7 1059.1,63.4 1063,58.2 C1066.9,53 1066,54.8 1068.2,53 C1070.4,51.2 1073.8,48.4 1076,47.3 C1078.2,46.2 1080.4,45.7 1081.7,46.5 C1083,47.3 1083.6,49.2 1083.6,52 C1083.6,54.8 1082.3,59.2 1081.5,63 C1080.7,66.8 1080.4,68.9 1078.6,75 C1076.8,81.1 1074.3,91.3 1070.8,99.8 C1067.3,108.3 1063.4,116.3 1057.8,125.8 C1052.2,135.3 1044.8,147 1037,157 C1029.2,167 1018.7,178.6 1011,185.6 C1003.3,192.6 994.1,196.9 990.7,199.2" fill="none" stroke="#2ca02c" stroke-width="1.9" />
<polygon points="1006.8,130.2 1049.3,145.4 1000.8,154.4" stroke="#6a3d9a" stroke-width="1.9" fill="#b7a2d4" fill-opacity="0.75" stroke-linejoin="round"/>
<circle cx="1006.8" cy="130.2" r="3.6" fill="#ff7f0e" stroke="none" stroke-width="1" />
<circle cx="1049.3" cy="145.4" r="3.6" fill="#1f77b4" stroke="none" stroke-width="1" />
<circle cx="1000.8" cy="154.4" r="3.8" fill="#2ca02c" stroke="none" stroke-width="1" />
<line x1="1018.6" y1="144.5" x2="1061.5" y2="64.5" stroke="#111" stroke-width="2" />
<polygon points="1065,58.2 1063.9,67.8 1061.8,64.2 1057.6,64.4" stroke="none" stroke-width="1" fill="#111" />
<path d="M1119.5,131 C1119.2,126.5 1119.7,111.5 1117.7,103.7 C1115.8,95.9 1112.4,90.5 1107.8,83.9 C1103.2,77.3 1095.2,68.4 1090.2,64.1 C1085.2,59.7 1080,58.8 1078,57.8" fill="none" stroke="#111" stroke-width="2" />
<polygon points="1073.5,55.8 1083.2,56.1 1079.7,58.5 1080.3,62.7" stroke="none" stroke-width="1" fill="#111" />
<path d="M1123.6,152.5 C1123.5,150.9 1123.6,145.8 1123.2,143 C1122.8,140.2 1121.4,137.2 1121,136" fill="none" stroke="#111" stroke-width="2" />
<polygon points="1120,128.5 1125.1,136.1 1121.3,134.7 1118.4,137.5" stroke="none" stroke-width="1" fill="#111" />
<circle cx="1068.2" cy="53.9" r="3.6" fill="#e3242b" stroke="none" stroke-width="1" />
<text x="978.5" y="15.8" font-size="15" fill="#1f77b4" text-anchor="start" font-weight="normal" >Isoline</text>
<text x="1061.7" y="39.3" font-size="15" fill="#e3242b" text-anchor="start" font-weight="normal" >Defect</text>
<text x="952.5" y="137.1" font-size="14.5" fill="#7b56ad" text-anchor="start" font-weight="normal" >3-NV</text>
<text x="949.3" y="151" font-size="14.5" fill="#7b56ad" text-anchor="start" font-weight="normal" >sensor</text>
<text x="1043" y="115" font-size="15" fill="#2a2a35" text-anchor="start" font-weight="normal" >r</text>
<text x="1106" y="80" font-size="13.5" fill="#2a2a35" text-anchor="start" font-weight="normal" font-style="italic" >θ</text>
<text x="1128.5" y="143.5" font-size="17" fill="#2a2a35" text-anchor="start" font-weight="normal" font-style="italic" >ϕ</text>
<text x="919.8" y="88" font-size="13" fill="#2a2a35" text-anchor="start" font-weight="normal" >135°</text>
<text x="1029.1" y="77.2" font-size="13" fill="#2a2a35" text-anchor="start" font-weight="normal" >90°</text>
<text x="1143.2" y="109" font-size="13" fill="#2a2a35" text-anchor="start" font-weight="normal" >45°</text>
<text x="1170.3" y="160.5" font-size="13" fill="#2a2a35" text-anchor="start" font-weight="normal" >0°</text>
<text x="855.3" y="137" font-size="13" fill="#2a2a35" text-anchor="start" font-weight="normal" >0°</text>
<text x="869.8" y="193" font-size="13" fill="#2a2a35" text-anchor="start" font-weight="normal" >225°</text>
<text x="980.3" y="219" font-size="13" fill="#2a2a35" text-anchor="start" font-weight="normal" >270°</text>
<text x="1099.7" y="208.5" font-size="13" fill="#2a2a35" text-anchor="start" font-weight="normal" >315°</text></g>
<g id="pe"><circle cx="1015" cy="410.2" r="44.9" fill="none" stroke="#dcdcdc" stroke-width="1.3" />
<circle cx="1015" cy="410.2" r="89.7" fill="none" stroke="#dcdcdc" stroke-width="1.3" />
<circle cx="1015" cy="410.2" r="134.6" fill="none" stroke="#dcdcdc" stroke-width="1.3" />
<line x1="858" y1="410.2" x2="1172" y2="410.2" stroke="#dcdcdc" stroke-width="1.3" />
<line x1="904" y1="521.2" x2="1126" y2="299.2" stroke="#dcdcdc" stroke-width="1.3" />
<line x1="1015" y1="567.2" x2="1015" y2="253.2" stroke="#dcdcdc" stroke-width="1.3" />
<line x1="1126" y1="521.2" x2="904" y2="299.2" stroke="#dcdcdc" stroke-width="1.3" />
<circle cx="1015" cy="410.2" r="157" fill="none" stroke="#1a1a1a" stroke-width="1.8" />
<circle cx="1003.1" cy="301.5" r="9.3" fill="white" stroke="#d4d4d4" stroke-width="1.2" />
<circle cx="933.6" cy="340.7" r="8.5" fill="white" stroke="#d4d4d4" stroke-width="1.2" />
<circle cx="932.2" cy="415.6" r="8.5" fill="white" stroke="#d4d4d4" stroke-width="1.2" />
<circle cx="992.3" cy="484.2" r="8.5" fill="white" stroke="#d4d4d4" stroke-width="1.2" />
<circle cx="1062.5" cy="394.6" r="8.5" fill="white" stroke="#d4d4d4" stroke-width="1.2" />
<circle cx="1078.1" cy="417" r="8" fill="white" stroke="#d4d4d4" stroke-width="1.2" />
<circle cx="974.7" cy="369.9" r="10.5" fill="white" stroke="#d4d4d4" stroke-width="1.2" />
<circle cx="974.7" cy="369.9" r="8.5" fill="none" stroke="#d4d4d4" stroke-width="1.2" />
<circle cx="937.8" cy="434" r="10.5" fill="white" stroke="#d4d4d4" stroke-width="1.2" />
<circle cx="937.8" cy="434" r="8.5" fill="none" stroke="#d4d4d4" stroke-width="1.2" />
<circle cx="1005.9" cy="464.7" r="10.5" fill="white" stroke="#d4d4d4" stroke-width="1.2" />
<circle cx="1005.9" cy="464.7" r="8.5" fill="none" stroke="#d4d4d4" stroke-width="1.2" />
<circle cx="1092.3" cy="467.2" r="10.5" fill="white" stroke="#d4d4d4" stroke-width="1.2" />
<circle cx="1092.3" cy="467.2" r="8.5" fill="none" stroke="#d4d4d4" stroke-width="1.2" />
<ellipse cx="965.2" cy="274.6" rx="18" ry="4.8" transform="rotate(0 965.2 274.6)" fill="url(#redblob)" opacity="1" filter="url(#blur06)"/>
<ellipse cx="1056.5" cy="273.8" rx="22.5" ry="7.2" transform="rotate(12 1056.5 273.8)" fill="url(#redblob)" opacity="1" filter="url(#blur06)"/>
<ellipse cx="1003.1" cy="301.5" rx="9" ry="3.2" transform="rotate(3 1003.1 301.5)" fill="url(#redblob)" opacity="1" filter="url(#blur06)"/>
<ellipse cx="1057" cy="305" rx="6.8" ry="3.2" transform="rotate(40 1057 305)" fill="url(#redblob)" opacity="1" filter="url(#blur06)"/>
<ellipse cx="933.6" cy="340.7" rx="6.8" ry="3.2" transform="rotate(-35 933.6 340.7)" fill="url(#redblob)" opacity="1" filter="url(#blur06)"/>
<ellipse cx="974.7" cy="369.9" rx="9" ry="2.2" transform="rotate(0 974.7 369.9)" fill="url(#redblob)" opacity="1" filter="url(#blur06)"/>
<ellipse cx="903.8" cy="397.4" rx="11.2" ry="4.5" transform="rotate(-70 903.8 397.4)" fill="url(#redblob)" opacity="1" filter="url(#blur06)"/>
<ellipse cx="932.2" cy="415.6" rx="2.7" ry="7.2" transform="rotate(0 932.2 415.6)" fill="url(#redblob)" opacity="1" filter="url(#blur06)"/>
<ellipse cx="937.8" cy="434" rx="3" ry="9.6" transform="rotate(0 937.8 434)" fill="url(#redblob)" opacity="1" filter="url(#blur06)"/>
<ellipse cx="1005.9" cy="464.7" rx="8.2" ry="2.4" transform="rotate(-45 1005.9 464.7)" fill="url(#redblob)" opacity="1" filter="url(#blur06)"/>
<ellipse cx="992.3" cy="484.2" rx="7.5" ry="3.5" transform="rotate(25 992.3 484.2)" fill="url(#redblob)" opacity="1" filter="url(#blur06)"/>
<ellipse cx="1062.5" cy="394.6" rx="2.7" ry="7.2" transform="rotate(-10 1062.5 394.6)" fill="url(#redblob)" opacity="1" filter="url(#blur06)"/>
<ellipse cx="1078.1" cy="417" rx="7.5" ry="2.9" transform="rotate(-20 1078.1 417)" fill="url(#redblob)" opacity="1" filter="url(#blur06)"/>
<ellipse cx="1122" cy="405.7" rx="6.8" ry="2.9" transform="rotate(35 1122 405.7)" fill="url(#redblob)" opacity="1" filter="url(#blur06)"/>
<ellipse cx="1159.8" cy="389.8" rx="4.7" ry="12.2" transform="rotate(-18 1159.8 389.8)" fill="url(#redblob)" opacity="1" filter="url(#blur06)"/>
<ellipse cx="1092.3" cy="467.2" rx="9.8" ry="2.9" transform="rotate(-35 1092.3 467.2)" fill="url(#redblob)" opacity="1" filter="url(#blur06)"/>
<polygon points="996.3,380.1 1047.7,410.1 1000.7,440.3" stroke="#6a3d9a" stroke-width="1.6" fill="#a58cc8" fill-opacity="0.65" stroke-linejoin="round"/>
<circle cx="996.3" cy="380.1" r="2.8" fill="#ff7f0e" stroke="none" stroke-width="1" />
<circle cx="1047.7" cy="410.1" r="2.8" fill="#1f77b4" stroke="none" stroke-width="1" />
<circle cx="1000.7" cy="440.3" r="2.8" fill="#2ca02c" stroke="none" stroke-width="1" />
<line x1="974.7" y1="350.6" x2="974.7" y2="367.3" stroke="#111" stroke-width="1.6" />
<polygon points="974.7,367.3 972.1,361.8 974.7,364 977.3,361.8" stroke="none" stroke-width="1" fill="#111" />
<line x1="974.7" y1="388.9" x2="974.7" y2="372.6" stroke="#111" stroke-width="1.6" />
<polygon points="974.7,372.6 977.3,378.1 974.7,375.9 972.1,378.1" stroke="none" stroke-width="1" fill="#111" />
<line x1="916.6" y1="434" x2="934.2" y2="434" stroke="#111" stroke-width="1.6" />
<polygon points="934.2,434 928.7,436.6 930.9,434 928.7,431.4" stroke="none" stroke-width="1" fill="#111" />
<line x1="960.5" y1="434" x2="941.6" y2="434" stroke="#111" stroke-width="1.6" />
<polygon points="941.6,434 947.1,431.4 944.9,434 947.1,436.6" stroke="none" stroke-width="1" fill="#111" />
<line x1="991.7" y1="451" x2="1003.4" y2="462" stroke="#111" stroke-width="1.6" />
<polygon points="1003.4,462 997.6,460.1 1001,459.7 1001.2,456.3" stroke="none" stroke-width="1" fill="#111" />
<line x1="1020.1" y1="478" x2="1008.6" y2="467.4" stroke="#111" stroke-width="1.6" />
<polygon points="1008.6,467.4 1014.4,469.2 1011,469.6 1010.9,473" stroke="none" stroke-width="1" fill="#111" />
<line x1="1079.5" y1="451.6" x2="1090.3" y2="463.8" stroke="#111" stroke-width="1.6" />
<polygon points="1090.3,463.8 1084.7,461.4 1088.1,461.3 1088.6,458" stroke="none" stroke-width="1" fill="#111" />
<line x1="1105.9" y1="484.5" x2="1094.7" y2="471" stroke="#111" stroke-width="1.6" />
<polygon points="1094.7,471 1100.2,473.6 1096.8,473.5 1096.2,476.9" stroke="none" stroke-width="1" fill="#111" />
<text x="965.6" y="270.6" font-size="11.5" fill="#2a2a35" text-anchor="middle" font-weight="normal" >p9</text>
<text x="1057" y="269.9" font-size="11.5" fill="#2a2a35" text-anchor="middle" font-weight="normal" >p8</text>
<text x="1000.2" y="291.8" font-size="11.5" fill="#2a2a35" text-anchor="middle" font-weight="normal" >p<tspan dx="-0.5" letter-spacing="-1.5">1</tspan><tspan dx="-0.5" letter-spacing="-1.5">1</tspan></text>
<text x="1057.3" y="298.5" font-size="11.5" fill="#2a2a35" text-anchor="middle" font-weight="normal" >p<tspan dx="-0.5" letter-spacing="-1.5">1</tspan>0</text>
<text x="934.3" y="329.1" font-size="11.5" fill="#2a2a35" text-anchor="middle" font-weight="normal" >p6</text>
<text x="962" y="358.9" font-size="11.5" fill="#2a2a35" text-anchor="middle" font-weight="normal" >p<tspan dx="-0.5" letter-spacing="-1.5">1</tspan></text>
<text x="903.1" y="384.4" font-size="11.5" fill="#2a2a35" text-anchor="middle" font-weight="normal" >p<tspan dx="-0.5" letter-spacing="-1.5">1</tspan>5</text>
<text x="931.5" y="403.4" font-size="11.5" fill="#2a2a35" text-anchor="middle" font-weight="normal" >p<tspan dx="-0.5" letter-spacing="-1.5">1</tspan>3</text>
<text x="955.6" y="425.3" font-size="11.5" fill="#2a2a35" text-anchor="middle" font-weight="normal" >p7</text>
<text x="1016.6" y="452.2" font-size="11.5" fill="#2a2a35" text-anchor="middle" font-weight="normal" >p4</text>
<text x="994.6" y="505.5" font-size="11.5" fill="#2a2a35" text-anchor="middle" font-weight="normal" >p3</text>
<text x="1062.4" y="384.4" font-size="11.5" fill="#2a2a35" text-anchor="middle" font-weight="normal" >p2</text>
<text x="1078.3" y="408.5" font-size="11.5" fill="#2a2a35" text-anchor="middle" font-weight="normal" >p5</text>
<text x="1120.3" y="402.8" font-size="11.5" fill="#2a2a35" text-anchor="middle" font-weight="normal" >p<tspan dx="-0.5" letter-spacing="-1.5">1</tspan>2</text>
<text x="1155.6" y="377.3" font-size="11.5" fill="#2a2a35" text-anchor="middle" font-weight="normal" >p<tspan dx="-0.5" letter-spacing="-1.5">1</tspan>6</text>
<text x="1095.1" y="452.2" font-size="11.5" fill="#2a2a35" text-anchor="middle" font-weight="normal" >p<tspan dx="-0.5" letter-spacing="-1.5">1</tspan>4</text>
<text x="978.1" y="358.9" font-size="11.5" fill="#2a2a35" text-anchor="start" font-weight="normal" ><tspan dx="-1" letter-spacing="-1.2">1</tspan>.7 nm</text>
<text x="939.5" y="454.5" font-size="11.5" fill="#2a2a35" text-anchor="middle" font-weight="normal" >3.3 nm</text>
<text x="1020.1" y="473.6" font-size="11.5" fill="#2a2a35" text-anchor="start" font-weight="normal" >2.0 nm</text>
<text x="1105" y="481.1" font-size="11.5" fill="#2a2a35" text-anchor="start" font-weight="normal" >2.9 nm</text>
<text x="1016.4" y="248" font-size="11.5" fill="#2a2a35" text-anchor="middle" font-weight="normal" >90°</text>
<text x="1135.1" y="295.9" font-size="11.5" fill="#2a2a35" text-anchor="middle" font-weight="normal" >45°</text>
<text x="894.6" y="295.9" font-size="11.5" fill="#2a2a35" text-anchor="middle" font-weight="normal" ><tspan letter-spacing="-1.5">1</tspan>35°</text>
<text x="841.4" y="414" font-size="11.5" fill="#2a2a35" text-anchor="middle" font-weight="normal" ><tspan letter-spacing="-1.5">1</tspan>80°</text>
<text x="1175.9" y="414.8" font-size="11.5" fill="#2a2a35" text-anchor="start" font-weight="normal" >0°<tspan dx="5">ϕ</tspan></text>
<text x="894.6" y="533.8" font-size="11.5" fill="#2a2a35" text-anchor="middle" font-weight="normal" >225°</text>
<text x="1016.5" y="580.4" font-size="11.5" fill="#2a2a35" text-anchor="middle" font-weight="normal" >270°</text>
<text x="1135.7" y="533.8" font-size="11.5" fill="#2a2a35" text-anchor="middle" font-weight="normal" >3<tspan letter-spacing="-1.5">1</tspan>5°</text>
<text x="874.9" y="583.5" font-size="10.9" fill="#2a2a35" text-anchor="start" font-weight="normal" >Magnification</text>
<circle cx="888.6" cy="602.3" r="12.8" fill="none" stroke="#d4d4d4" stroke-width="1.2" />
<circle cx="923.4" cy="602.3" r="12.8" fill="none" stroke="#d4d4d4" stroke-width="1.2" />
<circle cx="923.4" cy="602.3" r="10.8" fill="none" stroke="#d4d4d4" stroke-width="1.2" />
<text x="888.6" y="605.8" font-size="9.5" fill="#2a2a35" text-anchor="middle" font-weight="normal" >×2</text>
<text x="923.4" y="605.8" font-size="9.5" fill="#2a2a35" text-anchor="middle" font-weight="normal" >×5</text>
<line x1="1013.7" y1="596.6" x2="1172.9" y2="596.6" stroke="#111" stroke-width="1.5" />
<line x1="1013.7" y1="596.6" x2="1013.7" y2="600.2" stroke="#111" stroke-width="1.3" />
<text x="1013.7" y="612.5" font-size="9.5" fill="#2a2a35" text-anchor="middle" font-weight="normal" >0</text>
<line x1="1059.2" y1="596.6" x2="1059.2" y2="600.2" stroke="#111" stroke-width="1.3" />
<text x="1059.2" y="612.5" font-size="9.5" fill="#2a2a35" text-anchor="middle" font-weight="normal" >200</text>
<line x1="1104.7" y1="596.6" x2="1104.7" y2="600.2" stroke="#111" stroke-width="1.3" />
<text x="1104.7" y="612.5" font-size="9.5" fill="#2a2a35" text-anchor="middle" font-weight="normal" >400</text>
<line x1="1150.2" y1="596.6" x2="1150.2" y2="600.2" stroke="#111" stroke-width="1.3" />
<text x="1150.2" y="612.5" font-size="9.5" fill="#2a2a35" text-anchor="middle" font-weight="normal" >600</text>
<line x1="1172.9" y1="596.6" x2="1172.9" y2="600.2" stroke="#111" stroke-width="1.3" />
<text x="1172.9" y="612.5" font-size="9.5" fill="#2a2a35" text-anchor="middle" font-weight="normal" >700</text>
<text x="1092.9" y="628.5" font-size="10" fill="#2a2a35" text-anchor="middle"><tspan font-style="italic">r</tspan> (nm)</text></g>
<text x="16" y="28.7" font-size="22" fill="#111" text-anchor="start" font-weight="bold" >(a)</text>
<text x="15.5" y="309" font-size="22" fill="#111" text-anchor="start" font-weight="bold" >(b)</text>
<text x="440.2" y="23.2" font-size="22" fill="#111" text-anchor="start" font-weight="bold" >(c)</text>
<text x="847" y="22.8" font-size="22" fill="#111" text-anchor="start" font-weight="bold" >(d)</text>
<text x="847" y="267.6" font-size="22" fill="#111" text-anchor="start" font-weight="bold" >(e)</text>
</svg>
</body></html>
